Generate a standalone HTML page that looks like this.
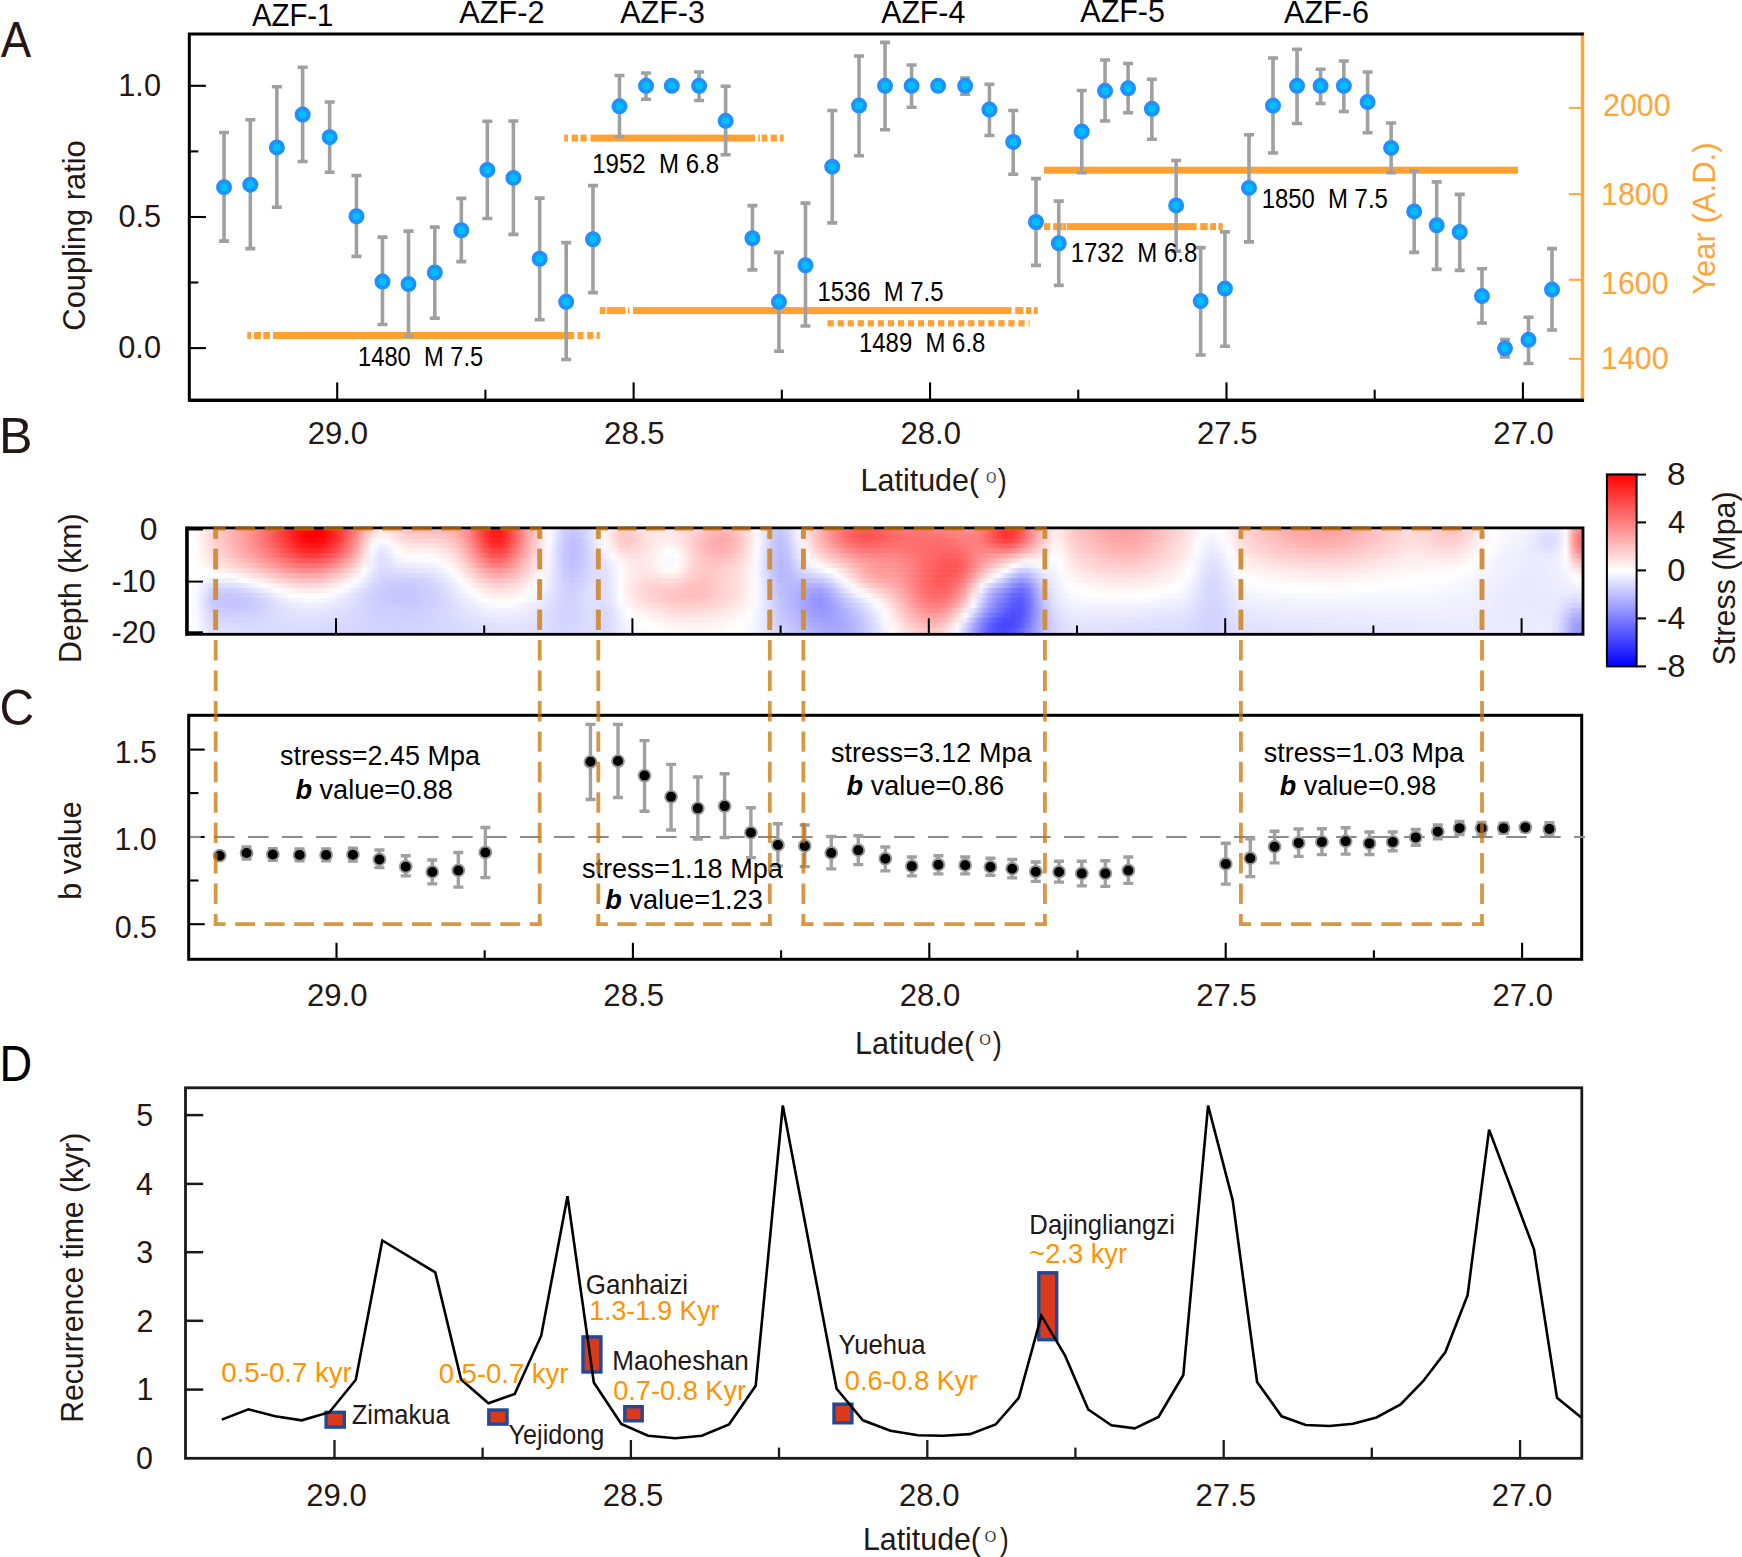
<!DOCTYPE html>
<html><head><meta charset="utf-8"><title>Figure</title>
<style>html,body{margin:0;padding:0;background:#fff}svg{display:block}text{font-family:"Liberation Sans",Arial,Helvetica,sans-serif}</style>
</head><body>
<svg width="1742" height="1557" viewBox="0 0 1742 1557">
<rect width="1742" height="1557" fill="#fff"/>
<text transform="translate(0.7 57) scale(0.9572 1.0400)" font-size="47.6" fill="#231815">A</text>
<text transform="translate(-0.92 453) scale(1.0563 1.0400)" font-size="47.6" fill="#231815">B</text>
<text transform="translate(-0.5 724.6) scale(1.0091 1.0400)" font-size="47.6" fill="#231815">C</text>
<text transform="translate(-0.52 1081.1) scale(0.9498 1.0400)" font-size="47.6" fill="#000">D</text>
<text transform="translate(252 25.9) scale(0.9627 1.0300)" font-size="30.4" fill="#000">AZF-1</text>
<text transform="translate(459.3 22.8) scale(1.0116 1.0300)" font-size="30.4" fill="#000">AZF-2</text>
<text transform="translate(620.2 22.8) scale(1.0031 1.0300)" font-size="30.4" fill="#000">AZF-3</text>
<text transform="translate(881.2 22.8) scale(0.9958 1.0300)" font-size="30.4" fill="#000">AZF-4</text>
<text transform="translate(1080.3 21.8) scale(1.0031 1.0300)" font-size="30.4" fill="#000">AZF-5</text>
<text transform="translate(1284.1 22.8) scale(1.0067 1.0300)" font-size="30.4" fill="#000">AZF-6</text>
<rect x="247.25" y="332" width="3.95" height="7" fill="#ffa033"/>
<rect x="254" y="332" width="6.9" height="7" fill="#ffa033"/>
<rect x="263.3" y="332" width="6.7" height="7" fill="#ffa033"/>
<rect x="273" y="332" width="301.2" height="7" fill="#ffa033"/>
<rect x="577.5" y="332" width="6" height="7" fill="#ffa033"/>
<rect x="587.2" y="332" width="6" height="7" fill="#ffa033"/>
<rect x="596.7" y="332" width="3" height="7" fill="#ffa033"/>
<rect x="564.2" y="134.6" width="3.8" height="7" fill="#ffa033"/>
<rect x="571.7" y="134.6" width="6.3" height="7" fill="#ffa033"/>
<rect x="580.5" y="134.6" width="6.2" height="7" fill="#ffa033"/>
<rect x="590.5" y="134.6" width="164.4" height="7" fill="#ffa033"/>
<rect x="758.2" y="134.6" width="1.7" height="7" fill="#ffa033"/>
<rect x="761.7" y="134.6" width="5.7" height="7" fill="#ffa033"/>
<rect x="770.7" y="134.6" width="6.2" height="7" fill="#ffa033"/>
<rect x="779.9" y="134.6" width="3.8" height="7" fill="#ffa033"/>
<rect x="599.7" y="307.1" width="5.8" height="7" fill="#ffa033"/>
<rect x="606.7" y="307.1" width="18.8" height="7" fill="#ffa033"/>
<rect x="628" y="307.1" width="1.2" height="7" fill="#ffa033"/>
<rect x="633" y="307.1" width="378.5" height="7" fill="#ffa033"/>
<rect x="1015.2" y="307.1" width="8.3" height="7" fill="#ffa033"/>
<rect x="1026" y="307.1" width="5.5" height="7" fill="#ffa033"/>
<rect x="1034" y="307.1" width="3.7" height="7" fill="#ffa033"/>
<rect x="827.5" y="320.2" width="6.2" height="6.2" fill="#ffa033"/>
<rect x="837.55" y="320.2" width="6.2" height="6.2" fill="#ffa033"/>
<rect x="847.6" y="320.2" width="6.2" height="6.2" fill="#ffa033"/>
<rect x="857.65" y="320.2" width="6.2" height="6.2" fill="#ffa033"/>
<rect x="867.7" y="320.2" width="6.2" height="6.2" fill="#ffa033"/>
<rect x="877.75" y="320.2" width="6.2" height="6.2" fill="#ffa033"/>
<rect x="887.8" y="320.2" width="6.2" height="6.2" fill="#ffa033"/>
<rect x="897.85" y="320.2" width="6.2" height="6.2" fill="#ffa033"/>
<rect x="907.9" y="320.2" width="6.2" height="6.2" fill="#ffa033"/>
<rect x="917.95" y="320.2" width="6.2" height="6.2" fill="#ffa033"/>
<rect x="928" y="320.2" width="6.2" height="6.2" fill="#ffa033"/>
<rect x="938.05" y="320.2" width="6.2" height="6.2" fill="#ffa033"/>
<rect x="948.1" y="320.2" width="6.2" height="6.2" fill="#ffa033"/>
<rect x="958.15" y="320.2" width="6.2" height="6.2" fill="#ffa033"/>
<rect x="968.2" y="320.2" width="6.2" height="6.2" fill="#ffa033"/>
<rect x="978.25" y="320.2" width="6.2" height="6.2" fill="#ffa033"/>
<rect x="988.3" y="320.2" width="6.2" height="6.2" fill="#ffa033"/>
<rect x="998.35" y="320.2" width="6.2" height="6.2" fill="#ffa033"/>
<rect x="1008.4" y="320.2" width="6.2" height="6.2" fill="#ffa033"/>
<rect x="1018.45" y="320.2" width="6.2" height="6.2" fill="#ffa033"/>
<rect x="1028.5" y="320.2" width="1" height="6.2" fill="#ffa033"/>
<rect x="1044" y="166.7" width="474" height="7" fill="#ffa033"/>
<rect x="1036.5" y="223.1" width="4.3" height="7" fill="#ffa033"/>
<rect x="1044" y="223.1" width="6.3" height="7" fill="#ffa033"/>
<rect x="1053.2" y="223.1" width="9.5" height="7" fill="#ffa033"/>
<rect x="1063.1" y="223.1" width="2.9" height="7" fill="#ffa033"/>
<rect x="1066.8" y="223.1" width="129.9" height="7" fill="#ffa033"/>
<rect x="1200.2" y="223.1" width="7.5" height="7" fill="#ffa033"/>
<rect x="1210.2" y="223.1" width="5.8" height="7" fill="#ffa033"/>
<rect x="1218.4" y="223.1" width="4.3" height="7" fill="#ffa033"/>
<g stroke="#a0a0a0" stroke-width="3.6" fill="none"><path d="M224.05 132.12 V241.5 M219.05 132.52 h10 M219.05 241.1 h10"/><path d="M250.33 119.36 V249.01 M245.33 119.76 h10 M245.33 248.61 h10"/><path d="M276.86 86.32 V207.71 M271.86 86.72 h10 M271.86 207.31 h10"/><path d="M302.64 66.8 V161.91 M297.64 67.2 h10 M297.64 161.51 h10"/><path d="M329.67 101.59 V172.67 M324.67 101.99 h10 M324.67 172.27 h10"/><path d="M356.45 175.17 V256.77 M351.45 175.57 h10 M351.45 256.37 h10"/><path d="M382.48 236.74 V324.84 M377.48 237.14 h10 M377.48 324.44 h10"/><path d="M408.51 230.74 V336.61 M403.51 231.14 h10 M403.51 336.21 h10"/><path d="M434.79 226.73 V318.59 M429.79 227.13 h10 M429.79 318.19 h10"/><path d="M461.32 197.95 V262.02 M456.32 198.35 h10 M456.32 261.62 h10"/><path d="M487.35 120.86 V218.97 M482.35 121.26 h10 M482.35 218.57 h10"/><path d="M513.38 120.61 V234.74 M508.38 121.01 h10 M508.38 234.34 h10"/><path d="M539.66 197.7 V320.09 M534.66 198.1 h10 M534.66 319.69 h10"/><path d="M566.19 242.25 V359.89 M561.19 242.65 h10 M561.19 359.49 h10"/><path d="M592.97 185.18 V293.06 M587.97 185.58 h10 M587.97 292.66 h10"/><path d="M619.5 75.06 V137.13 M614.5 75.46 h10 M614.5 136.73 h10"/><path d="M646.03 72.55 V99.59 M641.03 72.95 h10 M641.03 99.19 h10"/><path d="M699.1 71.55 V100.84 M694.1 71.95 h10 M694.1 100.44 h10"/><path d="M725.63 85.82 V155.15 M720.63 86.22 h10 M720.63 154.75 h10"/><path d="M752.41 205.21 V270.28 M747.41 205.61 h10 M747.41 269.88 h10"/><path d="M778.94 252.01 V351.63 M773.94 252.41 h10 M773.94 351.23 h10"/><path d="M805.47 202.7 V326.35 M800.47 203.1 h10 M800.47 325.95 h10"/><path d="M832.25 110.1 V223.23 M827.25 110.5 h10 M827.25 222.83 h10"/><path d="M859.03 55.54 V156.15 M854.03 55.94 h10 M854.03 155.75 h10"/><path d="M885.06 42.02 V130.12 M880.06 42.42 h10 M880.06 129.72 h10"/><path d="M911.59 64.55 V107.59 M906.59 64.95 h10 M906.59 107.19 h10"/><path d="M965.15 77.56 V94.58 M960.15 77.96 h10 M960.15 94.18 h10"/><path d="M989.43 83.82 V135.88 M984.43 84.22 h10 M984.43 135.48 h10"/><path d="M1013.21 110.1 V174.67 M1008.21 110.5 h10 M1008.21 174.27 h10"/><path d="M1035.98 178.18 V265.78 M1030.98 178.58 h10 M1030.98 265.38 h10"/><path d="M1058.76 200.7 V285.8 M1053.76 201.1 h10 M1053.76 285.4 h10"/><path d="M1081.78 90.07 V173.17 M1076.78 90.47 h10 M1076.78 172.77 h10"/><path d="M1105.06 59.54 V121.36 M1100.06 59.94 h10 M1100.06 120.96 h10"/><path d="M1128.09 63.04 V113.1 M1123.09 63.44 h10 M1123.09 112.7 h10"/><path d="M1151.86 78.81 V139.63 M1146.86 79.21 h10 M1146.86 139.23 h10"/><path d="M1176.14 160.16 V251.51 M1171.14 160.56 h10 M1171.14 251.11 h10"/><path d="M1200.67 247.26 V355.38 M1195.67 247.66 h10 M1195.67 354.98 h10"/><path d="M1224.95 231.49 V346.62 M1219.95 231.89 h10 M1219.95 346.22 h10"/><path d="M1248.98 134.38 V242.25 M1243.98 134.78 h10 M1243.98 241.85 h10"/><path d="M1273 57.54 V153.4 M1268 57.94 h10 M1268 153 h10"/><path d="M1297.03 48.78 V123.86 M1292.03 49.18 h10 M1292.03 123.46 h10"/><path d="M1320.56 68.8 V103.84 M1315.56 69.2 h10 M1315.56 103.44 h10"/><path d="M1343.84 60.54 V111.85 M1338.84 60.94 h10 M1338.84 111.45 h10"/><path d="M1367.61 71.55 V133.12 M1362.61 71.95 h10 M1362.61 132.72 h10"/><path d="M1391.14 122.61 V173.17 M1386.14 123.01 h10 M1386.14 172.77 h10"/><path d="M1414.17 170.67 V252.76 M1409.17 171.07 h10 M1409.17 252.36 h10"/><path d="M1436.69 181.43 V269.78 M1431.69 181.83 h10 M1431.69 269.38 h10"/><path d="M1459.72 193.94 V270.78 M1454.72 194.34 h10 M1454.72 270.38 h10"/><path d="M1481.99 268.28 V323.34 M1476.99 268.68 h10 M1476.99 322.94 h10"/><path d="M1504.98 339.11 V357.38 M1499.98 339.51 h10 M1499.98 356.98 h10"/><path d="M1528.51 316.84 V363.89 M1523.51 317.24 h10 M1523.51 363.49 h10"/><path d="M1552.03 248.26 V330.35 M1547.03 248.66 h10 M1547.03 329.95 h10"/></g>
<g fill="#00bfff" stroke="#1e90ff" stroke-width="4"><circle cx="224.05" cy="187.19" r="6"/><circle cx="250.33" cy="184.68" r="6"/><circle cx="276.86" cy="147.39" r="6"/><circle cx="302.64" cy="114.6" r="6"/><circle cx="329.67" cy="137.13" r="6"/><circle cx="356.45" cy="216.22" r="6"/><circle cx="382.48" cy="281.55" r="6"/><circle cx="408.51" cy="284.05" r="6"/><circle cx="434.79" cy="272.53" r="6"/><circle cx="461.32" cy="230.24" r="6"/><circle cx="487.35" cy="169.92" r="6"/><circle cx="513.38" cy="177.93" r="6"/><circle cx="539.66" cy="258.77" r="6"/><circle cx="566.19" cy="301.82" r="6"/><circle cx="592.97" cy="239.25" r="6"/><circle cx="619.5" cy="106.34" r="6"/><circle cx="646.03" cy="85.82" r="6"/><circle cx="671.81" cy="85.82" r="6"/><circle cx="699.1" cy="85.82" r="6"/><circle cx="725.63" cy="120.86" r="6"/><circle cx="752.41" cy="238.25" r="6"/><circle cx="778.94" cy="301.82" r="6"/><circle cx="805.47" cy="265.28" r="6"/><circle cx="832.25" cy="166.66" r="6"/><circle cx="859.03" cy="105.59" r="6"/><circle cx="885.06" cy="85.82" r="6"/><circle cx="911.59" cy="85.82" r="6"/><circle cx="938.12" cy="85.82" r="6"/><circle cx="965.15" cy="85.82" r="6"/><circle cx="989.43" cy="109.6" r="6"/><circle cx="1013.21" cy="141.88" r="6"/><circle cx="1035.98" cy="221.98" r="6"/><circle cx="1058.76" cy="243.25" r="6"/><circle cx="1081.78" cy="131.62" r="6"/><circle cx="1105.06" cy="90.83" r="6"/><circle cx="1128.09" cy="88.32" r="6"/><circle cx="1151.86" cy="108.85" r="6"/><circle cx="1176.14" cy="205.46" r="6"/><circle cx="1200.67" cy="301.07" r="6"/><circle cx="1224.95" cy="288.55" r="6"/><circle cx="1248.98" cy="187.94" r="6"/><circle cx="1273" cy="105.59" r="6"/><circle cx="1297.03" cy="85.82" r="6"/><circle cx="1320.56" cy="85.82" r="6"/><circle cx="1343.84" cy="85.82" r="6"/><circle cx="1367.61" cy="102.09" r="6"/><circle cx="1391.14" cy="147.89" r="6"/><circle cx="1414.17" cy="211.46" r="6"/><circle cx="1436.69" cy="225.23" r="6"/><circle cx="1459.72" cy="231.99" r="6"/><circle cx="1481.99" cy="296.06" r="6"/><circle cx="1504.98" cy="348.37" r="6"/><circle cx="1528.51" cy="339.86" r="6"/><circle cx="1552.03" cy="289.55" r="6"/></g>
<text transform="translate(358.12 365.9) scale(0.8969 1.0300)" font-size="26.4" fill="#000" style="white-space:pre">1480  M 7.5</text>
<text transform="translate(592.2 173.2) scale(0.9101 1.0300)" font-size="26.4" fill="#000" style="white-space:pre">1952  M 6.8</text>
<text transform="translate(817.41 300.8) scale(0.9050 1.0300)" font-size="26.4" fill="#000" style="white-space:pre">1536  M 7.5</text>
<text transform="translate(859.01 352.1) scale(0.9065 1.0300)" font-size="26.4" fill="#000" style="white-space:pre">1489  M 6.8</text>
<text transform="translate(1070.7 262) scale(0.9087 1.0300)" font-size="26.4" fill="#000" style="white-space:pre">1732  M 6.8</text>
<text transform="translate(1261.71 208.2) scale(0.9050 1.0300)" font-size="26.4" fill="#000" style="white-space:pre">1850  M 7.5</text>
<line x1="1582.5" y1="32.5" x2="1582.5" y2="402.1" stroke="#ffa537" stroke-width="3.5"/>
<path d="M1583.8 34 H189.3 V400.2 H1583.8" fill="none" stroke="#000" stroke-width="3"/>
<line x1="189.3" y1="400.4" x2="1583.8" y2="400.4" stroke="#000" stroke-width="3.4"/>
<line x1="189.3" y1="85.8" x2="205.9" y2="85.8" stroke="#000" stroke-width="2.1"/>
<line x1="189.3" y1="217" x2="205.9" y2="217" stroke="#000" stroke-width="2.1"/>
<line x1="189.3" y1="348.1" x2="205.9" y2="348.1" stroke="#000" stroke-width="2.1"/>
<line x1="189.3" y1="151.4" x2="198.3" y2="151.4" stroke="#000" stroke-width="2.1"/>
<line x1="189.3" y1="282.5" x2="198.3" y2="282.5" stroke="#000" stroke-width="2.1"/>
<line x1="337.2" y1="382.4" x2="337.2" y2="400" stroke="#000" stroke-width="2.1"/>
<line x1="485.4" y1="389.7" x2="485.4" y2="400" stroke="#000" stroke-width="2.1"/>
<line x1="633.63" y1="382.4" x2="633.63" y2="400" stroke="#000" stroke-width="2.1"/>
<line x1="781.83" y1="389.7" x2="781.83" y2="400" stroke="#000" stroke-width="2.1"/>
<line x1="930.06" y1="382.4" x2="930.06" y2="400" stroke="#000" stroke-width="2.1"/>
<line x1="1078.26" y1="389.7" x2="1078.26" y2="400" stroke="#000" stroke-width="2.1"/>
<line x1="1226.49" y1="382.4" x2="1226.49" y2="400" stroke="#000" stroke-width="2.1"/>
<line x1="1374.69" y1="389.7" x2="1374.69" y2="400" stroke="#000" stroke-width="2.1"/>
<line x1="1522.92" y1="382.4" x2="1522.92" y2="400" stroke="#000" stroke-width="2.1"/>
<line x1="1568.8" y1="107.9" x2="1581.5" y2="107.9" stroke="#ffa537" stroke-width="2"/>
<line x1="1568.8" y1="194.1" x2="1581.5" y2="194.1" stroke="#ffa537" stroke-width="2"/>
<line x1="1568.8" y1="279.8" x2="1581.5" y2="279.8" stroke="#ffa537" stroke-width="2"/>
<line x1="1568.8" y1="358.8" x2="1581.5" y2="358.8" stroke="#ffa537" stroke-width="2"/>
<text transform="translate(1603.02 116.3) scale(1.0000 1.0300)" font-size="30.4" fill="#ffa537">2000</text>
<text transform="translate(1601.02 204.6) scale(1.0000 1.0300)" font-size="30.4" fill="#ffa537">1800</text>
<text transform="translate(1601.02 293.7) scale(1.0000 1.0300)" font-size="30.4" fill="#ffa537">1600</text>
<text transform="translate(1601.02 369) scale(1.0000 1.0300)" font-size="30.4" fill="#ffa537">1400</text>
<text transform="translate(1715.2 294.78) rotate(-90) scale(1.0210 1.0300)" font-size="30.4" fill="#ffa537">Year (A.D.)</text>
<text transform="translate(118.3 96.1) scale(1.0100 1.0300)" font-size="30.4" fill="#231815">1.0</text>
<text transform="translate(118.45 227.3) scale(1.0100 1.0300)" font-size="30.4" fill="#231815">0.5</text>
<text transform="translate(118.3 358.4) scale(1.0100 1.0300)" font-size="30.4" fill="#231815">0.0</text>
<text transform="translate(84.6 330.64) rotate(-90) scale(1.0155 1.0300)" font-size="30.4" fill="#231815">Coupling ratio</text>
<text transform="translate(307.65 444.3) scale(1.0222 1.0300)" font-size="30.4" fill="#231815">29.0</text>
<text transform="translate(604.07 444.3) scale(1.0250 1.0300)" font-size="30.4" fill="#231815">28.5</text>
<text transform="translate(900.51 444.3) scale(1.0222 1.0300)" font-size="30.4" fill="#231815">28.0</text>
<text transform="translate(1196.93 444.3) scale(1.0250 1.0300)" font-size="30.4" fill="#231815">27.5</text>
<text transform="translate(1493.37 444.3) scale(1.0222 1.0300)" font-size="30.4" fill="#231815">27.0</text>
<text transform="translate(860.56 491) scale(1.0028 1.0300)" font-size="30.4" fill="#231815">Latitude(</text>
<text transform="translate(985.81 483.1) scale(1.0254 1.0000)" font-size="19.3" fill="#111" stroke="#fff" stroke-width="0.5">o</text>
<text transform="translate(997.86 491) scale(0.8937 1.0300)" font-size="30.4" fill="#231815">)</text>
<defs><linearGradient id="h0"><stop offset="0.0000" stop-color="#ffffff"/><stop offset="0.0057" stop-color="#fffbfb"/><stop offset="0.0115" stop-color="#ffeaea"/><stop offset="0.0172" stop-color="#ffd4d4"/><stop offset="0.0230" stop-color="#ffc8c8"/><stop offset="0.0402" stop-color="#ff9e9e"/><stop offset="0.0460" stop-color="#ff8d8d"/><stop offset="0.0517" stop-color="#ff7c7c"/><stop offset="0.0575" stop-color="#ff6868"/><stop offset="0.0632" stop-color="#ff5252"/><stop offset="0.0690" stop-color="#ff3a3a"/><stop offset="0.0747" stop-color="#ff2121"/><stop offset="0.0805" stop-color="#ff0b0b"/><stop offset="0.0862" stop-color="#ff0000"/><stop offset="0.0920" stop-color="#ff0000"/><stop offset="0.0977" stop-color="#ff0505"/><stop offset="0.1034" stop-color="#ff1d1d"/><stop offset="0.1092" stop-color="#ff3c3c"/><stop offset="0.1149" stop-color="#ff6060"/><stop offset="0.1207" stop-color="#ff8787"/><stop offset="0.1264" stop-color="#ffb1b1"/><stop offset="0.1322" stop-color="#ffd4d4"/><stop offset="0.1379" stop-color="#ffe5e5"/><stop offset="0.1437" stop-color="#ffe1e1"/><stop offset="0.1494" stop-color="#ffd4d4"/><stop offset="0.1552" stop-color="#ffc9c9"/><stop offset="0.1609" stop-color="#ffc2c2"/><stop offset="0.1667" stop-color="#ffbebe"/><stop offset="0.1782" stop-color="#ffbbbb"/><stop offset="0.1839" stop-color="#ffb8b8"/><stop offset="0.1897" stop-color="#ffb1b1"/><stop offset="0.1954" stop-color="#ffa1a1"/><stop offset="0.2011" stop-color="#ff8787"/><stop offset="0.2069" stop-color="#ff6060"/><stop offset="0.2126" stop-color="#ff3636"/><stop offset="0.2184" stop-color="#ff1a1a"/><stop offset="0.2241" stop-color="#ff1a1a"/><stop offset="0.2299" stop-color="#ff3939"/><stop offset="0.2414" stop-color="#ff9797"/><stop offset="0.2471" stop-color="#ffbebe"/><stop offset="0.2529" stop-color="#ffdfdf"/><stop offset="0.2586" stop-color="#fffdfd"/><stop offset="0.2644" stop-color="#e5e5ff"/><stop offset="0.2701" stop-color="#cfcfff"/><stop offset="0.2759" stop-color="#c7c7ff"/><stop offset="0.2816" stop-color="#cdcdff"/><stop offset="0.2874" stop-color="#ddddff"/><stop offset="0.2931" stop-color="#f0f0ff"/><stop offset="0.2989" stop-color="#fff9f9"/><stop offset="0.3046" stop-color="#ffe2e2"/><stop offset="0.3103" stop-color="#ffd0d0"/><stop offset="0.3161" stop-color="#ffcece"/><stop offset="0.3218" stop-color="#ffd8d8"/><stop offset="0.3276" stop-color="#ffe2e2"/><stop offset="0.3333" stop-color="#ffe8e8"/><stop offset="0.3391" stop-color="#ffe9e9"/><stop offset="0.3448" stop-color="#ffe8e8"/><stop offset="0.3506" stop-color="#ffe4e4"/><stop offset="0.3563" stop-color="#ffdddd"/><stop offset="0.3678" stop-color="#ffc9c9"/><stop offset="0.3736" stop-color="#ffbebe"/><stop offset="0.3793" stop-color="#ffb7b7"/><stop offset="0.3851" stop-color="#ffb7b7"/><stop offset="0.3908" stop-color="#ffc0c0"/><stop offset="0.3966" stop-color="#ffcfcf"/><stop offset="0.4023" stop-color="#ffe3e3"/><stop offset="0.4080" stop-color="#fffdfd"/><stop offset="0.4138" stop-color="#e5e5ff"/><stop offset="0.4195" stop-color="#cdcdff"/><stop offset="0.4253" stop-color="#c6c6ff"/><stop offset="0.4310" stop-color="#d4d4ff"/><stop offset="0.4368" stop-color="#f2f2ff"/><stop offset="0.4425" stop-color="#ffeaea"/><stop offset="0.4483" stop-color="#ffcccc"/><stop offset="0.4540" stop-color="#ffb1b1"/><stop offset="0.4598" stop-color="#ff9999"/><stop offset="0.4655" stop-color="#ff8282"/><stop offset="0.4713" stop-color="#ff6f6f"/><stop offset="0.4770" stop-color="#ff6161"/><stop offset="0.4828" stop-color="#ff5959"/><stop offset="0.4885" stop-color="#ff5858"/><stop offset="0.4943" stop-color="#ff5c5c"/><stop offset="0.5057" stop-color="#ff6c6c"/><stop offset="0.5172" stop-color="#ff7777"/><stop offset="0.5287" stop-color="#ff7b7b"/><stop offset="0.5402" stop-color="#ff7e7e"/><stop offset="0.5517" stop-color="#ff8787"/><stop offset="0.5575" stop-color="#ff8b8b"/><stop offset="0.5632" stop-color="#ff8989"/><stop offset="0.5690" stop-color="#ff7c7c"/><stop offset="0.5747" stop-color="#ff6464"/><stop offset="0.5805" stop-color="#ff4747"/><stop offset="0.5862" stop-color="#ff3535"/><stop offset="0.5920" stop-color="#ff3a3a"/><stop offset="0.5977" stop-color="#ff5858"/><stop offset="0.6034" stop-color="#ff8282"/><stop offset="0.6092" stop-color="#ffaaaa"/><stop offset="0.6149" stop-color="#ffcdcd"/><stop offset="0.6207" stop-color="#ffe7e7"/><stop offset="0.6264" stop-color="#ffe5e5"/><stop offset="0.6322" stop-color="#ffd2d2"/><stop offset="0.6379" stop-color="#ffc5c5"/><stop offset="0.6437" stop-color="#ffbcbc"/><stop offset="0.6552" stop-color="#ffabab"/><stop offset="0.6609" stop-color="#ffa5a5"/><stop offset="0.6667" stop-color="#ffa1a1"/><stop offset="0.6724" stop-color="#ffa0a0"/><stop offset="0.6782" stop-color="#ffa2a2"/><stop offset="0.6839" stop-color="#ffa8a8"/><stop offset="0.6897" stop-color="#ffb0b0"/><stop offset="0.7126" stop-color="#ffd9d9"/><stop offset="0.7184" stop-color="#ffe6e6"/><stop offset="0.7241" stop-color="#fff5f5"/><stop offset="0.7299" stop-color="#fcfcff"/><stop offset="0.7356" stop-color="#f9f9ff"/><stop offset="0.7414" stop-color="#fffefe"/><stop offset="0.7529" stop-color="#ffe1e1"/><stop offset="0.7586" stop-color="#ffd5d5"/><stop offset="0.7816" stop-color="#ffb6b6"/><stop offset="0.7989" stop-color="#ffa7a7"/><stop offset="0.8046" stop-color="#ffa5a5"/><stop offset="0.8103" stop-color="#ffa3a3"/><stop offset="0.8276" stop-color="#ffa9a9"/><stop offset="0.8333" stop-color="#ffadad"/><stop offset="0.8506" stop-color="#ffc0c0"/><stop offset="0.8678" stop-color="#ffd4d4"/><stop offset="0.8736" stop-color="#ffd8d8"/><stop offset="0.8793" stop-color="#ffdada"/><stop offset="0.8851" stop-color="#ffd7d7"/><stop offset="0.8908" stop-color="#ffd1d1"/><stop offset="0.8966" stop-color="#ffc9c9"/><stop offset="0.9023" stop-color="#ffc4c4"/><stop offset="0.9080" stop-color="#ffc5c5"/><stop offset="0.9138" stop-color="#ffcece"/><stop offset="0.9195" stop-color="#ffdbdb"/><stop offset="0.9253" stop-color="#ffeaea"/><stop offset="0.9310" stop-color="#fff6f6"/><stop offset="0.9368" stop-color="#fffefe"/><stop offset="0.9425" stop-color="#fbfbff"/><stop offset="0.9598" stop-color="#f3f3ff"/><stop offset="0.9655" stop-color="#eeeeff"/><stop offset="0.9713" stop-color="#e7e7ff"/><stop offset="0.9770" stop-color="#e5e5ff"/><stop offset="0.9828" stop-color="#ebebff"/><stop offset="0.9885" stop-color="#fff9f9"/><stop offset="0.9943" stop-color="#ffa3a3"/><stop offset="1.0000" stop-color="#ff7a7a"/></linearGradient><linearGradient id="h1"><stop offset="0.0000" stop-color="#ffffff"/><stop offset="0.0057" stop-color="#fffbfb"/><stop offset="0.0115" stop-color="#ffeaea"/><stop offset="0.0172" stop-color="#ffd4d4"/><stop offset="0.0230" stop-color="#ffc8c8"/><stop offset="0.0345" stop-color="#ffadad"/><stop offset="0.0460" stop-color="#ff8c8c"/><stop offset="0.0517" stop-color="#ff7b7b"/><stop offset="0.0575" stop-color="#ff6767"/><stop offset="0.0690" stop-color="#ff3a3a"/><stop offset="0.0747" stop-color="#ff2222"/><stop offset="0.0805" stop-color="#ff0d0d"/><stop offset="0.0862" stop-color="#ff0000"/><stop offset="0.0920" stop-color="#ff0000"/><stop offset="0.0977" stop-color="#ff0808"/><stop offset="0.1034" stop-color="#ff1f1f"/><stop offset="0.1092" stop-color="#ff3e3e"/><stop offset="0.1149" stop-color="#ff6262"/><stop offset="0.1207" stop-color="#ff8c8c"/><stop offset="0.1264" stop-color="#ffbaba"/><stop offset="0.1322" stop-color="#ffe2e2"/><stop offset="0.1379" stop-color="#fff4f4"/><stop offset="0.1437" stop-color="#ffeeee"/><stop offset="0.1494" stop-color="#ffdede"/><stop offset="0.1552" stop-color="#ffd2d2"/><stop offset="0.1609" stop-color="#ffcccc"/><stop offset="0.1782" stop-color="#ffc6c6"/><stop offset="0.1839" stop-color="#ffc1c1"/><stop offset="0.1897" stop-color="#ffb8b8"/><stop offset="0.1954" stop-color="#ffa7a7"/><stop offset="0.2011" stop-color="#ff8a8a"/><stop offset="0.2069" stop-color="#ff6363"/><stop offset="0.2126" stop-color="#ff3838"/><stop offset="0.2184" stop-color="#ff1c1c"/><stop offset="0.2241" stop-color="#ff1c1c"/><stop offset="0.2299" stop-color="#ff3a3a"/><stop offset="0.2414" stop-color="#ff9797"/><stop offset="0.2471" stop-color="#ffbebe"/><stop offset="0.2529" stop-color="#ffe0e0"/><stop offset="0.2586" stop-color="#ffffff"/><stop offset="0.2644" stop-color="#e2e2ff"/><stop offset="0.2701" stop-color="#ccccff"/><stop offset="0.2759" stop-color="#c3c3ff"/><stop offset="0.2816" stop-color="#cacaff"/><stop offset="0.2874" stop-color="#dbdbff"/><stop offset="0.2931" stop-color="#efefff"/><stop offset="0.2989" stop-color="#fff9f9"/><stop offset="0.3046" stop-color="#ffdede"/><stop offset="0.3103" stop-color="#ffcaca"/><stop offset="0.3161" stop-color="#ffc8c8"/><stop offset="0.3218" stop-color="#ffd3d3"/><stop offset="0.3276" stop-color="#ffdfdf"/><stop offset="0.3333" stop-color="#ffe7e7"/><stop offset="0.3391" stop-color="#ffeaea"/><stop offset="0.3448" stop-color="#ffeaea"/><stop offset="0.3506" stop-color="#ffe5e5"/><stop offset="0.3563" stop-color="#ffdcdc"/><stop offset="0.3678" stop-color="#ffc3c3"/><stop offset="0.3736" stop-color="#ffb7b7"/><stop offset="0.3793" stop-color="#ffafaf"/><stop offset="0.3851" stop-color="#ffafaf"/><stop offset="0.3908" stop-color="#ffb9b9"/><stop offset="0.3966" stop-color="#ffc9c9"/><stop offset="0.4023" stop-color="#ffe0e0"/><stop offset="0.4080" stop-color="#fffcfc"/><stop offset="0.4138" stop-color="#e4e4ff"/><stop offset="0.4195" stop-color="#cbcbff"/><stop offset="0.4253" stop-color="#c3c3ff"/><stop offset="0.4310" stop-color="#d1d1ff"/><stop offset="0.4368" stop-color="#f0f0ff"/><stop offset="0.4425" stop-color="#ffebeb"/><stop offset="0.4483" stop-color="#ffcccc"/><stop offset="0.4540" stop-color="#ffb1b1"/><stop offset="0.4598" stop-color="#ff9898"/><stop offset="0.4655" stop-color="#ff8181"/><stop offset="0.4713" stop-color="#ff6d6d"/><stop offset="0.4770" stop-color="#ff5e5e"/><stop offset="0.4828" stop-color="#ff5656"/><stop offset="0.4885" stop-color="#ff5555"/><stop offset="0.4943" stop-color="#ff5959"/><stop offset="0.5057" stop-color="#ff6868"/><stop offset="0.5115" stop-color="#ff6e6e"/><stop offset="0.5230" stop-color="#ff7373"/><stop offset="0.5287" stop-color="#ff7373"/><stop offset="0.5460" stop-color="#ff7979"/><stop offset="0.5517" stop-color="#ff7f7f"/><stop offset="0.5575" stop-color="#ff8484"/><stop offset="0.5632" stop-color="#ff8383"/><stop offset="0.5690" stop-color="#ff7878"/><stop offset="0.5747" stop-color="#ff6161"/><stop offset="0.5805" stop-color="#ff4545"/><stop offset="0.5862" stop-color="#ff3434"/><stop offset="0.5920" stop-color="#ff3a3a"/><stop offset="0.5977" stop-color="#ff5959"/><stop offset="0.6034" stop-color="#ff8383"/><stop offset="0.6092" stop-color="#ffabab"/><stop offset="0.6149" stop-color="#ffcece"/><stop offset="0.6207" stop-color="#ffeaea"/><stop offset="0.6264" stop-color="#ffe7e7"/><stop offset="0.6322" stop-color="#ffd4d4"/><stop offset="0.6379" stop-color="#ffc7c7"/><stop offset="0.6437" stop-color="#ffbebe"/><stop offset="0.6552" stop-color="#ffadad"/><stop offset="0.6609" stop-color="#ffa7a7"/><stop offset="0.6667" stop-color="#ffa3a3"/><stop offset="0.6724" stop-color="#ffa2a2"/><stop offset="0.6782" stop-color="#ffa5a5"/><stop offset="0.6839" stop-color="#ffaaaa"/><stop offset="0.6897" stop-color="#ffb2b2"/><stop offset="0.7126" stop-color="#ffdbdb"/><stop offset="0.7184" stop-color="#ffe8e8"/><stop offset="0.7241" stop-color="#fff7f7"/><stop offset="0.7299" stop-color="#fafaff"/><stop offset="0.7356" stop-color="#f5f5ff"/><stop offset="0.7414" stop-color="#fdfdff"/><stop offset="0.7471" stop-color="#fff2f2"/><stop offset="0.7529" stop-color="#ffe2e2"/><stop offset="0.7586" stop-color="#ffd6d6"/><stop offset="0.7644" stop-color="#ffcdcd"/><stop offset="0.7816" stop-color="#ffb8b8"/><stop offset="0.7931" stop-color="#ffadad"/><stop offset="0.8046" stop-color="#ffa7a7"/><stop offset="0.8161" stop-color="#ffa6a6"/><stop offset="0.8276" stop-color="#ffabab"/><stop offset="0.8333" stop-color="#ffafaf"/><stop offset="0.8506" stop-color="#ffc2c2"/><stop offset="0.8736" stop-color="#ffdada"/><stop offset="0.8793" stop-color="#ffdbdb"/><stop offset="0.8851" stop-color="#ffd9d9"/><stop offset="0.8908" stop-color="#ffd3d3"/><stop offset="0.8966" stop-color="#ffcbcb"/><stop offset="0.9023" stop-color="#ffc7c7"/><stop offset="0.9080" stop-color="#ffc8c8"/><stop offset="0.9138" stop-color="#ffd0d0"/><stop offset="0.9195" stop-color="#ffdddd"/><stop offset="0.9253" stop-color="#ffebeb"/><stop offset="0.9310" stop-color="#fff7f7"/><stop offset="0.9368" stop-color="#ffffff"/><stop offset="0.9425" stop-color="#fafaff"/><stop offset="0.9483" stop-color="#f6f6ff"/><stop offset="0.9540" stop-color="#f4f4ff"/><stop offset="0.9598" stop-color="#f0f0ff"/><stop offset="0.9655" stop-color="#e9e9ff"/><stop offset="0.9713" stop-color="#e0e0ff"/><stop offset="0.9770" stop-color="#ddddff"/><stop offset="0.9828" stop-color="#e5e5ff"/><stop offset="0.9885" stop-color="#fffafa"/><stop offset="0.9943" stop-color="#ff9999"/><stop offset="1.0000" stop-color="#ff6b6b"/></linearGradient><linearGradient id="h2"><stop offset="0.0000" stop-color="#ffffff"/><stop offset="0.0057" stop-color="#fffcfc"/><stop offset="0.0115" stop-color="#ffeaea"/><stop offset="0.0172" stop-color="#ffd5d5"/><stop offset="0.0230" stop-color="#ffc9c9"/><stop offset="0.0345" stop-color="#ffaeae"/><stop offset="0.0460" stop-color="#ff8e8e"/><stop offset="0.0575" stop-color="#ff6969"/><stop offset="0.0690" stop-color="#ff3e3e"/><stop offset="0.0747" stop-color="#ff2727"/><stop offset="0.0805" stop-color="#ff1313"/><stop offset="0.0862" stop-color="#ff0707"/><stop offset="0.0920" stop-color="#ff0505"/><stop offset="0.0977" stop-color="#ff1010"/><stop offset="0.1034" stop-color="#ff2626"/><stop offset="0.1092" stop-color="#ff4545"/><stop offset="0.1149" stop-color="#ff6969"/><stop offset="0.1207" stop-color="#ff9393"/><stop offset="0.1264" stop-color="#ffc4c4"/><stop offset="0.1322" stop-color="#fff0f0"/><stop offset="0.1379" stop-color="#fbfbff"/><stop offset="0.1437" stop-color="#fffcfc"/><stop offset="0.1494" stop-color="#ffeaea"/><stop offset="0.1552" stop-color="#ffdddd"/><stop offset="0.1609" stop-color="#ffd8d8"/><stop offset="0.1724" stop-color="#ffd6d6"/><stop offset="0.1782" stop-color="#ffd3d3"/><stop offset="0.1839" stop-color="#ffcdcd"/><stop offset="0.1897" stop-color="#ffc2c2"/><stop offset="0.1954" stop-color="#ffafaf"/><stop offset="0.2011" stop-color="#ff9191"/><stop offset="0.2069" stop-color="#ff6969"/><stop offset="0.2126" stop-color="#ff4040"/><stop offset="0.2184" stop-color="#ff2424"/><stop offset="0.2241" stop-color="#ff2424"/><stop offset="0.2299" stop-color="#ff4040"/><stop offset="0.2414" stop-color="#ff9999"/><stop offset="0.2471" stop-color="#ffc0c0"/><stop offset="0.2529" stop-color="#ffe1e1"/><stop offset="0.2586" stop-color="#fdfdff"/><stop offset="0.2644" stop-color="#e0e0ff"/><stop offset="0.2701" stop-color="#c9c9ff"/><stop offset="0.2759" stop-color="#c0c0ff"/><stop offset="0.2816" stop-color="#c7c7ff"/><stop offset="0.2874" stop-color="#d9d9ff"/><stop offset="0.2931" stop-color="#ededff"/><stop offset="0.2989" stop-color="#fffbfb"/><stop offset="0.3046" stop-color="#ffe1e1"/><stop offset="0.3103" stop-color="#ffcbcb"/><stop offset="0.3161" stop-color="#ffc8c8"/><stop offset="0.3218" stop-color="#ffd2d2"/><stop offset="0.3276" stop-color="#ffdfdf"/><stop offset="0.3333" stop-color="#ffe7e7"/><stop offset="0.3391" stop-color="#ffeded"/><stop offset="0.3448" stop-color="#ffefef"/><stop offset="0.3506" stop-color="#ffe9e9"/><stop offset="0.3563" stop-color="#ffdddd"/><stop offset="0.3678" stop-color="#ffbfbf"/><stop offset="0.3736" stop-color="#ffb3b3"/><stop offset="0.3793" stop-color="#ffabab"/><stop offset="0.3851" stop-color="#ffacac"/><stop offset="0.3908" stop-color="#ffb6b6"/><stop offset="0.3966" stop-color="#ffc7c7"/><stop offset="0.4023" stop-color="#ffdfdf"/><stop offset="0.4080" stop-color="#fffcfc"/><stop offset="0.4138" stop-color="#e3e3ff"/><stop offset="0.4195" stop-color="#c9c9ff"/><stop offset="0.4253" stop-color="#c0c0ff"/><stop offset="0.4310" stop-color="#ceceff"/><stop offset="0.4368" stop-color="#ededff"/><stop offset="0.4425" stop-color="#ffeeee"/><stop offset="0.4483" stop-color="#ffcfcf"/><stop offset="0.4598" stop-color="#ff9c9c"/><stop offset="0.4655" stop-color="#ff8686"/><stop offset="0.4713" stop-color="#ff7373"/><stop offset="0.4770" stop-color="#ff6464"/><stop offset="0.4828" stop-color="#ff5c5c"/><stop offset="0.4885" stop-color="#ff5a5a"/><stop offset="0.5057" stop-color="#ff6969"/><stop offset="0.5115" stop-color="#ff6e6e"/><stop offset="0.5287" stop-color="#ff6e6e"/><stop offset="0.5402" stop-color="#ff6f6f"/><stop offset="0.5460" stop-color="#ff7272"/><stop offset="0.5517" stop-color="#ff7878"/><stop offset="0.5575" stop-color="#ff7e7e"/><stop offset="0.5632" stop-color="#ff8080"/><stop offset="0.5690" stop-color="#ff7a7a"/><stop offset="0.5747" stop-color="#ff6767"/><stop offset="0.5805" stop-color="#ff5151"/><stop offset="0.5862" stop-color="#ff4343"/><stop offset="0.5920" stop-color="#ff4b4b"/><stop offset="0.5977" stop-color="#ff6868"/><stop offset="0.6034" stop-color="#ff8f8f"/><stop offset="0.6092" stop-color="#ffb3b3"/><stop offset="0.6149" stop-color="#ffd3d3"/><stop offset="0.6207" stop-color="#ffeeee"/><stop offset="0.6264" stop-color="#ffeaea"/><stop offset="0.6322" stop-color="#ffd6d6"/><stop offset="0.6379" stop-color="#ffc9c9"/><stop offset="0.6437" stop-color="#ffc1c1"/><stop offset="0.6494" stop-color="#ffb8b8"/><stop offset="0.6609" stop-color="#ffabab"/><stop offset="0.6667" stop-color="#ffa7a7"/><stop offset="0.6724" stop-color="#ffa6a6"/><stop offset="0.6782" stop-color="#ffa8a8"/><stop offset="0.6897" stop-color="#ffb5b5"/><stop offset="0.7126" stop-color="#ffdddd"/><stop offset="0.7184" stop-color="#ffeaea"/><stop offset="0.7241" stop-color="#fffafa"/><stop offset="0.7299" stop-color="#f6f6ff"/><stop offset="0.7356" stop-color="#f2f2ff"/><stop offset="0.7414" stop-color="#fafaff"/><stop offset="0.7471" stop-color="#fff5f5"/><stop offset="0.7529" stop-color="#ffe5e5"/><stop offset="0.7586" stop-color="#ffd9d9"/><stop offset="0.7644" stop-color="#ffd0d0"/><stop offset="0.7816" stop-color="#ffbcbc"/><stop offset="0.7931" stop-color="#ffb2b2"/><stop offset="0.8046" stop-color="#ffacac"/><stop offset="0.8161" stop-color="#ffabab"/><stop offset="0.8276" stop-color="#ffb0b0"/><stop offset="0.8506" stop-color="#ffc5c5"/><stop offset="0.8678" stop-color="#ffd8d8"/><stop offset="0.8736" stop-color="#ffdcdc"/><stop offset="0.8793" stop-color="#ffdede"/><stop offset="0.8851" stop-color="#ffdcdc"/><stop offset="0.8908" stop-color="#ffd7d7"/><stop offset="0.8966" stop-color="#ffd0d0"/><stop offset="0.9023" stop-color="#ffcccc"/><stop offset="0.9080" stop-color="#ffcece"/><stop offset="0.9138" stop-color="#ffd5d5"/><stop offset="0.9195" stop-color="#ffe1e1"/><stop offset="0.9253" stop-color="#ffeeee"/><stop offset="0.9310" stop-color="#fff9f9"/><stop offset="0.9368" stop-color="#fdfdff"/><stop offset="0.9425" stop-color="#f8f8ff"/><stop offset="0.9540" stop-color="#f3f3ff"/><stop offset="0.9598" stop-color="#efefff"/><stop offset="0.9655" stop-color="#e7e7ff"/><stop offset="0.9713" stop-color="#dedeff"/><stop offset="0.9770" stop-color="#dbdbff"/><stop offset="0.9828" stop-color="#e3e3ff"/><stop offset="0.9885" stop-color="#fffbfb"/><stop offset="0.9943" stop-color="#ff9696"/><stop offset="1.0000" stop-color="#ff6666"/></linearGradient><linearGradient id="h3"><stop offset="0.0000" stop-color="#ffffff"/><stop offset="0.0057" stop-color="#fffcfc"/><stop offset="0.0115" stop-color="#ffebeb"/><stop offset="0.0172" stop-color="#ffd7d7"/><stop offset="0.0230" stop-color="#ffcbcb"/><stop offset="0.0287" stop-color="#ffbfbf"/><stop offset="0.0460" stop-color="#ff9292"/><stop offset="0.0575" stop-color="#ff6f6f"/><stop offset="0.0690" stop-color="#ff4646"/><stop offset="0.0747" stop-color="#ff3131"/><stop offset="0.0805" stop-color="#ff1f1f"/><stop offset="0.0862" stop-color="#ff1414"/><stop offset="0.0920" stop-color="#ff1313"/><stop offset="0.0977" stop-color="#ff1e1e"/><stop offset="0.1034" stop-color="#ff3333"/><stop offset="0.1092" stop-color="#ff5050"/><stop offset="0.1149" stop-color="#ff7373"/><stop offset="0.1207" stop-color="#ff9d9d"/><stop offset="0.1264" stop-color="#ffcece"/><stop offset="0.1322" stop-color="#fffcfc"/><stop offset="0.1379" stop-color="#eeeeff"/><stop offset="0.1437" stop-color="#f6f6ff"/><stop offset="0.1494" stop-color="#fff5f5"/><stop offset="0.1552" stop-color="#ffe9e9"/><stop offset="0.1609" stop-color="#ffe5e5"/><stop offset="0.1724" stop-color="#ffe3e3"/><stop offset="0.1782" stop-color="#ffe0e0"/><stop offset="0.1839" stop-color="#ffd9d9"/><stop offset="0.1897" stop-color="#ffcccc"/><stop offset="0.1954" stop-color="#ffb8b8"/><stop offset="0.2011" stop-color="#ff9a9a"/><stop offset="0.2069" stop-color="#ff7373"/><stop offset="0.2126" stop-color="#ff4b4b"/><stop offset="0.2184" stop-color="#ff3131"/><stop offset="0.2241" stop-color="#ff3030"/><stop offset="0.2299" stop-color="#ff4a4a"/><stop offset="0.2356" stop-color="#ff7373"/><stop offset="0.2414" stop-color="#ff9e9e"/><stop offset="0.2471" stop-color="#ffc3c3"/><stop offset="0.2529" stop-color="#ffe3e3"/><stop offset="0.2586" stop-color="#fcfcff"/><stop offset="0.2644" stop-color="#dedeff"/><stop offset="0.2701" stop-color="#c7c7ff"/><stop offset="0.2759" stop-color="#bebeff"/><stop offset="0.2816" stop-color="#c5c5ff"/><stop offset="0.2989" stop-color="#fdfdff"/><stop offset="0.3046" stop-color="#ffe9e9"/><stop offset="0.3103" stop-color="#ffd3d3"/><stop offset="0.3161" stop-color="#ffcece"/><stop offset="0.3218" stop-color="#ffd6d6"/><stop offset="0.3391" stop-color="#fff2f2"/><stop offset="0.3448" stop-color="#fff6f6"/><stop offset="0.3506" stop-color="#fff0f0"/><stop offset="0.3563" stop-color="#ffe0e0"/><stop offset="0.3621" stop-color="#ffcece"/><stop offset="0.3678" stop-color="#ffbfbf"/><stop offset="0.3736" stop-color="#ffb3b3"/><stop offset="0.3793" stop-color="#ffacac"/><stop offset="0.3851" stop-color="#ffadad"/><stop offset="0.3908" stop-color="#ffb7b7"/><stop offset="0.3966" stop-color="#ffc9c9"/><stop offset="0.4023" stop-color="#ffe0e0"/><stop offset="0.4080" stop-color="#fffdfd"/><stop offset="0.4138" stop-color="#e1e1ff"/><stop offset="0.4195" stop-color="#c7c7ff"/><stop offset="0.4253" stop-color="#bdbdff"/><stop offset="0.4310" stop-color="#cbcbff"/><stop offset="0.4368" stop-color="#e9e9ff"/><stop offset="0.4425" stop-color="#fff3f3"/><stop offset="0.4483" stop-color="#ffd5d5"/><stop offset="0.4598" stop-color="#ffa6a6"/><stop offset="0.4655" stop-color="#ff9292"/><stop offset="0.4713" stop-color="#ff8080"/><stop offset="0.4770" stop-color="#ff7272"/><stop offset="0.4828" stop-color="#ff6a6a"/><stop offset="0.4885" stop-color="#ff6767"/><stop offset="0.4943" stop-color="#ff6969"/><stop offset="0.5057" stop-color="#ff7070"/><stop offset="0.5115" stop-color="#ff7272"/><stop offset="0.5287" stop-color="#ff6c6c"/><stop offset="0.5402" stop-color="#ff6969"/><stop offset="0.5460" stop-color="#ff6c6c"/><stop offset="0.5517" stop-color="#ff7171"/><stop offset="0.5632" stop-color="#ff8080"/><stop offset="0.5690" stop-color="#ff7f7f"/><stop offset="0.5747" stop-color="#ff7575"/><stop offset="0.5805" stop-color="#ff6666"/><stop offset="0.5862" stop-color="#ff5e5e"/><stop offset="0.5920" stop-color="#ff6868"/><stop offset="0.5977" stop-color="#ff8282"/><stop offset="0.6034" stop-color="#ffa2a2"/><stop offset="0.6149" stop-color="#ffdbdb"/><stop offset="0.6207" stop-color="#fff3f3"/><stop offset="0.6264" stop-color="#ffeeee"/><stop offset="0.6322" stop-color="#ffdada"/><stop offset="0.6379" stop-color="#ffcdcd"/><stop offset="0.6437" stop-color="#ffc5c5"/><stop offset="0.6609" stop-color="#ffb0b0"/><stop offset="0.6667" stop-color="#ffacac"/><stop offset="0.6724" stop-color="#ffacac"/><stop offset="0.6782" stop-color="#ffaeae"/><stop offset="0.6839" stop-color="#ffb3b3"/><stop offset="0.6897" stop-color="#ffbaba"/><stop offset="0.7126" stop-color="#ffe0e0"/><stop offset="0.7184" stop-color="#ffeded"/><stop offset="0.7241" stop-color="#fffdfd"/><stop offset="0.7299" stop-color="#f3f3ff"/><stop offset="0.7356" stop-color="#eeeeff"/><stop offset="0.7414" stop-color="#f6f6ff"/><stop offset="0.7471" stop-color="#fff9f9"/><stop offset="0.7529" stop-color="#ffe9e9"/><stop offset="0.7586" stop-color="#ffdddd"/><stop offset="0.7816" stop-color="#ffc3c3"/><stop offset="0.7931" stop-color="#ffb9b9"/><stop offset="0.8046" stop-color="#ffb4b4"/><stop offset="0.8218" stop-color="#ffb4b4"/><stop offset="0.8276" stop-color="#ffb7b7"/><stop offset="0.8506" stop-color="#ffcbcb"/><stop offset="0.8678" stop-color="#ffdcdc"/><stop offset="0.8736" stop-color="#ffdfdf"/><stop offset="0.8793" stop-color="#ffe1e1"/><stop offset="0.8851" stop-color="#ffe0e0"/><stop offset="0.8966" stop-color="#ffd7d7"/><stop offset="0.9023" stop-color="#ffd4d4"/><stop offset="0.9080" stop-color="#ffd6d6"/><stop offset="0.9138" stop-color="#ffdcdc"/><stop offset="0.9195" stop-color="#ffe7e7"/><stop offset="0.9310" stop-color="#fffcfc"/><stop offset="0.9368" stop-color="#fbfbff"/><stop offset="0.9425" stop-color="#f6f6ff"/><stop offset="0.9598" stop-color="#eeeeff"/><stop offset="0.9655" stop-color="#e7e7ff"/><stop offset="0.9713" stop-color="#e0e0ff"/><stop offset="0.9770" stop-color="#ddddff"/><stop offset="0.9828" stop-color="#e5e5ff"/><stop offset="0.9885" stop-color="#fffbfb"/><stop offset="0.9943" stop-color="#ff9b9b"/><stop offset="1.0000" stop-color="#ff6d6d"/></linearGradient><linearGradient id="h4"><stop offset="0.0000" stop-color="#ffffff"/><stop offset="0.0057" stop-color="#fffcfc"/><stop offset="0.0115" stop-color="#ffeded"/><stop offset="0.0172" stop-color="#ffdada"/><stop offset="0.0230" stop-color="#ffcfcf"/><stop offset="0.0402" stop-color="#ffa8a8"/><stop offset="0.0460" stop-color="#ff9898"/><stop offset="0.0517" stop-color="#ff8989"/><stop offset="0.0575" stop-color="#ff7878"/><stop offset="0.0690" stop-color="#ff5252"/><stop offset="0.0747" stop-color="#ff4040"/><stop offset="0.0805" stop-color="#ff3030"/><stop offset="0.0862" stop-color="#ff2626"/><stop offset="0.0920" stop-color="#ff2626"/><stop offset="0.0977" stop-color="#ff3030"/><stop offset="0.1034" stop-color="#ff4444"/><stop offset="0.1092" stop-color="#ff5f5f"/><stop offset="0.1149" stop-color="#ff8080"/><stop offset="0.1207" stop-color="#ffa8a8"/><stop offset="0.1264" stop-color="#ffd8d8"/><stop offset="0.1322" stop-color="#fafaff"/><stop offset="0.1379" stop-color="#e6e6ff"/><stop offset="0.1437" stop-color="#eeeeff"/><stop offset="0.1494" stop-color="#ffffff"/><stop offset="0.1552" stop-color="#fff3f3"/><stop offset="0.1609" stop-color="#fff0f0"/><stop offset="0.1724" stop-color="#fff0f0"/><stop offset="0.1782" stop-color="#ffecec"/><stop offset="0.1839" stop-color="#ffe4e4"/><stop offset="0.1897" stop-color="#ffd6d6"/><stop offset="0.1954" stop-color="#ffc2c2"/><stop offset="0.2011" stop-color="#ffa4a4"/><stop offset="0.2069" stop-color="#ff7f7f"/><stop offset="0.2126" stop-color="#ff5a5a"/><stop offset="0.2184" stop-color="#ff4141"/><stop offset="0.2241" stop-color="#ff4040"/><stop offset="0.2299" stop-color="#ff5858"/><stop offset="0.2356" stop-color="#ff7d7d"/><stop offset="0.2414" stop-color="#ffa4a4"/><stop offset="0.2471" stop-color="#ffc7c7"/><stop offset="0.2529" stop-color="#ffe6e6"/><stop offset="0.2586" stop-color="#fafaff"/><stop offset="0.2644" stop-color="#dcdcff"/><stop offset="0.2701" stop-color="#c5c5ff"/><stop offset="0.2759" stop-color="#bdbdff"/><stop offset="0.2816" stop-color="#c4c4ff"/><stop offset="0.2931" stop-color="#e6e6ff"/><stop offset="0.2989" stop-color="#f5f5ff"/><stop offset="0.3046" stop-color="#fff3f3"/><stop offset="0.3103" stop-color="#ffdfdf"/><stop offset="0.3161" stop-color="#ffd7d7"/><stop offset="0.3218" stop-color="#ffdbdb"/><stop offset="0.3276" stop-color="#ffe2e2"/><stop offset="0.3391" stop-color="#fff7f7"/><stop offset="0.3448" stop-color="#fffefe"/><stop offset="0.3506" stop-color="#fff8f8"/><stop offset="0.3621" stop-color="#ffd1d1"/><stop offset="0.3678" stop-color="#ffc1c1"/><stop offset="0.3736" stop-color="#ffb6b6"/><stop offset="0.3793" stop-color="#ffb1b1"/><stop offset="0.3851" stop-color="#ffb3b3"/><stop offset="0.3908" stop-color="#ffbcbc"/><stop offset="0.3966" stop-color="#ffcdcd"/><stop offset="0.4023" stop-color="#ffe3e3"/><stop offset="0.4080" stop-color="#ffffff"/><stop offset="0.4138" stop-color="#e0e0ff"/><stop offset="0.4195" stop-color="#c5c5ff"/><stop offset="0.4253" stop-color="#bbbbff"/><stop offset="0.4310" stop-color="#c8c8ff"/><stop offset="0.4368" stop-color="#e4e4ff"/><stop offset="0.4425" stop-color="#fffafa"/><stop offset="0.4483" stop-color="#ffdede"/><stop offset="0.4540" stop-color="#ffc8c8"/><stop offset="0.4598" stop-color="#ffb4b4"/><stop offset="0.4713" stop-color="#ff9191"/><stop offset="0.4770" stop-color="#ff8484"/><stop offset="0.4828" stop-color="#ff7b7b"/><stop offset="0.4885" stop-color="#ff7777"/><stop offset="0.4943" stop-color="#ff7777"/><stop offset="0.5057" stop-color="#ff7a7a"/><stop offset="0.5115" stop-color="#ff7979"/><stop offset="0.5287" stop-color="#ff6b6b"/><stop offset="0.5402" stop-color="#ff6464"/><stop offset="0.5460" stop-color="#ff6565"/><stop offset="0.5517" stop-color="#ff6969"/><stop offset="0.5575" stop-color="#ff7373"/><stop offset="0.5632" stop-color="#ff7f7f"/><stop offset="0.5690" stop-color="#ff8686"/><stop offset="0.5747" stop-color="#ff8686"/><stop offset="0.5805" stop-color="#ff8080"/><stop offset="0.5862" stop-color="#ff8080"/><stop offset="0.5920" stop-color="#ff8d8d"/><stop offset="0.5977" stop-color="#ffa4a4"/><stop offset="0.6034" stop-color="#ffbcbc"/><stop offset="0.6207" stop-color="#fff8f8"/><stop offset="0.6264" stop-color="#fff3f3"/><stop offset="0.6322" stop-color="#ffdede"/><stop offset="0.6379" stop-color="#ffd2d2"/><stop offset="0.6437" stop-color="#ffcaca"/><stop offset="0.6609" stop-color="#ffb6b6"/><stop offset="0.6667" stop-color="#ffb3b3"/><stop offset="0.6724" stop-color="#ffb2b2"/><stop offset="0.6782" stop-color="#ffb4b4"/><stop offset="0.6897" stop-color="#ffbfbf"/><stop offset="0.7126" stop-color="#ffe3e3"/><stop offset="0.7184" stop-color="#fff0f0"/><stop offset="0.7241" stop-color="#fdfdff"/><stop offset="0.7299" stop-color="#efefff"/><stop offset="0.7356" stop-color="#eaeaff"/><stop offset="0.7414" stop-color="#f1f1ff"/><stop offset="0.7471" stop-color="#fffdfd"/><stop offset="0.7529" stop-color="#ffeded"/><stop offset="0.7586" stop-color="#ffe2e2"/><stop offset="0.7644" stop-color="#ffdada"/><stop offset="0.7816" stop-color="#ffcaca"/><stop offset="0.8046" stop-color="#ffbdbd"/><stop offset="0.8161" stop-color="#ffbcbc"/><stop offset="0.8276" stop-color="#ffc0c0"/><stop offset="0.8506" stop-color="#ffd1d1"/><stop offset="0.8736" stop-color="#ffe4e4"/><stop offset="0.8793" stop-color="#ffe6e6"/><stop offset="0.8851" stop-color="#ffe5e5"/><stop offset="0.8966" stop-color="#ffdfdf"/><stop offset="0.9023" stop-color="#ffdddd"/><stop offset="0.9080" stop-color="#ffdede"/><stop offset="0.9138" stop-color="#ffe4e4"/><stop offset="0.9195" stop-color="#ffeded"/><stop offset="0.9253" stop-color="#fff7f7"/><stop offset="0.9310" stop-color="#ffffff"/><stop offset="0.9368" stop-color="#f9f9ff"/><stop offset="0.9425" stop-color="#f5f5ff"/><stop offset="0.9655" stop-color="#e9e9ff"/><stop offset="0.9713" stop-color="#e4e4ff"/><stop offset="0.9770" stop-color="#e3e3ff"/><stop offset="0.9828" stop-color="#e9e9ff"/><stop offset="0.9885" stop-color="#fffcfc"/><stop offset="0.9943" stop-color="#ffa7a7"/><stop offset="1.0000" stop-color="#ff7e7e"/></linearGradient><linearGradient id="h5"><stop offset="0.0000" stop-color="#ffffff"/><stop offset="0.0057" stop-color="#fffcfc"/><stop offset="0.0115" stop-color="#ffefef"/><stop offset="0.0172" stop-color="#ffdede"/><stop offset="0.0230" stop-color="#ffd4d4"/><stop offset="0.0460" stop-color="#ffa2a2"/><stop offset="0.0690" stop-color="#ff6262"/><stop offset="0.0747" stop-color="#ff5252"/><stop offset="0.0805" stop-color="#ff4444"/><stop offset="0.0862" stop-color="#ff3c3c"/><stop offset="0.0920" stop-color="#ff3d3d"/><stop offset="0.0977" stop-color="#ff4747"/><stop offset="0.1034" stop-color="#ff5a5a"/><stop offset="0.1092" stop-color="#ff7272"/><stop offset="0.1149" stop-color="#ff9090"/><stop offset="0.1207" stop-color="#ffb5b5"/><stop offset="0.1264" stop-color="#ffe1e1"/><stop offset="0.1322" stop-color="#f4f4ff"/><stop offset="0.1379" stop-color="#e1e1ff"/><stop offset="0.1437" stop-color="#e7e7ff"/><stop offset="0.1494" stop-color="#f7f7ff"/><stop offset="0.1552" stop-color="#fffefe"/><stop offset="0.1609" stop-color="#fffbfb"/><stop offset="0.1667" stop-color="#fffcfc"/><stop offset="0.1724" stop-color="#fffafa"/><stop offset="0.1782" stop-color="#fff6f6"/><stop offset="0.1839" stop-color="#ffeeee"/><stop offset="0.1897" stop-color="#ffe0e0"/><stop offset="0.1954" stop-color="#ffcbcb"/><stop offset="0.2011" stop-color="#ffafaf"/><stop offset="0.2069" stop-color="#ff8d8d"/><stop offset="0.2126" stop-color="#ff6b6b"/><stop offset="0.2184" stop-color="#ff5555"/><stop offset="0.2241" stop-color="#ff5454"/><stop offset="0.2299" stop-color="#ff6969"/><stop offset="0.2356" stop-color="#ff8a8a"/><stop offset="0.2414" stop-color="#ffadad"/><stop offset="0.2471" stop-color="#ffcccc"/><stop offset="0.2529" stop-color="#ffe9e9"/><stop offset="0.2586" stop-color="#f8f8ff"/><stop offset="0.2644" stop-color="#dbdbff"/><stop offset="0.2701" stop-color="#c5c5ff"/><stop offset="0.2759" stop-color="#bdbdff"/><stop offset="0.2816" stop-color="#c4c4ff"/><stop offset="0.2931" stop-color="#e3e3ff"/><stop offset="0.2989" stop-color="#eeeeff"/><stop offset="0.3046" stop-color="#fffefe"/><stop offset="0.3103" stop-color="#ffebeb"/><stop offset="0.3161" stop-color="#ffe1e1"/><stop offset="0.3218" stop-color="#ffe1e1"/><stop offset="0.3276" stop-color="#ffe5e5"/><stop offset="0.3333" stop-color="#ffeeee"/><stop offset="0.3391" stop-color="#fffcfc"/><stop offset="0.3448" stop-color="#f9f9ff"/><stop offset="0.3506" stop-color="#ffffff"/><stop offset="0.3563" stop-color="#ffeaea"/><stop offset="0.3621" stop-color="#ffd3d3"/><stop offset="0.3678" stop-color="#ffc4c4"/><stop offset="0.3736" stop-color="#ffbbbb"/><stop offset="0.3793" stop-color="#ffb8b8"/><stop offset="0.3851" stop-color="#ffbbbb"/><stop offset="0.3908" stop-color="#ffc4c4"/><stop offset="0.3966" stop-color="#ffd3d3"/><stop offset="0.4023" stop-color="#ffe7e7"/><stop offset="0.4080" stop-color="#fdfdff"/><stop offset="0.4138" stop-color="#dedeff"/><stop offset="0.4195" stop-color="#c3c3ff"/><stop offset="0.4253" stop-color="#b9b9ff"/><stop offset="0.4310" stop-color="#c4c4ff"/><stop offset="0.4368" stop-color="#dfdfff"/><stop offset="0.4425" stop-color="#fcfcff"/><stop offset="0.4483" stop-color="#ffeaea"/><stop offset="0.4540" stop-color="#ffd6d6"/><stop offset="0.4598" stop-color="#ffc5c5"/><stop offset="0.4655" stop-color="#ffb4b4"/><stop offset="0.4713" stop-color="#ffa5a5"/><stop offset="0.4770" stop-color="#ff9898"/><stop offset="0.4828" stop-color="#ff8e8e"/><stop offset="0.4885" stop-color="#ff8888"/><stop offset="0.5057" stop-color="#ff8484"/><stop offset="0.5115" stop-color="#ff8080"/><stop offset="0.5172" stop-color="#ff7a7a"/><stop offset="0.5287" stop-color="#ff6a6a"/><stop offset="0.5345" stop-color="#ff6464"/><stop offset="0.5402" stop-color="#ff6060"/><stop offset="0.5460" stop-color="#ff5e5e"/><stop offset="0.5517" stop-color="#ff6161"/><stop offset="0.5575" stop-color="#ff6d6d"/><stop offset="0.5632" stop-color="#ff7f7f"/><stop offset="0.5690" stop-color="#ff8e8e"/><stop offset="0.5747" stop-color="#ff9797"/><stop offset="0.5805" stop-color="#ff9c9c"/><stop offset="0.5862" stop-color="#ffa4a4"/><stop offset="0.5920" stop-color="#ffb4b4"/><stop offset="0.5977" stop-color="#ffc8c8"/><stop offset="0.6034" stop-color="#ffd8d8"/><stop offset="0.6092" stop-color="#ffe2e2"/><stop offset="0.6207" stop-color="#fffdfd"/><stop offset="0.6264" stop-color="#fff7f7"/><stop offset="0.6322" stop-color="#ffe3e3"/><stop offset="0.6379" stop-color="#ffd7d7"/><stop offset="0.6437" stop-color="#ffd0d0"/><stop offset="0.6609" stop-color="#ffbebe"/><stop offset="0.6667" stop-color="#ffbbbb"/><stop offset="0.6724" stop-color="#ffbaba"/><stop offset="0.6782" stop-color="#ffbcbc"/><stop offset="0.6839" stop-color="#ffc0c0"/><stop offset="0.6897" stop-color="#ffc6c6"/><stop offset="0.7069" stop-color="#ffdddd"/><stop offset="0.7126" stop-color="#ffe7e7"/><stop offset="0.7184" stop-color="#fff4f4"/><stop offset="0.7241" stop-color="#fafaff"/><stop offset="0.7299" stop-color="#ebebff"/><stop offset="0.7356" stop-color="#e6e6ff"/><stop offset="0.7414" stop-color="#ededff"/><stop offset="0.7471" stop-color="#fdfdff"/><stop offset="0.7529" stop-color="#fff2f2"/><stop offset="0.7586" stop-color="#ffe7e7"/><stop offset="0.7644" stop-color="#ffe0e0"/><stop offset="0.7816" stop-color="#ffd2d2"/><stop offset="0.7931" stop-color="#ffcbcb"/><stop offset="0.8046" stop-color="#ffc7c7"/><stop offset="0.8103" stop-color="#ffc6c6"/><stop offset="0.8276" stop-color="#ffcaca"/><stop offset="0.8506" stop-color="#ffd8d8"/><stop offset="0.8736" stop-color="#ffe8e8"/><stop offset="0.8793" stop-color="#ffeaea"/><stop offset="0.8908" stop-color="#ffe9e9"/><stop offset="0.8966" stop-color="#ffe6e6"/><stop offset="0.9023" stop-color="#ffe5e5"/><stop offset="0.9080" stop-color="#ffe7e7"/><stop offset="0.9138" stop-color="#ffecec"/><stop offset="0.9195" stop-color="#fff3f3"/><stop offset="0.9253" stop-color="#fffbfb"/><stop offset="0.9310" stop-color="#fcfcff"/><stop offset="0.9425" stop-color="#f3f3ff"/><stop offset="0.9483" stop-color="#f0f0ff"/><stop offset="0.9655" stop-color="#ebebff"/><stop offset="0.9713" stop-color="#e9e9ff"/><stop offset="0.9770" stop-color="#e9e9ff"/><stop offset="0.9828" stop-color="#ededff"/><stop offset="0.9885" stop-color="#fffdfd"/><stop offset="0.9943" stop-color="#ffb9b9"/><stop offset="1.0000" stop-color="#ff9797"/></linearGradient><linearGradient id="h6"><stop offset="0.0000" stop-color="#ffffff"/><stop offset="0.0057" stop-color="#fffdfd"/><stop offset="0.0115" stop-color="#fff3f3"/><stop offset="0.0172" stop-color="#ffe4e4"/><stop offset="0.0230" stop-color="#ffdbdb"/><stop offset="0.0287" stop-color="#ffd2d2"/><stop offset="0.0345" stop-color="#ffc7c7"/><stop offset="0.0460" stop-color="#ffaeae"/><stop offset="0.0690" stop-color="#ff7474"/><stop offset="0.0805" stop-color="#ff5b5b"/><stop offset="0.0862" stop-color="#ff5656"/><stop offset="0.0920" stop-color="#ff5757"/><stop offset="0.0977" stop-color="#ff6161"/><stop offset="0.1034" stop-color="#ff7272"/><stop offset="0.1092" stop-color="#ff8888"/><stop offset="0.1149" stop-color="#ffa3a3"/><stop offset="0.1207" stop-color="#ffc3c3"/><stop offset="0.1264" stop-color="#ffeaea"/><stop offset="0.1322" stop-color="#f0f0ff"/><stop offset="0.1379" stop-color="#dfdfff"/><stop offset="0.1437" stop-color="#e3e3ff"/><stop offset="0.1494" stop-color="#efefff"/><stop offset="0.1552" stop-color="#f6f6ff"/><stop offset="0.1609" stop-color="#f8f8ff"/><stop offset="0.1667" stop-color="#f8f8ff"/><stop offset="0.1724" stop-color="#fafaff"/><stop offset="0.1782" stop-color="#fefeff"/><stop offset="0.1839" stop-color="#fff7f7"/><stop offset="0.1897" stop-color="#ffe9e9"/><stop offset="0.1954" stop-color="#ffd6d6"/><stop offset="0.2011" stop-color="#ffbcbc"/><stop offset="0.2069" stop-color="#ff9d9d"/><stop offset="0.2126" stop-color="#ff7f7f"/><stop offset="0.2184" stop-color="#ff6b6b"/><stop offset="0.2241" stop-color="#ff6969"/><stop offset="0.2299" stop-color="#ff7b7b"/><stop offset="0.2471" stop-color="#ffd3d3"/><stop offset="0.2529" stop-color="#ffeded"/><stop offset="0.2586" stop-color="#f6f6ff"/><stop offset="0.2644" stop-color="#dbdbff"/><stop offset="0.2701" stop-color="#c6c6ff"/><stop offset="0.2759" stop-color="#bebeff"/><stop offset="0.2816" stop-color="#c5c5ff"/><stop offset="0.2874" stop-color="#d4d4ff"/><stop offset="0.2931" stop-color="#e0e0ff"/><stop offset="0.2989" stop-color="#e8e8ff"/><stop offset="0.3046" stop-color="#f7f7ff"/><stop offset="0.3103" stop-color="#fff4f4"/><stop offset="0.3161" stop-color="#ffe8e8"/><stop offset="0.3218" stop-color="#ffe5e5"/><stop offset="0.3276" stop-color="#ffe7e7"/><stop offset="0.3333" stop-color="#ffefef"/><stop offset="0.3391" stop-color="#fffefe"/><stop offset="0.3448" stop-color="#f6f6ff"/><stop offset="0.3506" stop-color="#fcfcff"/><stop offset="0.3563" stop-color="#ffecec"/><stop offset="0.3621" stop-color="#ffd5d5"/><stop offset="0.3678" stop-color="#ffc7c7"/><stop offset="0.3736" stop-color="#ffc0c0"/><stop offset="0.3793" stop-color="#ffbfbf"/><stop offset="0.3851" stop-color="#ffc3c3"/><stop offset="0.3908" stop-color="#ffcccc"/><stop offset="0.3966" stop-color="#ffd9d9"/><stop offset="0.4023" stop-color="#ffebeb"/><stop offset="0.4080" stop-color="#fafaff"/><stop offset="0.4138" stop-color="#ddddff"/><stop offset="0.4195" stop-color="#c3c3ff"/><stop offset="0.4253" stop-color="#b8b8ff"/><stop offset="0.4310" stop-color="#c2c2ff"/><stop offset="0.4368" stop-color="#d9d9ff"/><stop offset="0.4425" stop-color="#f3f3ff"/><stop offset="0.4483" stop-color="#fff7f7"/><stop offset="0.4598" stop-color="#ffd7d7"/><stop offset="0.4713" stop-color="#ffb8b8"/><stop offset="0.4770" stop-color="#ffaaaa"/><stop offset="0.4828" stop-color="#ff9e9e"/><stop offset="0.4885" stop-color="#ff9595"/><stop offset="0.4943" stop-color="#ff9191"/><stop offset="0.5057" stop-color="#ff8c8c"/><stop offset="0.5115" stop-color="#ff8787"/><stop offset="0.5172" stop-color="#ff7f7f"/><stop offset="0.5287" stop-color="#ff6a6a"/><stop offset="0.5402" stop-color="#ff5b5b"/><stop offset="0.5460" stop-color="#ff5858"/><stop offset="0.5517" stop-color="#ff5a5a"/><stop offset="0.5575" stop-color="#ff6868"/><stop offset="0.5690" stop-color="#ff9696"/><stop offset="0.5747" stop-color="#ffa8a8"/><stop offset="0.5805" stop-color="#ffb6b6"/><stop offset="0.5862" stop-color="#ffc6c6"/><stop offset="0.5920" stop-color="#ffdada"/><stop offset="0.5977" stop-color="#ffecec"/><stop offset="0.6034" stop-color="#fff5f5"/><stop offset="0.6092" stop-color="#fff5f5"/><stop offset="0.6149" stop-color="#fff9f9"/><stop offset="0.6207" stop-color="#fbfbff"/><stop offset="0.6264" stop-color="#fffbfb"/><stop offset="0.6322" stop-color="#ffe8e8"/><stop offset="0.6379" stop-color="#ffdddd"/><stop offset="0.6437" stop-color="#ffd6d6"/><stop offset="0.6609" stop-color="#ffc6c6"/><stop offset="0.6667" stop-color="#ffc3c3"/><stop offset="0.6782" stop-color="#ffc4c4"/><stop offset="0.6897" stop-color="#ffcdcd"/><stop offset="0.7069" stop-color="#ffe2e2"/><stop offset="0.7126" stop-color="#ffebeb"/><stop offset="0.7184" stop-color="#fff8f8"/><stop offset="0.7241" stop-color="#f6f6ff"/><stop offset="0.7299" stop-color="#e8e8ff"/><stop offset="0.7356" stop-color="#e2e2ff"/><stop offset="0.7414" stop-color="#e9e9ff"/><stop offset="0.7471" stop-color="#f8f8ff"/><stop offset="0.7529" stop-color="#fff7f7"/><stop offset="0.7586" stop-color="#ffeded"/><stop offset="0.7644" stop-color="#ffe6e6"/><stop offset="0.7816" stop-color="#ffdbdb"/><stop offset="0.8046" stop-color="#ffd2d2"/><stop offset="0.8276" stop-color="#ffd4d4"/><stop offset="0.8506" stop-color="#ffe0e0"/><stop offset="0.8736" stop-color="#ffeded"/><stop offset="0.8793" stop-color="#ffefef"/><stop offset="0.8966" stop-color="#ffeeee"/><stop offset="0.9023" stop-color="#ffeded"/><stop offset="0.9080" stop-color="#ffefef"/><stop offset="0.9138" stop-color="#fff3f3"/><stop offset="0.9195" stop-color="#fff9f9"/><stop offset="0.9253" stop-color="#ffffff"/><stop offset="0.9310" stop-color="#f9f9ff"/><stop offset="0.9425" stop-color="#f1f1ff"/><stop offset="0.9655" stop-color="#ebebff"/><stop offset="0.9770" stop-color="#ececff"/><stop offset="0.9828" stop-color="#efefff"/><stop offset="0.9885" stop-color="#fdfdff"/><stop offset="0.9943" stop-color="#ffcccc"/><stop offset="1.0000" stop-color="#ffb2b2"/></linearGradient><linearGradient id="h7"><stop offset="0.0000" stop-color="#ffffff"/><stop offset="0.0057" stop-color="#fffefe"/><stop offset="0.0115" stop-color="#fff7f7"/><stop offset="0.0172" stop-color="#ffeded"/><stop offset="0.0230" stop-color="#ffe5e5"/><stop offset="0.0287" stop-color="#ffdddd"/><stop offset="0.0460" stop-color="#ffbdbd"/><stop offset="0.0690" stop-color="#ff8989"/><stop offset="0.0747" stop-color="#ff7e7e"/><stop offset="0.0805" stop-color="#ff7575"/><stop offset="0.0862" stop-color="#ff7070"/><stop offset="0.0920" stop-color="#ff7373"/><stop offset="0.0977" stop-color="#ff7c7c"/><stop offset="0.1034" stop-color="#ff8b8b"/><stop offset="0.1092" stop-color="#ff9f9f"/><stop offset="0.1149" stop-color="#ffb7b7"/><stop offset="0.1207" stop-color="#ffd3d3"/><stop offset="0.1264" stop-color="#fff3f3"/><stop offset="0.1322" stop-color="#ededff"/><stop offset="0.1379" stop-color="#dedeff"/><stop offset="0.1437" stop-color="#dfdfff"/><stop offset="0.1494" stop-color="#e7e7ff"/><stop offset="0.1552" stop-color="#ececff"/><stop offset="0.1609" stop-color="#ededff"/><stop offset="0.1724" stop-color="#f0f0ff"/><stop offset="0.1782" stop-color="#f5f5ff"/><stop offset="0.1839" stop-color="#fefeff"/><stop offset="0.1897" stop-color="#fff3f3"/><stop offset="0.1954" stop-color="#ffe0e0"/><stop offset="0.2011" stop-color="#ffc9c9"/><stop offset="0.2069" stop-color="#ffadad"/><stop offset="0.2126" stop-color="#ff9393"/><stop offset="0.2184" stop-color="#ff8181"/><stop offset="0.2241" stop-color="#ff8080"/><stop offset="0.2299" stop-color="#ff8e8e"/><stop offset="0.2356" stop-color="#ffa6a6"/><stop offset="0.2414" stop-color="#ffc1c1"/><stop offset="0.2471" stop-color="#ffdada"/><stop offset="0.2529" stop-color="#fff1f1"/><stop offset="0.2586" stop-color="#f4f4ff"/><stop offset="0.2644" stop-color="#dbdbff"/><stop offset="0.2701" stop-color="#c7c7ff"/><stop offset="0.2759" stop-color="#c0c0ff"/><stop offset="0.2816" stop-color="#c7c7ff"/><stop offset="0.2874" stop-color="#d5d5ff"/><stop offset="0.2931" stop-color="#dfdfff"/><stop offset="0.2989" stop-color="#e4e4ff"/><stop offset="0.3046" stop-color="#f1f1ff"/><stop offset="0.3103" stop-color="#fffafa"/><stop offset="0.3161" stop-color="#ffecec"/><stop offset="0.3218" stop-color="#ffe7e7"/><stop offset="0.3276" stop-color="#ffe6e6"/><stop offset="0.3333" stop-color="#ffeded"/><stop offset="0.3391" stop-color="#fffbfb"/><stop offset="0.3448" stop-color="#f9f9ff"/><stop offset="0.3506" stop-color="#ffffff"/><stop offset="0.3621" stop-color="#ffd5d5"/><stop offset="0.3678" stop-color="#ffc9c9"/><stop offset="0.3736" stop-color="#ffc5c5"/><stop offset="0.3793" stop-color="#ffc5c5"/><stop offset="0.3851" stop-color="#ffcaca"/><stop offset="0.3908" stop-color="#ffd2d2"/><stop offset="0.3966" stop-color="#ffdede"/><stop offset="0.4023" stop-color="#ffefef"/><stop offset="0.4080" stop-color="#f9f9ff"/><stop offset="0.4138" stop-color="#dcdcff"/><stop offset="0.4195" stop-color="#c3c3ff"/><stop offset="0.4253" stop-color="#b7b7ff"/><stop offset="0.4310" stop-color="#bfbfff"/><stop offset="0.4368" stop-color="#d3d3ff"/><stop offset="0.4425" stop-color="#e8e8ff"/><stop offset="0.4483" stop-color="#f8f8ff"/><stop offset="0.4540" stop-color="#fff9f9"/><stop offset="0.4598" stop-color="#ffebeb"/><stop offset="0.4828" stop-color="#ffa9a9"/><stop offset="0.4885" stop-color="#ff9e9e"/><stop offset="0.4943" stop-color="#ff9898"/><stop offset="0.5057" stop-color="#ff9292"/><stop offset="0.5115" stop-color="#ff8c8c"/><stop offset="0.5172" stop-color="#ff8282"/><stop offset="0.5287" stop-color="#ff6a6a"/><stop offset="0.5345" stop-color="#ff6060"/><stop offset="0.5402" stop-color="#ff5858"/><stop offset="0.5460" stop-color="#ff5454"/><stop offset="0.5517" stop-color="#ff5757"/><stop offset="0.5575" stop-color="#ff6868"/><stop offset="0.5632" stop-color="#ff8383"/><stop offset="0.5690" stop-color="#ffa1a1"/><stop offset="0.5747" stop-color="#ffb9b9"/><stop offset="0.5862" stop-color="#ffe4e4"/><stop offset="0.5920" stop-color="#fffdfd"/><stop offset="0.5977" stop-color="#efefff"/><stop offset="0.6034" stop-color="#ededff"/><stop offset="0.6092" stop-color="#f7f7ff"/><stop offset="0.6149" stop-color="#fbfbff"/><stop offset="0.6207" stop-color="#f7f7ff"/><stop offset="0.6264" stop-color="#fffefe"/><stop offset="0.6322" stop-color="#ffeded"/><stop offset="0.6379" stop-color="#ffe3e3"/><stop offset="0.6437" stop-color="#ffdddd"/><stop offset="0.6494" stop-color="#ffd7d7"/><stop offset="0.6667" stop-color="#ffcccc"/><stop offset="0.6724" stop-color="#ffcbcb"/><stop offset="0.6839" stop-color="#ffd0d0"/><stop offset="0.6897" stop-color="#ffd5d5"/><stop offset="0.7069" stop-color="#ffe7e7"/><stop offset="0.7126" stop-color="#fff0f0"/><stop offset="0.7184" stop-color="#fffcfc"/><stop offset="0.7241" stop-color="#f3f3ff"/><stop offset="0.7299" stop-color="#e4e4ff"/><stop offset="0.7356" stop-color="#dfdfff"/><stop offset="0.7414" stop-color="#e6e6ff"/><stop offset="0.7471" stop-color="#f4f4ff"/><stop offset="0.7529" stop-color="#fffcfc"/><stop offset="0.7586" stop-color="#fff2f2"/><stop offset="0.7816" stop-color="#ffe3e3"/><stop offset="0.7931" stop-color="#ffdede"/><stop offset="0.8046" stop-color="#ffdcdc"/><stop offset="0.8276" stop-color="#ffdddd"/><stop offset="0.8506" stop-color="#ffe7e7"/><stop offset="0.8736" stop-color="#fff2f2"/><stop offset="0.8966" stop-color="#fff4f4"/><stop offset="0.9023" stop-color="#fff4f4"/><stop offset="0.9138" stop-color="#fff9f9"/><stop offset="0.9195" stop-color="#fffefe"/><stop offset="0.9425" stop-color="#f0f0ff"/><stop offset="0.9655" stop-color="#ebebff"/><stop offset="0.9713" stop-color="#ebebff"/><stop offset="0.9828" stop-color="#efefff"/><stop offset="0.9885" stop-color="#fafaff"/><stop offset="0.9943" stop-color="#ffdfdf"/><stop offset="1.0000" stop-color="#ffcbcb"/></linearGradient><linearGradient id="h8"><stop offset="0.0000" stop-color="#ffffff"/><stop offset="0.0057" stop-color="#ffffff"/><stop offset="0.0115" stop-color="#fffdfd"/><stop offset="0.0230" stop-color="#fff2f2"/><stop offset="0.0345" stop-color="#ffe3e3"/><stop offset="0.0460" stop-color="#ffcece"/><stop offset="0.0690" stop-color="#ffa0a0"/><stop offset="0.0747" stop-color="#ff9696"/><stop offset="0.0805" stop-color="#ff8f8f"/><stop offset="0.0862" stop-color="#ff8c8c"/><stop offset="0.0920" stop-color="#ff8e8e"/><stop offset="0.0977" stop-color="#ff9797"/><stop offset="0.1034" stop-color="#ffa5a5"/><stop offset="0.1092" stop-color="#ffb7b7"/><stop offset="0.1149" stop-color="#ffcbcb"/><stop offset="0.1207" stop-color="#ffe3e3"/><stop offset="0.1264" stop-color="#fffdfd"/><stop offset="0.1322" stop-color="#e9e9ff"/><stop offset="0.1379" stop-color="#dbdbff"/><stop offset="0.1437" stop-color="#dadaff"/><stop offset="0.1494" stop-color="#dfdfff"/><stop offset="0.1552" stop-color="#e2e2ff"/><stop offset="0.1609" stop-color="#e3e3ff"/><stop offset="0.1724" stop-color="#e6e6ff"/><stop offset="0.1782" stop-color="#ececff"/><stop offset="0.1839" stop-color="#f5f5ff"/><stop offset="0.1897" stop-color="#fffcfc"/><stop offset="0.1954" stop-color="#ffebeb"/><stop offset="0.2011" stop-color="#ffd6d6"/><stop offset="0.2069" stop-color="#ffbebe"/><stop offset="0.2126" stop-color="#ffa7a7"/><stop offset="0.2184" stop-color="#ff9898"/><stop offset="0.2241" stop-color="#ff9696"/><stop offset="0.2299" stop-color="#ffa1a1"/><stop offset="0.2356" stop-color="#ffb5b5"/><stop offset="0.2529" stop-color="#fff6f6"/><stop offset="0.2586" stop-color="#f2f2ff"/><stop offset="0.2644" stop-color="#dbdbff"/><stop offset="0.2701" stop-color="#c9c9ff"/><stop offset="0.2759" stop-color="#c3c3ff"/><stop offset="0.2816" stop-color="#c9c9ff"/><stop offset="0.2874" stop-color="#d6d6ff"/><stop offset="0.2931" stop-color="#dedeff"/><stop offset="0.2989" stop-color="#e1e1ff"/><stop offset="0.3046" stop-color="#ededff"/><stop offset="0.3103" stop-color="#fffdfd"/><stop offset="0.3161" stop-color="#ffeeee"/><stop offset="0.3218" stop-color="#ffe6e6"/><stop offset="0.3276" stop-color="#ffe4e4"/><stop offset="0.3333" stop-color="#ffe9e9"/><stop offset="0.3391" stop-color="#fff4f4"/><stop offset="0.3448" stop-color="#fffcfc"/><stop offset="0.3506" stop-color="#fff6f6"/><stop offset="0.3621" stop-color="#ffd2d2"/><stop offset="0.3678" stop-color="#ffc9c9"/><stop offset="0.3736" stop-color="#ffc7c7"/><stop offset="0.3793" stop-color="#ffc9c9"/><stop offset="0.3851" stop-color="#ffcfcf"/><stop offset="0.3908" stop-color="#ffd7d7"/><stop offset="0.3966" stop-color="#ffe2e2"/><stop offset="0.4023" stop-color="#fff1f1"/><stop offset="0.4080" stop-color="#f8f8ff"/><stop offset="0.4138" stop-color="#ddddff"/><stop offset="0.4195" stop-color="#c4c4ff"/><stop offset="0.4253" stop-color="#b8b8ff"/><stop offset="0.4310" stop-color="#bdbdff"/><stop offset="0.4368" stop-color="#ccccff"/><stop offset="0.4425" stop-color="#dcdcff"/><stop offset="0.4540" stop-color="#f2f2ff"/><stop offset="0.4598" stop-color="#ffffff"/><stop offset="0.4655" stop-color="#ffeeee"/><stop offset="0.4828" stop-color="#ffb3b3"/><stop offset="0.4885" stop-color="#ffa4a4"/><stop offset="0.4943" stop-color="#ff9c9c"/><stop offset="0.5057" stop-color="#ff9797"/><stop offset="0.5115" stop-color="#ff9090"/><stop offset="0.5172" stop-color="#ff8585"/><stop offset="0.5287" stop-color="#ff6969"/><stop offset="0.5345" stop-color="#ff5e5e"/><stop offset="0.5402" stop-color="#ff5757"/><stop offset="0.5460" stop-color="#ff5454"/><stop offset="0.5517" stop-color="#ff5959"/><stop offset="0.5575" stop-color="#ff6d6d"/><stop offset="0.5632" stop-color="#ff8c8c"/><stop offset="0.5690" stop-color="#ffafaf"/><stop offset="0.5747" stop-color="#ffcece"/><stop offset="0.5805" stop-color="#ffe7e7"/><stop offset="0.5862" stop-color="#fcfcff"/><stop offset="0.5920" stop-color="#e0e0ff"/><stop offset="0.5977" stop-color="#ceceff"/><stop offset="0.6034" stop-color="#d2d2ff"/><stop offset="0.6092" stop-color="#e5e5ff"/><stop offset="0.6149" stop-color="#f2f2ff"/><stop offset="0.6207" stop-color="#f3f3ff"/><stop offset="0.6264" stop-color="#fdfdff"/><stop offset="0.6322" stop-color="#fff1f1"/><stop offset="0.6379" stop-color="#ffe9e9"/><stop offset="0.6437" stop-color="#ffe3e3"/><stop offset="0.6552" stop-color="#ffdada"/><stop offset="0.6667" stop-color="#ffd5d5"/><stop offset="0.6724" stop-color="#ffd4d4"/><stop offset="0.6839" stop-color="#ffd8d8"/><stop offset="0.6897" stop-color="#ffdcdc"/><stop offset="0.7069" stop-color="#ffecec"/><stop offset="0.7126" stop-color="#fff4f4"/><stop offset="0.7184" stop-color="#ffffff"/><stop offset="0.7299" stop-color="#e2e2ff"/><stop offset="0.7356" stop-color="#dcdcff"/><stop offset="0.7414" stop-color="#e3e3ff"/><stop offset="0.7529" stop-color="#fefeff"/><stop offset="0.7586" stop-color="#fff7f7"/><stop offset="0.7644" stop-color="#fff2f2"/><stop offset="0.7816" stop-color="#ffebeb"/><stop offset="0.8046" stop-color="#ffe5e5"/><stop offset="0.8276" stop-color="#ffe6e6"/><stop offset="0.8448" stop-color="#ffebeb"/><stop offset="0.8506" stop-color="#ffeeee"/><stop offset="0.8736" stop-color="#fff6f6"/><stop offset="0.8966" stop-color="#fff9f9"/><stop offset="0.9080" stop-color="#fffbfb"/><stop offset="0.9138" stop-color="#fffefe"/><stop offset="0.9195" stop-color="#fdfdff"/><stop offset="0.9425" stop-color="#efefff"/><stop offset="0.9655" stop-color="#eaeaff"/><stop offset="0.9770" stop-color="#ececff"/><stop offset="0.9828" stop-color="#efefff"/><stop offset="0.9885" stop-color="#f6f6ff"/><stop offset="0.9943" stop-color="#ffeeee"/><stop offset="1.0000" stop-color="#ffe1e1"/></linearGradient><linearGradient id="h9"><stop offset="0.0000" stop-color="#ffffff"/><stop offset="0.0057" stop-color="#fefeff"/><stop offset="0.0115" stop-color="#fbfbff"/><stop offset="0.0172" stop-color="#fafaff"/><stop offset="0.0230" stop-color="#fdfdff"/><stop offset="0.0287" stop-color="#fffcfc"/><stop offset="0.0402" stop-color="#ffeded"/><stop offset="0.0460" stop-color="#ffe3e3"/><stop offset="0.0690" stop-color="#ffb8b8"/><stop offset="0.0747" stop-color="#ffafaf"/><stop offset="0.0805" stop-color="#ffa9a9"/><stop offset="0.0862" stop-color="#ffa7a7"/><stop offset="0.0920" stop-color="#ffa9a9"/><stop offset="0.0977" stop-color="#ffb1b1"/><stop offset="0.1034" stop-color="#ffbebe"/><stop offset="0.1092" stop-color="#ffcdcd"/><stop offset="0.1149" stop-color="#ffdfdf"/><stop offset="0.1207" stop-color="#fff2f2"/><stop offset="0.1264" stop-color="#f6f6ff"/><stop offset="0.1322" stop-color="#e3e3ff"/><stop offset="0.1379" stop-color="#d8d8ff"/><stop offset="0.1437" stop-color="#d5d5ff"/><stop offset="0.1609" stop-color="#d9d9ff"/><stop offset="0.1667" stop-color="#dadaff"/><stop offset="0.1724" stop-color="#dedeff"/><stop offset="0.1782" stop-color="#e4e4ff"/><stop offset="0.1839" stop-color="#ededff"/><stop offset="0.1897" stop-color="#f9f9ff"/><stop offset="0.1954" stop-color="#fff5f5"/><stop offset="0.2069" stop-color="#ffcece"/><stop offset="0.2126" stop-color="#ffbaba"/><stop offset="0.2184" stop-color="#ffadad"/><stop offset="0.2241" stop-color="#ffabab"/><stop offset="0.2299" stop-color="#ffb4b4"/><stop offset="0.2356" stop-color="#ffc4c4"/><stop offset="0.2529" stop-color="#fffbfb"/><stop offset="0.2586" stop-color="#f0f0ff"/><stop offset="0.2644" stop-color="#dbdbff"/><stop offset="0.2701" stop-color="#cbcbff"/><stop offset="0.2759" stop-color="#c6c6ff"/><stop offset="0.2816" stop-color="#ccccff"/><stop offset="0.2874" stop-color="#d8d8ff"/><stop offset="0.2931" stop-color="#dedeff"/><stop offset="0.2989" stop-color="#e0e0ff"/><stop offset="0.3046" stop-color="#ececff"/><stop offset="0.3103" stop-color="#fffdfd"/><stop offset="0.3161" stop-color="#ffeded"/><stop offset="0.3218" stop-color="#ffe5e5"/><stop offset="0.3276" stop-color="#ffe1e1"/><stop offset="0.3333" stop-color="#ffe2e2"/><stop offset="0.3391" stop-color="#ffe9e9"/><stop offset="0.3448" stop-color="#ffeeee"/><stop offset="0.3506" stop-color="#ffe9e9"/><stop offset="0.3621" stop-color="#ffcccc"/><stop offset="0.3678" stop-color="#ffc6c6"/><stop offset="0.3736" stop-color="#ffc7c7"/><stop offset="0.3793" stop-color="#ffcbcb"/><stop offset="0.3851" stop-color="#ffd1d1"/><stop offset="0.3908" stop-color="#ffd9d9"/><stop offset="0.3966" stop-color="#ffe4e4"/><stop offset="0.4023" stop-color="#fff2f2"/><stop offset="0.4080" stop-color="#f8f8ff"/><stop offset="0.4138" stop-color="#dedeff"/><stop offset="0.4195" stop-color="#c6c6ff"/><stop offset="0.4253" stop-color="#b8b8ff"/><stop offset="0.4310" stop-color="#babaff"/><stop offset="0.4368" stop-color="#c5c5ff"/><stop offset="0.4425" stop-color="#cfcfff"/><stop offset="0.4483" stop-color="#d5d5ff"/><stop offset="0.4540" stop-color="#ddddff"/><stop offset="0.4598" stop-color="#eaeaff"/><stop offset="0.4655" stop-color="#fdfdff"/><stop offset="0.4713" stop-color="#ffeaea"/><stop offset="0.4828" stop-color="#ffbdbd"/><stop offset="0.4885" stop-color="#ffacac"/><stop offset="0.4943" stop-color="#ffa2a2"/><stop offset="0.5057" stop-color="#ff9b9b"/><stop offset="0.5115" stop-color="#ff9494"/><stop offset="0.5172" stop-color="#ff8787"/><stop offset="0.5230" stop-color="#ff7777"/><stop offset="0.5287" stop-color="#ff6969"/><stop offset="0.5345" stop-color="#ff5e5e"/><stop offset="0.5402" stop-color="#ff5757"/><stop offset="0.5460" stop-color="#ff5757"/><stop offset="0.5517" stop-color="#ff6060"/><stop offset="0.5575" stop-color="#ff7777"/><stop offset="0.5632" stop-color="#ff9b9b"/><stop offset="0.5690" stop-color="#ffc4c4"/><stop offset="0.5747" stop-color="#ffe7e7"/><stop offset="0.5805" stop-color="#fcfcff"/><stop offset="0.5920" stop-color="#c1c1ff"/><stop offset="0.5977" stop-color="#b0b0ff"/><stop offset="0.6034" stop-color="#b9b9ff"/><stop offset="0.6092" stop-color="#d4d4ff"/><stop offset="0.6149" stop-color="#e9e9ff"/><stop offset="0.6207" stop-color="#efefff"/><stop offset="0.6264" stop-color="#fafaff"/><stop offset="0.6322" stop-color="#fff6f6"/><stop offset="0.6379" stop-color="#ffeeee"/><stop offset="0.6437" stop-color="#ffeaea"/><stop offset="0.6609" stop-color="#ffdfdf"/><stop offset="0.6667" stop-color="#ffdede"/><stop offset="0.6724" stop-color="#ffdddd"/><stop offset="0.6782" stop-color="#ffdede"/><stop offset="0.6897" stop-color="#ffe4e4"/><stop offset="0.7011" stop-color="#ffecec"/><stop offset="0.7126" stop-color="#fff9f9"/><stop offset="0.7184" stop-color="#fbfbff"/><stop offset="0.7299" stop-color="#dfdfff"/><stop offset="0.7356" stop-color="#dadaff"/><stop offset="0.7414" stop-color="#e0e0ff"/><stop offset="0.7529" stop-color="#fafaff"/><stop offset="0.7586" stop-color="#fffcfc"/><stop offset="0.7816" stop-color="#fff2f2"/><stop offset="0.8046" stop-color="#ffeded"/><stop offset="0.8276" stop-color="#ffeeee"/><stop offset="0.8506" stop-color="#fff4f4"/><stop offset="0.8736" stop-color="#fffafa"/><stop offset="0.8966" stop-color="#fffdfd"/><stop offset="0.9080" stop-color="#ffffff"/><stop offset="0.9195" stop-color="#fafaff"/><stop offset="0.9425" stop-color="#eeeeff"/><stop offset="0.9655" stop-color="#e9e9ff"/><stop offset="0.9828" stop-color="#eeeeff"/><stop offset="0.9885" stop-color="#f3f3ff"/><stop offset="0.9943" stop-color="#fffafa"/><stop offset="1.0000" stop-color="#fff1f1"/></linearGradient><linearGradient id="h10"><stop offset="0.0000" stop-color="#ffffff"/><stop offset="0.0057" stop-color="#fdfdff"/><stop offset="0.0115" stop-color="#f3f3ff"/><stop offset="0.0172" stop-color="#ececff"/><stop offset="0.0230" stop-color="#ededff"/><stop offset="0.0287" stop-color="#f0f0ff"/><stop offset="0.0345" stop-color="#f5f5ff"/><stop offset="0.0402" stop-color="#fcfcff"/><stop offset="0.0460" stop-color="#fff9f9"/><stop offset="0.0690" stop-color="#ffcfcf"/><stop offset="0.0747" stop-color="#ffc7c7"/><stop offset="0.0805" stop-color="#ffc2c2"/><stop offset="0.0862" stop-color="#ffc0c0"/><stop offset="0.0920" stop-color="#ffc2c2"/><stop offset="0.0977" stop-color="#ffc9c9"/><stop offset="0.1034" stop-color="#ffd4d4"/><stop offset="0.1149" stop-color="#fff1f1"/><stop offset="0.1207" stop-color="#fdfdff"/><stop offset="0.1264" stop-color="#ececff"/><stop offset="0.1322" stop-color="#ddddff"/><stop offset="0.1379" stop-color="#d3d3ff"/><stop offset="0.1437" stop-color="#d0d0ff"/><stop offset="0.1609" stop-color="#d0d0ff"/><stop offset="0.1667" stop-color="#d2d2ff"/><stop offset="0.1724" stop-color="#d6d6ff"/><stop offset="0.1839" stop-color="#e5e5ff"/><stop offset="0.1897" stop-color="#f1f1ff"/><stop offset="0.1954" stop-color="#ffffff"/><stop offset="0.2069" stop-color="#ffdddd"/><stop offset="0.2126" stop-color="#ffcccc"/><stop offset="0.2184" stop-color="#ffc1c1"/><stop offset="0.2241" stop-color="#ffbfbf"/><stop offset="0.2299" stop-color="#ffc6c6"/><stop offset="0.2356" stop-color="#ffd2d2"/><stop offset="0.2529" stop-color="#ffffff"/><stop offset="0.2644" stop-color="#dcdcff"/><stop offset="0.2701" stop-color="#ceceff"/><stop offset="0.2759" stop-color="#c9c9ff"/><stop offset="0.2816" stop-color="#d0d0ff"/><stop offset="0.2874" stop-color="#dadaff"/><stop offset="0.2931" stop-color="#dfdfff"/><stop offset="0.2989" stop-color="#e0e0ff"/><stop offset="0.3046" stop-color="#ececff"/><stop offset="0.3103" stop-color="#fffdfd"/><stop offset="0.3161" stop-color="#ffecec"/><stop offset="0.3218" stop-color="#ffe2e2"/><stop offset="0.3276" stop-color="#ffdcdc"/><stop offset="0.3333" stop-color="#ffdbdb"/><stop offset="0.3448" stop-color="#ffdfdf"/><stop offset="0.3506" stop-color="#ffdada"/><stop offset="0.3563" stop-color="#ffcfcf"/><stop offset="0.3621" stop-color="#ffc6c6"/><stop offset="0.3678" stop-color="#ffc3c3"/><stop offset="0.3736" stop-color="#ffc5c5"/><stop offset="0.3793" stop-color="#ffcaca"/><stop offset="0.3908" stop-color="#ffdada"/><stop offset="0.3966" stop-color="#ffe4e4"/><stop offset="0.4023" stop-color="#fff2f2"/><stop offset="0.4080" stop-color="#f9f9ff"/><stop offset="0.4138" stop-color="#e0e0ff"/><stop offset="0.4195" stop-color="#c8c8ff"/><stop offset="0.4253" stop-color="#babaff"/><stop offset="0.4310" stop-color="#b9b9ff"/><stop offset="0.4368" stop-color="#bebeff"/><stop offset="0.4425" stop-color="#c1c1ff"/><stop offset="0.4483" stop-color="#c2c2ff"/><stop offset="0.4540" stop-color="#c7c7ff"/><stop offset="0.4598" stop-color="#d5d5ff"/><stop offset="0.4655" stop-color="#ebebff"/><stop offset="0.4713" stop-color="#fffbfb"/><stop offset="0.4828" stop-color="#ffcccc"/><stop offset="0.4885" stop-color="#ffb9b9"/><stop offset="0.4943" stop-color="#ffaeae"/><stop offset="0.5057" stop-color="#ffa2a2"/><stop offset="0.5115" stop-color="#ff9999"/><stop offset="0.5172" stop-color="#ff8a8a"/><stop offset="0.5287" stop-color="#ff6969"/><stop offset="0.5345" stop-color="#ff5e5e"/><stop offset="0.5402" stop-color="#ff5959"/><stop offset="0.5460" stop-color="#ff5c5c"/><stop offset="0.5517" stop-color="#ff6969"/><stop offset="0.5575" stop-color="#ff8585"/><stop offset="0.5632" stop-color="#ffafaf"/><stop offset="0.5690" stop-color="#ffdddd"/><stop offset="0.5747" stop-color="#fafaff"/><stop offset="0.5862" stop-color="#c2c2ff"/><stop offset="0.5920" stop-color="#a4a4ff"/><stop offset="0.5977" stop-color="#9494ff"/><stop offset="0.6034" stop-color="#a3a3ff"/><stop offset="0.6092" stop-color="#c5c5ff"/><stop offset="0.6149" stop-color="#e1e1ff"/><stop offset="0.6207" stop-color="#ececff"/><stop offset="0.6264" stop-color="#f7f7ff"/><stop offset="0.6322" stop-color="#fffafa"/><stop offset="0.6379" stop-color="#fff4f4"/><stop offset="0.6437" stop-color="#fff0f0"/><stop offset="0.6667" stop-color="#ffe6e6"/><stop offset="0.6897" stop-color="#ffebeb"/><stop offset="0.7011" stop-color="#fff2f2"/><stop offset="0.7126" stop-color="#fffdfd"/><stop offset="0.7184" stop-color="#f7f7ff"/><stop offset="0.7299" stop-color="#ddddff"/><stop offset="0.7356" stop-color="#d8d8ff"/><stop offset="0.7414" stop-color="#dedeff"/><stop offset="0.7529" stop-color="#f6f6ff"/><stop offset="0.7586" stop-color="#fefeff"/><stop offset="0.7816" stop-color="#fff8f8"/><stop offset="0.8046" stop-color="#fff5f5"/><stop offset="0.8276" stop-color="#fff5f5"/><stop offset="0.8506" stop-color="#fff9f9"/><stop offset="0.8736" stop-color="#fffdfd"/><stop offset="0.8851" stop-color="#ffffff"/><stop offset="0.8966" stop-color="#fefeff"/><stop offset="0.9195" stop-color="#f7f7ff"/><stop offset="0.9425" stop-color="#ededff"/><stop offset="0.9540" stop-color="#e9e9ff"/><stop offset="0.9655" stop-color="#e9e9ff"/><stop offset="0.9828" stop-color="#ededff"/><stop offset="0.9885" stop-color="#f1f1ff"/><stop offset="0.9943" stop-color="#fafaff"/><stop offset="1.0000" stop-color="#fffefe"/></linearGradient><linearGradient id="h11"><stop offset="0.0000" stop-color="#ffffff"/><stop offset="0.0057" stop-color="#fbfbff"/><stop offset="0.0115" stop-color="#ececff"/><stop offset="0.0172" stop-color="#dfdfff"/><stop offset="0.0230" stop-color="#ddddff"/><stop offset="0.0345" stop-color="#e2e2ff"/><stop offset="0.0402" stop-color="#e8e8ff"/><stop offset="0.0460" stop-color="#f0f0ff"/><stop offset="0.0517" stop-color="#fafaff"/><stop offset="0.0575" stop-color="#fffafa"/><stop offset="0.0632" stop-color="#ffefef"/><stop offset="0.0690" stop-color="#ffe6e6"/><stop offset="0.0747" stop-color="#ffdede"/><stop offset="0.0805" stop-color="#ffd9d9"/><stop offset="0.0862" stop-color="#ffd7d7"/><stop offset="0.0920" stop-color="#ffd9d9"/><stop offset="0.0977" stop-color="#ffdfdf"/><stop offset="0.1034" stop-color="#ffe8e8"/><stop offset="0.1149" stop-color="#fefeff"/><stop offset="0.1322" stop-color="#d7d7ff"/><stop offset="0.1379" stop-color="#cfcfff"/><stop offset="0.1437" stop-color="#cbcbff"/><stop offset="0.1494" stop-color="#c9c9ff"/><stop offset="0.1609" stop-color="#cacaff"/><stop offset="0.1724" stop-color="#d1d1ff"/><stop offset="0.1782" stop-color="#d7d7ff"/><stop offset="0.1839" stop-color="#dfdfff"/><stop offset="0.1897" stop-color="#eaeaff"/><stop offset="0.1954" stop-color="#f7f7ff"/><stop offset="0.2011" stop-color="#fff9f9"/><stop offset="0.2069" stop-color="#ffeaea"/><stop offset="0.2126" stop-color="#ffdcdc"/><stop offset="0.2184" stop-color="#ffd3d3"/><stop offset="0.2241" stop-color="#ffd1d1"/><stop offset="0.2299" stop-color="#ffd6d6"/><stop offset="0.2356" stop-color="#ffdfdf"/><stop offset="0.2471" stop-color="#fff7f7"/><stop offset="0.2529" stop-color="#fafaff"/><stop offset="0.2644" stop-color="#dcdcff"/><stop offset="0.2701" stop-color="#d0d0ff"/><stop offset="0.2759" stop-color="#ccccff"/><stop offset="0.2816" stop-color="#d3d3ff"/><stop offset="0.2874" stop-color="#dcdcff"/><stop offset="0.2931" stop-color="#e0e0ff"/><stop offset="0.2989" stop-color="#e0e0ff"/><stop offset="0.3046" stop-color="#ececff"/><stop offset="0.3103" stop-color="#fffcfc"/><stop offset="0.3161" stop-color="#ffebeb"/><stop offset="0.3218" stop-color="#ffe0e0"/><stop offset="0.3276" stop-color="#ffd8d8"/><stop offset="0.3333" stop-color="#ffd4d4"/><stop offset="0.3448" stop-color="#ffd2d2"/><stop offset="0.3506" stop-color="#ffcdcd"/><stop offset="0.3563" stop-color="#ffc5c5"/><stop offset="0.3621" stop-color="#ffc0c0"/><stop offset="0.3678" stop-color="#ffbfbf"/><stop offset="0.3736" stop-color="#ffc3c3"/><stop offset="0.3793" stop-color="#ffc9c9"/><stop offset="0.3908" stop-color="#ffdada"/><stop offset="0.3966" stop-color="#ffe4e4"/><stop offset="0.4023" stop-color="#fff2f2"/><stop offset="0.4080" stop-color="#fafaff"/><stop offset="0.4138" stop-color="#e2e2ff"/><stop offset="0.4195" stop-color="#cacaff"/><stop offset="0.4253" stop-color="#bcbcff"/><stop offset="0.4310" stop-color="#b7b7ff"/><stop offset="0.4368" stop-color="#b7b7ff"/><stop offset="0.4483" stop-color="#b0b0ff"/><stop offset="0.4540" stop-color="#b3b3ff"/><stop offset="0.4598" stop-color="#c2c2ff"/><stop offset="0.4655" stop-color="#d8d8ff"/><stop offset="0.4713" stop-color="#f1f1ff"/><stop offset="0.4770" stop-color="#fff5f5"/><stop offset="0.4828" stop-color="#ffdfdf"/><stop offset="0.4885" stop-color="#ffcccc"/><stop offset="0.4943" stop-color="#ffbfbf"/><stop offset="0.5057" stop-color="#ffacac"/><stop offset="0.5115" stop-color="#ff9f9f"/><stop offset="0.5172" stop-color="#ff8e8e"/><stop offset="0.5230" stop-color="#ff7b7b"/><stop offset="0.5287" stop-color="#ff6a6a"/><stop offset="0.5345" stop-color="#ff6060"/><stop offset="0.5402" stop-color="#ff5d5d"/><stop offset="0.5460" stop-color="#ff6363"/><stop offset="0.5517" stop-color="#ff7474"/><stop offset="0.5575" stop-color="#ff9494"/><stop offset="0.5632" stop-color="#ffc3c3"/><stop offset="0.5690" stop-color="#fff7f7"/><stop offset="0.5747" stop-color="#dcdcff"/><stop offset="0.5805" stop-color="#c0c0ff"/><stop offset="0.5862" stop-color="#a7a7ff"/><stop offset="0.5920" stop-color="#8b8bff"/><stop offset="0.5977" stop-color="#7d7dff"/><stop offset="0.6034" stop-color="#9090ff"/><stop offset="0.6092" stop-color="#b8b8ff"/><stop offset="0.6149" stop-color="#dadaff"/><stop offset="0.6207" stop-color="#e9e9ff"/><stop offset="0.6264" stop-color="#f5f5ff"/><stop offset="0.6322" stop-color="#fffefe"/><stop offset="0.6379" stop-color="#fff9f9"/><stop offset="0.6437" stop-color="#fff6f6"/><stop offset="0.6667" stop-color="#ffeeee"/><stop offset="0.6839" stop-color="#fff0f0"/><stop offset="0.6897" stop-color="#fff3f3"/><stop offset="0.7069" stop-color="#fffcfc"/><stop offset="0.7126" stop-color="#fdfdff"/><stop offset="0.7184" stop-color="#f4f4ff"/><stop offset="0.7241" stop-color="#e7e7ff"/><stop offset="0.7299" stop-color="#dcdcff"/><stop offset="0.7356" stop-color="#d7d7ff"/><stop offset="0.7414" stop-color="#dcdcff"/><stop offset="0.7529" stop-color="#f3f3ff"/><stop offset="0.7586" stop-color="#fafaff"/><stop offset="0.7701" stop-color="#ffffff"/><stop offset="0.7816" stop-color="#fffdfd"/><stop offset="0.8046" stop-color="#fffbfb"/><stop offset="0.8276" stop-color="#fffbfb"/><stop offset="0.8506" stop-color="#fffefe"/><stop offset="0.8736" stop-color="#fdfdff"/><stop offset="0.8966" stop-color="#fbfbff"/><stop offset="0.9195" stop-color="#f5f5ff"/><stop offset="0.9425" stop-color="#ececff"/><stop offset="0.9655" stop-color="#e8e8ff"/><stop offset="0.9885" stop-color="#eeeeff"/><stop offset="1.0000" stop-color="#f7f7ff"/></linearGradient><linearGradient id="h12"><stop offset="0.0000" stop-color="#ffffff"/><stop offset="0.0057" stop-color="#fafaff"/><stop offset="0.0172" stop-color="#d3d3ff"/><stop offset="0.0230" stop-color="#d0d0ff"/><stop offset="0.0287" stop-color="#d0d0ff"/><stop offset="0.0345" stop-color="#d2d2ff"/><stop offset="0.0402" stop-color="#d7d7ff"/><stop offset="0.0460" stop-color="#dfdfff"/><stop offset="0.0632" stop-color="#fcfcff"/><stop offset="0.0690" stop-color="#fff9f9"/><stop offset="0.0747" stop-color="#fff1f1"/><stop offset="0.0805" stop-color="#ffecec"/><stop offset="0.0862" stop-color="#ffeaea"/><stop offset="0.0920" stop-color="#ffecec"/><stop offset="0.0977" stop-color="#fff0f0"/><stop offset="0.1034" stop-color="#fff8f8"/><stop offset="0.1092" stop-color="#fcfcff"/><stop offset="0.1149" stop-color="#f2f2ff"/><stop offset="0.1264" stop-color="#dcdcff"/><stop offset="0.1322" stop-color="#d3d3ff"/><stop offset="0.1379" stop-color="#ccccff"/><stop offset="0.1437" stop-color="#c8c8ff"/><stop offset="0.1494" stop-color="#c6c6ff"/><stop offset="0.1609" stop-color="#c7c7ff"/><stop offset="0.1724" stop-color="#ceceff"/><stop offset="0.1839" stop-color="#dbdbff"/><stop offset="0.2011" stop-color="#fcfcff"/><stop offset="0.2069" stop-color="#fff6f6"/><stop offset="0.2126" stop-color="#ffeaea"/><stop offset="0.2184" stop-color="#ffe3e3"/><stop offset="0.2241" stop-color="#ffe0e0"/><stop offset="0.2299" stop-color="#ffe4e4"/><stop offset="0.2356" stop-color="#ffebeb"/><stop offset="0.2471" stop-color="#fffdfd"/><stop offset="0.2529" stop-color="#f6f6ff"/><stop offset="0.2644" stop-color="#dcdcff"/><stop offset="0.2701" stop-color="#d1d1ff"/><stop offset="0.2759" stop-color="#cfcfff"/><stop offset="0.2816" stop-color="#d5d5ff"/><stop offset="0.2874" stop-color="#dedeff"/><stop offset="0.2931" stop-color="#e1e1ff"/><stop offset="0.2989" stop-color="#e0e0ff"/><stop offset="0.3046" stop-color="#ebebff"/><stop offset="0.3103" stop-color="#fffcfc"/><stop offset="0.3161" stop-color="#ffeaea"/><stop offset="0.3218" stop-color="#ffdfdf"/><stop offset="0.3333" stop-color="#ffd0d0"/><stop offset="0.3448" stop-color="#ffc9c9"/><stop offset="0.3621" stop-color="#ffbdbd"/><stop offset="0.3678" stop-color="#ffbebe"/><stop offset="0.3736" stop-color="#ffc3c3"/><stop offset="0.3908" stop-color="#ffdada"/><stop offset="0.3966" stop-color="#ffe5e5"/><stop offset="0.4023" stop-color="#fff2f2"/><stop offset="0.4080" stop-color="#fafaff"/><stop offset="0.4138" stop-color="#e3e3ff"/><stop offset="0.4195" stop-color="#cdcdff"/><stop offset="0.4253" stop-color="#bdbdff"/><stop offset="0.4368" stop-color="#b2b2ff"/><stop offset="0.4483" stop-color="#a2a2ff"/><stop offset="0.4540" stop-color="#a3a3ff"/><stop offset="0.4598" stop-color="#b1b1ff"/><stop offset="0.4713" stop-color="#e0e0ff"/><stop offset="0.4770" stop-color="#f6f6ff"/><stop offset="0.4828" stop-color="#fff4f4"/><stop offset="0.4885" stop-color="#ffe2e2"/><stop offset="0.4943" stop-color="#ffd3d3"/><stop offset="0.5057" stop-color="#ffb8b8"/><stop offset="0.5115" stop-color="#ffa7a7"/><stop offset="0.5230" stop-color="#ff7f7f"/><stop offset="0.5287" stop-color="#ff6e6e"/><stop offset="0.5345" stop-color="#ff6464"/><stop offset="0.5402" stop-color="#ff6262"/><stop offset="0.5460" stop-color="#ff6b6b"/><stop offset="0.5517" stop-color="#ff8080"/><stop offset="0.5575" stop-color="#ffa4a4"/><stop offset="0.5632" stop-color="#ffd6d6"/><stop offset="0.5690" stop-color="#f0f0ff"/><stop offset="0.5747" stop-color="#c3c3ff"/><stop offset="0.5805" stop-color="#a7a7ff"/><stop offset="0.5862" stop-color="#9090ff"/><stop offset="0.5920" stop-color="#7676ff"/><stop offset="0.5977" stop-color="#6b6bff"/><stop offset="0.6034" stop-color="#8181ff"/><stop offset="0.6092" stop-color="#aeaeff"/><stop offset="0.6149" stop-color="#d4d4ff"/><stop offset="0.6207" stop-color="#e6e6ff"/><stop offset="0.6264" stop-color="#f2f2ff"/><stop offset="0.6322" stop-color="#fcfcff"/><stop offset="0.6379" stop-color="#fffefe"/><stop offset="0.6437" stop-color="#fffcfc"/><stop offset="0.6667" stop-color="#fff6f6"/><stop offset="0.6782" stop-color="#fff6f6"/><stop offset="0.6897" stop-color="#fff9f9"/><stop offset="0.7011" stop-color="#fffefe"/><stop offset="0.7069" stop-color="#fdfdff"/><stop offset="0.7126" stop-color="#f8f8ff"/><stop offset="0.7184" stop-color="#f0f0ff"/><stop offset="0.7299" stop-color="#dadaff"/><stop offset="0.7356" stop-color="#d6d6ff"/><stop offset="0.7414" stop-color="#dbdbff"/><stop offset="0.7529" stop-color="#f0f0ff"/><stop offset="0.7586" stop-color="#f6f6ff"/><stop offset="0.7644" stop-color="#f9f9ff"/><stop offset="0.7816" stop-color="#fcfcff"/><stop offset="0.8046" stop-color="#fefeff"/><stop offset="0.8276" stop-color="#fdfdff"/><stop offset="0.8506" stop-color="#fcfcff"/><stop offset="0.8736" stop-color="#fafaff"/><stop offset="0.8966" stop-color="#f9f9ff"/><stop offset="0.9195" stop-color="#f4f4ff"/><stop offset="0.9425" stop-color="#ebebff"/><stop offset="0.9655" stop-color="#e8e8ff"/><stop offset="0.9770" stop-color="#ebebff"/><stop offset="0.9885" stop-color="#ececff"/><stop offset="1.0000" stop-color="#efefff"/></linearGradient><linearGradient id="h13"><stop offset="0.0000" stop-color="#ffffff"/><stop offset="0.0057" stop-color="#f9f9ff"/><stop offset="0.0172" stop-color="#ccccff"/><stop offset="0.0230" stop-color="#c8c8ff"/><stop offset="0.0287" stop-color="#c6c6ff"/><stop offset="0.0345" stop-color="#c8c8ff"/><stop offset="0.0402" stop-color="#ccccff"/><stop offset="0.0460" stop-color="#d2d2ff"/><stop offset="0.0517" stop-color="#dadaff"/><stop offset="0.0690" stop-color="#f6f6ff"/><stop offset="0.0747" stop-color="#fdfdff"/><stop offset="0.0805" stop-color="#fffcfc"/><stop offset="0.0862" stop-color="#fffafa"/><stop offset="0.0920" stop-color="#fffbfb"/><stop offset="0.0977" stop-color="#ffffff"/><stop offset="0.1034" stop-color="#f9f9ff"/><stop offset="0.1149" stop-color="#e9e9ff"/><stop offset="0.1264" stop-color="#d7d7ff"/><stop offset="0.1379" stop-color="#cacaff"/><stop offset="0.1494" stop-color="#c5c5ff"/><stop offset="0.1609" stop-color="#c6c6ff"/><stop offset="0.1782" stop-color="#d2d2ff"/><stop offset="0.1839" stop-color="#d9d9ff"/><stop offset="0.2069" stop-color="#ffffff"/><stop offset="0.2126" stop-color="#fff6f6"/><stop offset="0.2184" stop-color="#fff0f0"/><stop offset="0.2241" stop-color="#ffeeee"/><stop offset="0.2299" stop-color="#fff0f0"/><stop offset="0.2356" stop-color="#fff5f5"/><stop offset="0.2414" stop-color="#fffcfc"/><stop offset="0.2471" stop-color="#fafaff"/><stop offset="0.2529" stop-color="#f1f1ff"/><stop offset="0.2644" stop-color="#dbdbff"/><stop offset="0.2701" stop-color="#d2d2ff"/><stop offset="0.2759" stop-color="#d1d1ff"/><stop offset="0.2816" stop-color="#d7d7ff"/><stop offset="0.2874" stop-color="#dfdfff"/><stop offset="0.2931" stop-color="#e0e0ff"/><stop offset="0.2989" stop-color="#dfdfff"/><stop offset="0.3046" stop-color="#eaeaff"/><stop offset="0.3103" stop-color="#fffefe"/><stop offset="0.3161" stop-color="#ffecec"/><stop offset="0.3218" stop-color="#ffe1e1"/><stop offset="0.3276" stop-color="#ffd8d8"/><stop offset="0.3391" stop-color="#ffcbcb"/><stop offset="0.3448" stop-color="#ffc7c7"/><stop offset="0.3506" stop-color="#ffc2c2"/><stop offset="0.3563" stop-color="#ffbfbf"/><stop offset="0.3621" stop-color="#ffbebe"/><stop offset="0.3678" stop-color="#ffc0c0"/><stop offset="0.3736" stop-color="#ffc5c5"/><stop offset="0.3908" stop-color="#ffdcdc"/><stop offset="0.3966" stop-color="#ffe6e6"/><stop offset="0.4023" stop-color="#fff3f3"/><stop offset="0.4080" stop-color="#fafaff"/><stop offset="0.4138" stop-color="#e5e5ff"/><stop offset="0.4195" stop-color="#cfcfff"/><stop offset="0.4253" stop-color="#bfbfff"/><stop offset="0.4368" stop-color="#afafff"/><stop offset="0.4483" stop-color="#9a9aff"/><stop offset="0.4540" stop-color="#9999ff"/><stop offset="0.4598" stop-color="#a5a5ff"/><stop offset="0.4655" stop-color="#babaff"/><stop offset="0.4713" stop-color="#d1d1ff"/><stop offset="0.4770" stop-color="#e5e5ff"/><stop offset="0.4828" stop-color="#f7f7ff"/><stop offset="0.4885" stop-color="#fff7f7"/><stop offset="0.5057" stop-color="#ffc4c4"/><stop offset="0.5115" stop-color="#ffb0b0"/><stop offset="0.5230" stop-color="#ff8484"/><stop offset="0.5287" stop-color="#ff7373"/><stop offset="0.5345" stop-color="#ff6a6a"/><stop offset="0.5402" stop-color="#ff6a6a"/><stop offset="0.5460" stop-color="#ff7575"/><stop offset="0.5517" stop-color="#ff8d8d"/><stop offset="0.5575" stop-color="#ffb2b2"/><stop offset="0.5632" stop-color="#ffe6e6"/><stop offset="0.5690" stop-color="#dfdfff"/><stop offset="0.5747" stop-color="#b2b2ff"/><stop offset="0.5805" stop-color="#9696ff"/><stop offset="0.5862" stop-color="#8080ff"/><stop offset="0.5920" stop-color="#6868ff"/><stop offset="0.5977" stop-color="#5f5fff"/><stop offset="0.6034" stop-color="#7878ff"/><stop offset="0.6092" stop-color="#a6a6ff"/><stop offset="0.6149" stop-color="#ceceff"/><stop offset="0.6207" stop-color="#e3e3ff"/><stop offset="0.6264" stop-color="#efefff"/><stop offset="0.6322" stop-color="#f7f7ff"/><stop offset="0.6379" stop-color="#fbfbff"/><stop offset="0.6437" stop-color="#fdfdff"/><stop offset="0.6494" stop-color="#ffffff"/><stop offset="0.6667" stop-color="#fffdfd"/><stop offset="0.6839" stop-color="#ffffff"/><stop offset="0.6897" stop-color="#fefeff"/><stop offset="0.7069" stop-color="#f8f8ff"/><stop offset="0.7126" stop-color="#f4f4ff"/><stop offset="0.7184" stop-color="#ededff"/><stop offset="0.7299" stop-color="#d9d9ff"/><stop offset="0.7356" stop-color="#d5d5ff"/><stop offset="0.7414" stop-color="#dadaff"/><stop offset="0.7529" stop-color="#ededff"/><stop offset="0.7586" stop-color="#f3f3ff"/><stop offset="0.7816" stop-color="#f8f8ff"/><stop offset="0.8046" stop-color="#f9f9ff"/><stop offset="0.8276" stop-color="#f9f9ff"/><stop offset="0.8506" stop-color="#f8f8ff"/><stop offset="0.8736" stop-color="#f7f7ff"/><stop offset="0.8966" stop-color="#f6f6ff"/><stop offset="0.9195" stop-color="#f2f2ff"/><stop offset="0.9425" stop-color="#ebebff"/><stop offset="0.9655" stop-color="#e8e8ff"/><stop offset="0.9828" stop-color="#eaeaff"/><stop offset="0.9885" stop-color="#e8e8ff"/><stop offset="0.9943" stop-color="#e5e5ff"/><stop offset="1.0000" stop-color="#e6e6ff"/></linearGradient><linearGradient id="h14"><stop offset="0.0000" stop-color="#ffffff"/><stop offset="0.0057" stop-color="#f9f9ff"/><stop offset="0.0115" stop-color="#e0e0ff"/><stop offset="0.0172" stop-color="#c9c9ff"/><stop offset="0.0230" stop-color="#c4c4ff"/><stop offset="0.0345" stop-color="#c3c3ff"/><stop offset="0.0402" stop-color="#c6c6ff"/><stop offset="0.0460" stop-color="#ccccff"/><stop offset="0.0632" stop-color="#e4e4ff"/><stop offset="0.0690" stop-color="#ebebff"/><stop offset="0.0747" stop-color="#f2f2ff"/><stop offset="0.0805" stop-color="#f6f6ff"/><stop offset="0.0862" stop-color="#f8f8ff"/><stop offset="0.0920" stop-color="#f7f7ff"/><stop offset="0.0977" stop-color="#f5f5ff"/><stop offset="0.1149" stop-color="#e3e3ff"/><stop offset="0.1322" stop-color="#cfcfff"/><stop offset="0.1379" stop-color="#cbcbff"/><stop offset="0.1494" stop-color="#c6c6ff"/><stop offset="0.1609" stop-color="#c7c7ff"/><stop offset="0.1724" stop-color="#cdcdff"/><stop offset="0.1839" stop-color="#d7d7ff"/><stop offset="0.2069" stop-color="#f6f6ff"/><stop offset="0.2126" stop-color="#fefeff"/><stop offset="0.2184" stop-color="#fffbfb"/><stop offset="0.2241" stop-color="#fff9f9"/><stop offset="0.2299" stop-color="#fffbfb"/><stop offset="0.2356" stop-color="#fffefe"/><stop offset="0.2414" stop-color="#fbfbff"/><stop offset="0.2529" stop-color="#ededff"/><stop offset="0.2644" stop-color="#dadaff"/><stop offset="0.2701" stop-color="#d3d3ff"/><stop offset="0.2759" stop-color="#d2d2ff"/><stop offset="0.2874" stop-color="#dfdfff"/><stop offset="0.2931" stop-color="#e0e0ff"/><stop offset="0.2989" stop-color="#dedeff"/><stop offset="0.3046" stop-color="#e8e8ff"/><stop offset="0.3103" stop-color="#fdfdff"/><stop offset="0.3161" stop-color="#fff0f0"/><stop offset="0.3218" stop-color="#ffe5e5"/><stop offset="0.3333" stop-color="#ffd5d5"/><stop offset="0.3448" stop-color="#ffcaca"/><stop offset="0.3506" stop-color="#ffc6c6"/><stop offset="0.3563" stop-color="#ffc4c4"/><stop offset="0.3621" stop-color="#ffc4c4"/><stop offset="0.3678" stop-color="#ffc6c6"/><stop offset="0.3908" stop-color="#ffe0e0"/><stop offset="0.3966" stop-color="#ffe9e9"/><stop offset="0.4023" stop-color="#fff5f5"/><stop offset="0.4080" stop-color="#f9f9ff"/><stop offset="0.4138" stop-color="#e5e5ff"/><stop offset="0.4195" stop-color="#d1d1ff"/><stop offset="0.4253" stop-color="#c1c1ff"/><stop offset="0.4368" stop-color="#afafff"/><stop offset="0.4483" stop-color="#9696ff"/><stop offset="0.4540" stop-color="#9494ff"/><stop offset="0.4598" stop-color="#9e9eff"/><stop offset="0.4770" stop-color="#d6d6ff"/><stop offset="0.4828" stop-color="#e6e6ff"/><stop offset="0.4885" stop-color="#f6f6ff"/><stop offset="0.4943" stop-color="#fff6f6"/><stop offset="0.5000" stop-color="#ffe4e4"/><stop offset="0.5057" stop-color="#ffcfcf"/><stop offset="0.5172" stop-color="#ffa1a1"/><stop offset="0.5230" stop-color="#ff8c8c"/><stop offset="0.5287" stop-color="#ff7b7b"/><stop offset="0.5345" stop-color="#ff7373"/><stop offset="0.5402" stop-color="#ff7575"/><stop offset="0.5460" stop-color="#ff8282"/><stop offset="0.5517" stop-color="#ff9b9b"/><stop offset="0.5575" stop-color="#ffc2c2"/><stop offset="0.5632" stop-color="#fff5f5"/><stop offset="0.5690" stop-color="#d3d3ff"/><stop offset="0.5747" stop-color="#a7a7ff"/><stop offset="0.5805" stop-color="#8b8bff"/><stop offset="0.5920" stop-color="#5e5eff"/><stop offset="0.5977" stop-color="#5959ff"/><stop offset="0.6034" stop-color="#7373ff"/><stop offset="0.6092" stop-color="#a2a2ff"/><stop offset="0.6149" stop-color="#cacaff"/><stop offset="0.6207" stop-color="#e0e0ff"/><stop offset="0.6264" stop-color="#ececff"/><stop offset="0.6322" stop-color="#f3f3ff"/><stop offset="0.6379" stop-color="#f7f7ff"/><stop offset="0.6437" stop-color="#f8f8ff"/><stop offset="0.6667" stop-color="#fafaff"/><stop offset="0.6897" stop-color="#f8f8ff"/><stop offset="0.7126" stop-color="#f0f0ff"/><stop offset="0.7184" stop-color="#e9e9ff"/><stop offset="0.7299" stop-color="#d8d8ff"/><stop offset="0.7356" stop-color="#d4d4ff"/><stop offset="0.7414" stop-color="#d9d9ff"/><stop offset="0.7529" stop-color="#eaeaff"/><stop offset="0.7586" stop-color="#efefff"/><stop offset="0.7644" stop-color="#f2f2ff"/><stop offset="0.7816" stop-color="#f4f4ff"/><stop offset="0.8046" stop-color="#f5f5ff"/><stop offset="0.8276" stop-color="#f5f5ff"/><stop offset="0.8506" stop-color="#f5f5ff"/><stop offset="0.8736" stop-color="#f5f5ff"/><stop offset="0.8966" stop-color="#f4f4ff"/><stop offset="0.9195" stop-color="#f1f1ff"/><stop offset="0.9425" stop-color="#eaeaff"/><stop offset="0.9655" stop-color="#e8e8ff"/><stop offset="0.9770" stop-color="#eaeaff"/><stop offset="0.9828" stop-color="#e8e8ff"/><stop offset="0.9885" stop-color="#e3e3ff"/><stop offset="0.9943" stop-color="#dcdcff"/><stop offset="1.0000" stop-color="#dcdcff"/></linearGradient><linearGradient id="h15"><stop offset="0.0000" stop-color="#ffffff"/><stop offset="0.0057" stop-color="#f9f9ff"/><stop offset="0.0115" stop-color="#e1e1ff"/><stop offset="0.0172" stop-color="#cbcbff"/><stop offset="0.0230" stop-color="#c6c6ff"/><stop offset="0.0287" stop-color="#c4c4ff"/><stop offset="0.0345" stop-color="#c4c4ff"/><stop offset="0.0402" stop-color="#c6c6ff"/><stop offset="0.0460" stop-color="#cbcbff"/><stop offset="0.0517" stop-color="#d0d0ff"/><stop offset="0.0690" stop-color="#e5e5ff"/><stop offset="0.0747" stop-color="#eaeaff"/><stop offset="0.0862" stop-color="#efefff"/><stop offset="0.0920" stop-color="#efefff"/><stop offset="0.1034" stop-color="#e9e9ff"/><stop offset="0.1149" stop-color="#dfdfff"/><stop offset="0.1379" stop-color="#ccccff"/><stop offset="0.1609" stop-color="#cacaff"/><stop offset="0.1782" stop-color="#d2d2ff"/><stop offset="0.1839" stop-color="#d7d7ff"/><stop offset="0.1897" stop-color="#dcdcff"/><stop offset="0.2069" stop-color="#f0f0ff"/><stop offset="0.2184" stop-color="#f9f9ff"/><stop offset="0.2241" stop-color="#fbfbff"/><stop offset="0.2299" stop-color="#fbfbff"/><stop offset="0.2529" stop-color="#e9e9ff"/><stop offset="0.2644" stop-color="#d8d8ff"/><stop offset="0.2701" stop-color="#d3d3ff"/><stop offset="0.2759" stop-color="#d3d3ff"/><stop offset="0.2874" stop-color="#dedeff"/><stop offset="0.2931" stop-color="#dedeff"/><stop offset="0.2989" stop-color="#dcdcff"/><stop offset="0.3046" stop-color="#e6e6ff"/><stop offset="0.3103" stop-color="#f9f9ff"/><stop offset="0.3161" stop-color="#fff5f5"/><stop offset="0.3218" stop-color="#ffebeb"/><stop offset="0.3448" stop-color="#ffd2d2"/><stop offset="0.3563" stop-color="#ffcdcd"/><stop offset="0.3621" stop-color="#ffcdcd"/><stop offset="0.3678" stop-color="#ffcfcf"/><stop offset="0.3793" stop-color="#ffd8d8"/><stop offset="0.3908" stop-color="#ffe6e6"/><stop offset="0.3966" stop-color="#ffeeee"/><stop offset="0.4023" stop-color="#fff8f8"/><stop offset="0.4080" stop-color="#f7f7ff"/><stop offset="0.4138" stop-color="#e5e5ff"/><stop offset="0.4195" stop-color="#d2d2ff"/><stop offset="0.4253" stop-color="#c3c3ff"/><stop offset="0.4368" stop-color="#b0b0ff"/><stop offset="0.4483" stop-color="#9898ff"/><stop offset="0.4540" stop-color="#9494ff"/><stop offset="0.4598" stop-color="#9b9bff"/><stop offset="0.4655" stop-color="#aaaaff"/><stop offset="0.4713" stop-color="#bbbbff"/><stop offset="0.4828" stop-color="#d9d9ff"/><stop offset="0.4885" stop-color="#e9e9ff"/><stop offset="0.4943" stop-color="#fcfcff"/><stop offset="0.5000" stop-color="#ffeeee"/><stop offset="0.5057" stop-color="#ffd8d8"/><stop offset="0.5172" stop-color="#ffa9a9"/><stop offset="0.5230" stop-color="#ff9595"/><stop offset="0.5287" stop-color="#ff8585"/><stop offset="0.5345" stop-color="#ff7e7e"/><stop offset="0.5402" stop-color="#ff8282"/><stop offset="0.5460" stop-color="#ff9191"/><stop offset="0.5517" stop-color="#ffadad"/><stop offset="0.5575" stop-color="#ffd5d5"/><stop offset="0.5632" stop-color="#f9f9ff"/><stop offset="0.5690" stop-color="#c7c7ff"/><stop offset="0.5747" stop-color="#9e9eff"/><stop offset="0.5805" stop-color="#8181ff"/><stop offset="0.5862" stop-color="#6a6aff"/><stop offset="0.5920" stop-color="#5757ff"/><stop offset="0.5977" stop-color="#5656ff"/><stop offset="0.6034" stop-color="#7171ff"/><stop offset="0.6092" stop-color="#9f9fff"/><stop offset="0.6149" stop-color="#c6c6ff"/><stop offset="0.6207" stop-color="#ddddff"/><stop offset="0.6264" stop-color="#e8e8ff"/><stop offset="0.6322" stop-color="#efefff"/><stop offset="0.6379" stop-color="#f2f2ff"/><stop offset="0.6437" stop-color="#f3f3ff"/><stop offset="0.6667" stop-color="#f4f4ff"/><stop offset="0.6897" stop-color="#f2f2ff"/><stop offset="0.7126" stop-color="#ebebff"/><stop offset="0.7184" stop-color="#e6e6ff"/><stop offset="0.7299" stop-color="#d6d6ff"/><stop offset="0.7356" stop-color="#d4d4ff"/><stop offset="0.7414" stop-color="#d8d8ff"/><stop offset="0.7529" stop-color="#e8e8ff"/><stop offset="0.7586" stop-color="#ececff"/><stop offset="0.7816" stop-color="#f0f0ff"/><stop offset="0.8046" stop-color="#f1f1ff"/><stop offset="0.8276" stop-color="#f1f1ff"/><stop offset="0.8506" stop-color="#f2f2ff"/><stop offset="0.8736" stop-color="#f2f2ff"/><stop offset="0.8966" stop-color="#f2f2ff"/><stop offset="0.9195" stop-color="#f0f0ff"/><stop offset="0.9425" stop-color="#eaeaff"/><stop offset="0.9655" stop-color="#e9e9ff"/><stop offset="0.9770" stop-color="#eaeaff"/><stop offset="0.9828" stop-color="#e6e6ff"/><stop offset="0.9885" stop-color="#dcdcff"/><stop offset="0.9943" stop-color="#d0d0ff"/><stop offset="1.0000" stop-color="#ceceff"/></linearGradient><linearGradient id="h16"><stop offset="0.0000" stop-color="#ffffff"/><stop offset="0.0057" stop-color="#f9f9ff"/><stop offset="0.0115" stop-color="#e3e3ff"/><stop offset="0.0172" stop-color="#cfcfff"/><stop offset="0.0230" stop-color="#cbcbff"/><stop offset="0.0287" stop-color="#c9c9ff"/><stop offset="0.0402" stop-color="#cacaff"/><stop offset="0.0460" stop-color="#cdcdff"/><stop offset="0.0690" stop-color="#e1e1ff"/><stop offset="0.0747" stop-color="#e5e5ff"/><stop offset="0.0862" stop-color="#e9e9ff"/><stop offset="0.0920" stop-color="#e8e8ff"/><stop offset="0.0977" stop-color="#e7e7ff"/><stop offset="0.1149" stop-color="#dcdcff"/><stop offset="0.1379" stop-color="#ceceff"/><stop offset="0.1609" stop-color="#ccccff"/><stop offset="0.1839" stop-color="#d7d7ff"/><stop offset="0.2069" stop-color="#eaeaff"/><stop offset="0.2126" stop-color="#efefff"/><stop offset="0.2184" stop-color="#f2f2ff"/><stop offset="0.2299" stop-color="#f3f3ff"/><stop offset="0.2356" stop-color="#f2f2ff"/><stop offset="0.2471" stop-color="#ebebff"/><stop offset="0.2529" stop-color="#e5e5ff"/><stop offset="0.2644" stop-color="#d7d7ff"/><stop offset="0.2701" stop-color="#d3d3ff"/><stop offset="0.2759" stop-color="#d3d3ff"/><stop offset="0.2874" stop-color="#dedeff"/><stop offset="0.2931" stop-color="#ddddff"/><stop offset="0.2989" stop-color="#dadaff"/><stop offset="0.3046" stop-color="#e3e3ff"/><stop offset="0.3103" stop-color="#f5f5ff"/><stop offset="0.3161" stop-color="#fffbfb"/><stop offset="0.3218" stop-color="#fff2f2"/><stop offset="0.3448" stop-color="#ffdcdc"/><stop offset="0.3563" stop-color="#ffd7d7"/><stop offset="0.3678" stop-color="#ffd9d9"/><stop offset="0.3736" stop-color="#ffdcdc"/><stop offset="0.3908" stop-color="#ffecec"/><stop offset="0.3966" stop-color="#fff3f3"/><stop offset="0.4023" stop-color="#fffcfc"/><stop offset="0.4080" stop-color="#f5f5ff"/><stop offset="0.4138" stop-color="#e5e5ff"/><stop offset="0.4195" stop-color="#d4d4ff"/><stop offset="0.4253" stop-color="#c5c5ff"/><stop offset="0.4368" stop-color="#b2b2ff"/><stop offset="0.4483" stop-color="#9c9cff"/><stop offset="0.4540" stop-color="#9797ff"/><stop offset="0.4598" stop-color="#9b9bff"/><stop offset="0.4655" stop-color="#a6a6ff"/><stop offset="0.4770" stop-color="#c1c1ff"/><stop offset="0.4828" stop-color="#d0d0ff"/><stop offset="0.4885" stop-color="#e0e0ff"/><stop offset="0.4943" stop-color="#f2f2ff"/><stop offset="0.5000" stop-color="#fff7f7"/><stop offset="0.5057" stop-color="#ffe1e1"/><stop offset="0.5115" stop-color="#ffc9c9"/><stop offset="0.5172" stop-color="#ffb3b3"/><stop offset="0.5230" stop-color="#ff9f9f"/><stop offset="0.5287" stop-color="#ff9191"/><stop offset="0.5345" stop-color="#ff8c8c"/><stop offset="0.5402" stop-color="#ff9292"/><stop offset="0.5460" stop-color="#ffa3a3"/><stop offset="0.5517" stop-color="#ffc1c1"/><stop offset="0.5575" stop-color="#ffe9e9"/><stop offset="0.5632" stop-color="#e6e6ff"/><stop offset="0.5690" stop-color="#b7b7ff"/><stop offset="0.5747" stop-color="#9090ff"/><stop offset="0.5805" stop-color="#7474ff"/><stop offset="0.5862" stop-color="#5f5fff"/><stop offset="0.5920" stop-color="#5151ff"/><stop offset="0.5977" stop-color="#5555ff"/><stop offset="0.6034" stop-color="#7272ff"/><stop offset="0.6092" stop-color="#9e9eff"/><stop offset="0.6149" stop-color="#c3c3ff"/><stop offset="0.6207" stop-color="#d9d9ff"/><stop offset="0.6264" stop-color="#e5e5ff"/><stop offset="0.6322" stop-color="#ebebff"/><stop offset="0.6379" stop-color="#eeeeff"/><stop offset="0.6437" stop-color="#efefff"/><stop offset="0.6667" stop-color="#efefff"/><stop offset="0.6897" stop-color="#ececff"/><stop offset="0.7069" stop-color="#eaeaff"/><stop offset="0.7126" stop-color="#e7e7ff"/><stop offset="0.7184" stop-color="#e3e3ff"/><stop offset="0.7299" stop-color="#d5d5ff"/><stop offset="0.7356" stop-color="#d3d3ff"/><stop offset="0.7414" stop-color="#d7d7ff"/><stop offset="0.7529" stop-color="#e5e5ff"/><stop offset="0.7586" stop-color="#e9e9ff"/><stop offset="0.7816" stop-color="#ededff"/><stop offset="0.8046" stop-color="#eeeeff"/><stop offset="0.8276" stop-color="#eeeeff"/><stop offset="0.8506" stop-color="#efefff"/><stop offset="0.8736" stop-color="#efefff"/><stop offset="0.8966" stop-color="#f0f0ff"/><stop offset="0.9195" stop-color="#eeeeff"/><stop offset="0.9425" stop-color="#eaeaff"/><stop offset="0.9655" stop-color="#e9e9ff"/><stop offset="0.9713" stop-color="#eaeaff"/><stop offset="0.9770" stop-color="#e9e9ff"/><stop offset="0.9828" stop-color="#e4e4ff"/><stop offset="0.9885" stop-color="#d5d5ff"/><stop offset="0.9943" stop-color="#c2c2ff"/><stop offset="1.0000" stop-color="#bfbfff"/></linearGradient><linearGradient id="h17"><stop offset="0.0000" stop-color="#ffffff"/><stop offset="0.0057" stop-color="#fafaff"/><stop offset="0.0115" stop-color="#e6e6ff"/><stop offset="0.0172" stop-color="#d4d4ff"/><stop offset="0.0230" stop-color="#d1d1ff"/><stop offset="0.0287" stop-color="#cfcfff"/><stop offset="0.0460" stop-color="#d2d2ff"/><stop offset="0.0690" stop-color="#dfdfff"/><stop offset="0.0862" stop-color="#e4e4ff"/><stop offset="0.0920" stop-color="#e3e3ff"/><stop offset="0.1149" stop-color="#dadaff"/><stop offset="0.1379" stop-color="#d0d0ff"/><stop offset="0.1609" stop-color="#cfcfff"/><stop offset="0.1839" stop-color="#d7d7ff"/><stop offset="0.2069" stop-color="#e6e6ff"/><stop offset="0.2184" stop-color="#ececff"/><stop offset="0.2299" stop-color="#ededff"/><stop offset="0.2471" stop-color="#e7e7ff"/><stop offset="0.2529" stop-color="#e2e2ff"/><stop offset="0.2644" stop-color="#d6d6ff"/><stop offset="0.2701" stop-color="#d3d3ff"/><stop offset="0.2759" stop-color="#d3d3ff"/><stop offset="0.2874" stop-color="#ddddff"/><stop offset="0.2931" stop-color="#dcdcff"/><stop offset="0.2989" stop-color="#d9d9ff"/><stop offset="0.3046" stop-color="#e1e1ff"/><stop offset="0.3103" stop-color="#f1f1ff"/><stop offset="0.3161" stop-color="#fefeff"/><stop offset="0.3218" stop-color="#fff9f9"/><stop offset="0.3448" stop-color="#ffe6e6"/><stop offset="0.3506" stop-color="#ffe3e3"/><stop offset="0.3678" stop-color="#ffe3e3"/><stop offset="0.3736" stop-color="#ffe5e5"/><stop offset="0.3908" stop-color="#fff1f1"/><stop offset="0.3966" stop-color="#fff7f7"/><stop offset="0.4023" stop-color="#ffffff"/><stop offset="0.4080" stop-color="#f4f4ff"/><stop offset="0.4138" stop-color="#e5e5ff"/><stop offset="0.4195" stop-color="#d5d5ff"/><stop offset="0.4253" stop-color="#c8c8ff"/><stop offset="0.4310" stop-color="#bebeff"/><stop offset="0.4368" stop-color="#b6b6ff"/><stop offset="0.4483" stop-color="#a1a1ff"/><stop offset="0.4540" stop-color="#9c9cff"/><stop offset="0.4598" stop-color="#9d9dff"/><stop offset="0.4655" stop-color="#a4a4ff"/><stop offset="0.4770" stop-color="#bbbbff"/><stop offset="0.4828" stop-color="#c9c9ff"/><stop offset="0.4885" stop-color="#d9d9ff"/><stop offset="0.4943" stop-color="#ebebff"/><stop offset="0.5000" stop-color="#fffefe"/><stop offset="0.5057" stop-color="#ffe8e8"/><stop offset="0.5172" stop-color="#ffbdbd"/><stop offset="0.5230" stop-color="#ffabab"/><stop offset="0.5287" stop-color="#ff9f9f"/><stop offset="0.5345" stop-color="#ff9b9b"/><stop offset="0.5402" stop-color="#ffa2a2"/><stop offset="0.5460" stop-color="#ffb6b6"/><stop offset="0.5517" stop-color="#ffd6d6"/><stop offset="0.5575" stop-color="#ffffff"/><stop offset="0.5690" stop-color="#a4a4ff"/><stop offset="0.5747" stop-color="#7f7fff"/><stop offset="0.5805" stop-color="#6565ff"/><stop offset="0.5862" stop-color="#5454ff"/><stop offset="0.5920" stop-color="#4c4cff"/><stop offset="0.5977" stop-color="#5555ff"/><stop offset="0.6034" stop-color="#7474ff"/><stop offset="0.6092" stop-color="#9d9dff"/><stop offset="0.6149" stop-color="#c0c0ff"/><stop offset="0.6207" stop-color="#d6d6ff"/><stop offset="0.6264" stop-color="#e1e1ff"/><stop offset="0.6322" stop-color="#e8e8ff"/><stop offset="0.6437" stop-color="#ebebff"/><stop offset="0.6667" stop-color="#eaeaff"/><stop offset="0.6897" stop-color="#e7e7ff"/><stop offset="0.7126" stop-color="#e4e4ff"/><stop offset="0.7184" stop-color="#e0e0ff"/><stop offset="0.7299" stop-color="#d4d4ff"/><stop offset="0.7356" stop-color="#d2d2ff"/><stop offset="0.7414" stop-color="#d6d6ff"/><stop offset="0.7529" stop-color="#e3e3ff"/><stop offset="0.7586" stop-color="#e6e6ff"/><stop offset="0.7816" stop-color="#eaeaff"/><stop offset="0.8046" stop-color="#ebebff"/><stop offset="0.8276" stop-color="#ebebff"/><stop offset="0.8506" stop-color="#ececff"/><stop offset="0.8736" stop-color="#ededff"/><stop offset="0.8966" stop-color="#eeeeff"/><stop offset="0.9195" stop-color="#ededff"/><stop offset="0.9425" stop-color="#eaeaff"/><stop offset="0.9655" stop-color="#eaeaff"/><stop offset="0.9770" stop-color="#e9e9ff"/><stop offset="0.9828" stop-color="#e1e1ff"/><stop offset="0.9885" stop-color="#cdcdff"/><stop offset="0.9943" stop-color="#b4b4ff"/><stop offset="1.0000" stop-color="#afafff"/></linearGradient><linearGradient id="h18"><stop offset="0.0000" stop-color="#ffffff"/><stop offset="0.0057" stop-color="#fafaff"/><stop offset="0.0115" stop-color="#e8e8ff"/><stop offset="0.0172" stop-color="#d9d9ff"/><stop offset="0.0230" stop-color="#d6d6ff"/><stop offset="0.0345" stop-color="#d4d4ff"/><stop offset="0.0460" stop-color="#d6d6ff"/><stop offset="0.0690" stop-color="#dedeff"/><stop offset="0.0920" stop-color="#e0e0ff"/><stop offset="0.1149" stop-color="#d9d9ff"/><stop offset="0.1379" stop-color="#d2d2ff"/><stop offset="0.1609" stop-color="#d1d1ff"/><stop offset="0.1839" stop-color="#d7d7ff"/><stop offset="0.2069" stop-color="#e2e2ff"/><stop offset="0.2299" stop-color="#e8e8ff"/><stop offset="0.2356" stop-color="#e8e8ff"/><stop offset="0.2471" stop-color="#e4e4ff"/><stop offset="0.2529" stop-color="#e0e0ff"/><stop offset="0.2644" stop-color="#d6d6ff"/><stop offset="0.2701" stop-color="#d3d3ff"/><stop offset="0.2759" stop-color="#d4d4ff"/><stop offset="0.2874" stop-color="#ddddff"/><stop offset="0.2931" stop-color="#dcdcff"/><stop offset="0.2989" stop-color="#d9d9ff"/><stop offset="0.3046" stop-color="#dfdfff"/><stop offset="0.3103" stop-color="#eeeeff"/><stop offset="0.3161" stop-color="#f9f9ff"/><stop offset="0.3218" stop-color="#fffefe"/><stop offset="0.3448" stop-color="#ffefef"/><stop offset="0.3506" stop-color="#ffecec"/><stop offset="0.3621" stop-color="#ffeaea"/><stop offset="0.3678" stop-color="#ffebeb"/><stop offset="0.3908" stop-color="#fff6f6"/><stop offset="0.3966" stop-color="#fffbfb"/><stop offset="0.4023" stop-color="#fcfcff"/><stop offset="0.4080" stop-color="#f2f2ff"/><stop offset="0.4138" stop-color="#e5e5ff"/><stop offset="0.4253" stop-color="#cacaff"/><stop offset="0.4368" stop-color="#b9b9ff"/><stop offset="0.4483" stop-color="#a7a7ff"/><stop offset="0.4540" stop-color="#a1a1ff"/><stop offset="0.4598" stop-color="#a0a0ff"/><stop offset="0.4655" stop-color="#a4a4ff"/><stop offset="0.4713" stop-color="#acacff"/><stop offset="0.4770" stop-color="#b6b6ff"/><stop offset="0.4828" stop-color="#c4c4ff"/><stop offset="0.4885" stop-color="#d4d4ff"/><stop offset="0.4943" stop-color="#e6e6ff"/><stop offset="0.5000" stop-color="#fafaff"/><stop offset="0.5057" stop-color="#ffefef"/><stop offset="0.5115" stop-color="#ffdada"/><stop offset="0.5172" stop-color="#ffc7c7"/><stop offset="0.5230" stop-color="#ffb7b7"/><stop offset="0.5287" stop-color="#ffacac"/><stop offset="0.5345" stop-color="#ffaaaa"/><stop offset="0.5402" stop-color="#ffb3b3"/><stop offset="0.5460" stop-color="#ffc8c8"/><stop offset="0.5517" stop-color="#ffe9e9"/><stop offset="0.5575" stop-color="#ebebff"/><stop offset="0.5632" stop-color="#bcbcff"/><stop offset="0.5690" stop-color="#9191ff"/><stop offset="0.5747" stop-color="#6e6eff"/><stop offset="0.5805" stop-color="#5656ff"/><stop offset="0.5862" stop-color="#4a4aff"/><stop offset="0.5920" stop-color="#4949ff"/><stop offset="0.5977" stop-color="#5858ff"/><stop offset="0.6034" stop-color="#7878ff"/><stop offset="0.6092" stop-color="#9e9eff"/><stop offset="0.6149" stop-color="#bfbfff"/><stop offset="0.6207" stop-color="#d3d3ff"/><stop offset="0.6264" stop-color="#dedeff"/><stop offset="0.6322" stop-color="#e4e4ff"/><stop offset="0.6379" stop-color="#e7e7ff"/><stop offset="0.6437" stop-color="#e7e7ff"/><stop offset="0.6667" stop-color="#e5e5ff"/><stop offset="0.6897" stop-color="#e3e3ff"/><stop offset="0.7069" stop-color="#e2e2ff"/><stop offset="0.7126" stop-color="#e0e0ff"/><stop offset="0.7184" stop-color="#ddddff"/><stop offset="0.7299" stop-color="#d4d4ff"/><stop offset="0.7356" stop-color="#d2d2ff"/><stop offset="0.7414" stop-color="#d5d5ff"/><stop offset="0.7529" stop-color="#e1e1ff"/><stop offset="0.7586" stop-color="#e4e4ff"/><stop offset="0.7644" stop-color="#e6e6ff"/><stop offset="0.7816" stop-color="#e7e7ff"/><stop offset="0.8046" stop-color="#e8e8ff"/><stop offset="0.8276" stop-color="#e9e9ff"/><stop offset="0.8506" stop-color="#e9e9ff"/><stop offset="0.8736" stop-color="#ebebff"/><stop offset="0.8966" stop-color="#ececff"/><stop offset="0.9195" stop-color="#ececff"/><stop offset="0.9425" stop-color="#eaeaff"/><stop offset="0.9655" stop-color="#eaeaff"/><stop offset="0.9713" stop-color="#ebebff"/><stop offset="0.9770" stop-color="#e9e9ff"/><stop offset="0.9828" stop-color="#dfdfff"/><stop offset="0.9885" stop-color="#c6c6ff"/><stop offset="0.9943" stop-color="#a8a8ff"/><stop offset="1.0000" stop-color="#a1a1ff"/></linearGradient><linearGradient id="h19"><stop offset="0.0000" stop-color="#ffffff"/><stop offset="0.0057" stop-color="#fbfbff"/><stop offset="0.0115" stop-color="#eaeaff"/><stop offset="0.0172" stop-color="#dcdcff"/><stop offset="0.0230" stop-color="#dadaff"/><stop offset="0.0460" stop-color="#d9d9ff"/><stop offset="0.0690" stop-color="#dcdcff"/><stop offset="0.0920" stop-color="#ddddff"/><stop offset="0.1149" stop-color="#d7d7ff"/><stop offset="0.1379" stop-color="#d2d2ff"/><stop offset="0.1609" stop-color="#d2d2ff"/><stop offset="0.1839" stop-color="#d7d7ff"/><stop offset="0.2069" stop-color="#dfdfff"/><stop offset="0.2299" stop-color="#e5e5ff"/><stop offset="0.2529" stop-color="#dfdfff"/><stop offset="0.2701" stop-color="#d4d4ff"/><stop offset="0.2759" stop-color="#d6d6ff"/><stop offset="0.2874" stop-color="#ddddff"/><stop offset="0.2931" stop-color="#dcdcff"/><stop offset="0.2989" stop-color="#d9d9ff"/><stop offset="0.3046" stop-color="#dfdfff"/><stop offset="0.3103" stop-color="#ececff"/><stop offset="0.3161" stop-color="#f6f6ff"/><stop offset="0.3218" stop-color="#fbfbff"/><stop offset="0.3276" stop-color="#ffffff"/><stop offset="0.3448" stop-color="#fff5f5"/><stop offset="0.3621" stop-color="#fff1f1"/><stop offset="0.3678" stop-color="#fff2f2"/><stop offset="0.3908" stop-color="#fffafa"/><stop offset="0.3966" stop-color="#fffefe"/><stop offset="0.4023" stop-color="#fafaff"/><stop offset="0.4080" stop-color="#f2f2ff"/><stop offset="0.4138" stop-color="#e6e6ff"/><stop offset="0.4195" stop-color="#d9d9ff"/><stop offset="0.4253" stop-color="#ceceff"/><stop offset="0.4368" stop-color="#bdbdff"/><stop offset="0.4483" stop-color="#acacff"/><stop offset="0.4540" stop-color="#a6a6ff"/><stop offset="0.4598" stop-color="#a3a3ff"/><stop offset="0.4655" stop-color="#a5a5ff"/><stop offset="0.4713" stop-color="#ababff"/><stop offset="0.4770" stop-color="#b5b5ff"/><stop offset="0.4828" stop-color="#c1c1ff"/><stop offset="0.4943" stop-color="#e2e2ff"/><stop offset="0.5000" stop-color="#f5f5ff"/><stop offset="0.5057" stop-color="#fff5f5"/><stop offset="0.5172" stop-color="#ffd0d0"/><stop offset="0.5230" stop-color="#ffc2c2"/><stop offset="0.5287" stop-color="#ffbaba"/><stop offset="0.5345" stop-color="#ffb9b9"/><stop offset="0.5402" stop-color="#ffc3c3"/><stop offset="0.5460" stop-color="#ffd9d9"/><stop offset="0.5517" stop-color="#fffafa"/><stop offset="0.5575" stop-color="#dadaff"/><stop offset="0.5632" stop-color="#adadff"/><stop offset="0.5690" stop-color="#8383ff"/><stop offset="0.5747" stop-color="#6262ff"/><stop offset="0.5805" stop-color="#4d4dff"/><stop offset="0.5862" stop-color="#4646ff"/><stop offset="0.5920" stop-color="#4b4bff"/><stop offset="0.5977" stop-color="#5e5eff"/><stop offset="0.6034" stop-color="#7d7dff"/><stop offset="0.6092" stop-color="#a1a1ff"/><stop offset="0.6149" stop-color="#bebeff"/><stop offset="0.6207" stop-color="#d1d1ff"/><stop offset="0.6264" stop-color="#dcdcff"/><stop offset="0.6322" stop-color="#e2e2ff"/><stop offset="0.6379" stop-color="#e4e4ff"/><stop offset="0.6437" stop-color="#e4e4ff"/><stop offset="0.6667" stop-color="#e2e2ff"/><stop offset="0.6897" stop-color="#e0e0ff"/><stop offset="0.7126" stop-color="#dedeff"/><stop offset="0.7299" stop-color="#d3d3ff"/><stop offset="0.7356" stop-color="#d2d2ff"/><stop offset="0.7414" stop-color="#d5d5ff"/><stop offset="0.7529" stop-color="#dfdfff"/><stop offset="0.7586" stop-color="#e2e2ff"/><stop offset="0.7816" stop-color="#e5e5ff"/><stop offset="0.8046" stop-color="#e6e6ff"/><stop offset="0.8276" stop-color="#e7e7ff"/><stop offset="0.8506" stop-color="#e8e8ff"/><stop offset="0.8736" stop-color="#e9e9ff"/><stop offset="0.8966" stop-color="#ebebff"/><stop offset="0.9138" stop-color="#ececff"/><stop offset="0.9195" stop-color="#ebebff"/><stop offset="0.9425" stop-color="#eaeaff"/><stop offset="0.9655" stop-color="#ebebff"/><stop offset="0.9713" stop-color="#ececff"/><stop offset="0.9770" stop-color="#eaeaff"/><stop offset="0.9828" stop-color="#dedeff"/><stop offset="0.9885" stop-color="#c2c2ff"/><stop offset="0.9943" stop-color="#a0a0ff"/><stop offset="1.0000" stop-color="#9898ff"/></linearGradient><linearGradient id="h20"><stop offset="0.0000" stop-color="#ffffff"/><stop offset="0.0057" stop-color="#fbfbff"/><stop offset="0.0115" stop-color="#ebebff"/><stop offset="0.0172" stop-color="#dfdfff"/><stop offset="0.0230" stop-color="#ddddff"/><stop offset="0.0460" stop-color="#dbdbff"/><stop offset="0.0690" stop-color="#dbdbff"/><stop offset="0.0920" stop-color="#dadaff"/><stop offset="0.1149" stop-color="#d6d6ff"/><stop offset="0.1379" stop-color="#d3d3ff"/><stop offset="0.1494" stop-color="#d2d2ff"/><stop offset="0.1609" stop-color="#d3d3ff"/><stop offset="0.1839" stop-color="#d7d7ff"/><stop offset="0.2069" stop-color="#ddddff"/><stop offset="0.2299" stop-color="#e2e2ff"/><stop offset="0.2414" stop-color="#e2e2ff"/><stop offset="0.2529" stop-color="#dedeff"/><stop offset="0.2701" stop-color="#d6d6ff"/><stop offset="0.2759" stop-color="#d8d8ff"/><stop offset="0.2874" stop-color="#dedeff"/><stop offset="0.2931" stop-color="#ddddff"/><stop offset="0.2989" stop-color="#dadaff"/><stop offset="0.3046" stop-color="#dfdfff"/><stop offset="0.3103" stop-color="#eaeaff"/><stop offset="0.3161" stop-color="#f3f3ff"/><stop offset="0.3218" stop-color="#f8f8ff"/><stop offset="0.3333" stop-color="#fefeff"/><stop offset="0.3391" stop-color="#fffdfd"/><stop offset="0.3448" stop-color="#fffafa"/><stop offset="0.3621" stop-color="#fff6f6"/><stop offset="0.3678" stop-color="#fff7f7"/><stop offset="0.3736" stop-color="#fff7f7"/><stop offset="0.3908" stop-color="#fffdfd"/><stop offset="0.3966" stop-color="#fefeff"/><stop offset="0.4023" stop-color="#f9f9ff"/><stop offset="0.4080" stop-color="#f1f1ff"/><stop offset="0.4138" stop-color="#e7e7ff"/><stop offset="0.4253" stop-color="#d1d1ff"/><stop offset="0.4368" stop-color="#c2c2ff"/><stop offset="0.4540" stop-color="#ababff"/><stop offset="0.4598" stop-color="#a8a8ff"/><stop offset="0.4655" stop-color="#a8a8ff"/><stop offset="0.4713" stop-color="#adadff"/><stop offset="0.4770" stop-color="#b6b6ff"/><stop offset="0.4828" stop-color="#c1c1ff"/><stop offset="0.4943" stop-color="#e0e0ff"/><stop offset="0.5000" stop-color="#f2f2ff"/><stop offset="0.5057" stop-color="#fffafa"/><stop offset="0.5115" stop-color="#ffe9e9"/><stop offset="0.5172" stop-color="#ffdada"/><stop offset="0.5230" stop-color="#ffcdcd"/><stop offset="0.5287" stop-color="#ffc6c6"/><stop offset="0.5345" stop-color="#ffc7c7"/><stop offset="0.5402" stop-color="#ffd1d1"/><stop offset="0.5460" stop-color="#ffe6e6"/><stop offset="0.5517" stop-color="#f8f8ff"/><stop offset="0.5575" stop-color="#d0d0ff"/><stop offset="0.5632" stop-color="#a5a5ff"/><stop offset="0.5690" stop-color="#7d7dff"/><stop offset="0.5747" stop-color="#5e5eff"/><stop offset="0.5805" stop-color="#4d4dff"/><stop offset="0.5862" stop-color="#4949ff"/><stop offset="0.5920" stop-color="#5252ff"/><stop offset="0.5977" stop-color="#6868ff"/><stop offset="0.6034" stop-color="#8686ff"/><stop offset="0.6092" stop-color="#a6a6ff"/><stop offset="0.6149" stop-color="#c0c0ff"/><stop offset="0.6207" stop-color="#d1d1ff"/><stop offset="0.6264" stop-color="#dbdbff"/><stop offset="0.6322" stop-color="#e0e0ff"/><stop offset="0.6379" stop-color="#e2e2ff"/><stop offset="0.6437" stop-color="#e2e2ff"/><stop offset="0.6667" stop-color="#dfdfff"/><stop offset="0.6897" stop-color="#ddddff"/><stop offset="0.7126" stop-color="#dcdcff"/><stop offset="0.7299" stop-color="#d3d3ff"/><stop offset="0.7356" stop-color="#d2d2ff"/><stop offset="0.7414" stop-color="#d5d5ff"/><stop offset="0.7529" stop-color="#dedeff"/><stop offset="0.7586" stop-color="#e0e0ff"/><stop offset="0.7816" stop-color="#e3e3ff"/><stop offset="0.8046" stop-color="#e4e4ff"/><stop offset="0.8276" stop-color="#e5e5ff"/><stop offset="0.8506" stop-color="#e6e6ff"/><stop offset="0.8736" stop-color="#e8e8ff"/><stop offset="0.8966" stop-color="#eaeaff"/><stop offset="0.9195" stop-color="#ebebff"/><stop offset="0.9425" stop-color="#eaeaff"/><stop offset="0.9655" stop-color="#ececff"/><stop offset="0.9713" stop-color="#ececff"/><stop offset="0.9770" stop-color="#eaeaff"/><stop offset="0.9828" stop-color="#dedeff"/><stop offset="0.9885" stop-color="#c1c1ff"/><stop offset="0.9943" stop-color="#9e9eff"/><stop offset="1.0000" stop-color="#9696ff"/></linearGradient><linearGradient id="cb" x1="0" y1="0" x2="0" y2="1"><stop offset="0" stop-color="#f00"/><stop offset="0.5" stop-color="#fff"/><stop offset="1" stop-color="#00f"/></linearGradient></defs>
<g><rect x="188.4" y="528.5" width="1393.6" height="5.56" fill="url(#h0)"/><rect x="188.4" y="533.46" width="1393.6" height="5.56" fill="url(#h1)"/><rect x="188.4" y="538.42" width="1393.6" height="5.56" fill="url(#h2)"/><rect x="188.4" y="543.39" width="1393.6" height="5.56" fill="url(#h3)"/><rect x="188.4" y="548.35" width="1393.6" height="5.56" fill="url(#h4)"/><rect x="188.4" y="553.31" width="1393.6" height="5.56" fill="url(#h5)"/><rect x="188.4" y="558.27" width="1393.6" height="5.56" fill="url(#h6)"/><rect x="188.4" y="563.23" width="1393.6" height="5.56" fill="url(#h7)"/><rect x="188.4" y="568.2" width="1393.6" height="5.56" fill="url(#h8)"/><rect x="188.4" y="573.16" width="1393.6" height="5.56" fill="url(#h9)"/><rect x="188.4" y="578.12" width="1393.6" height="5.56" fill="url(#h10)"/><rect x="188.4" y="583.08" width="1393.6" height="5.56" fill="url(#h11)"/><rect x="188.4" y="588.04" width="1393.6" height="5.56" fill="url(#h12)"/><rect x="188.4" y="593" width="1393.6" height="5.56" fill="url(#h13)"/><rect x="188.4" y="597.97" width="1393.6" height="5.56" fill="url(#h14)"/><rect x="188.4" y="602.93" width="1393.6" height="5.56" fill="url(#h15)"/><rect x="188.4" y="607.89" width="1393.6" height="5.56" fill="url(#h16)"/><rect x="188.4" y="612.85" width="1393.6" height="5.56" fill="url(#h17)"/><rect x="188.4" y="617.81" width="1393.6" height="5.56" fill="url(#h18)"/><rect x="188.4" y="622.78" width="1393.6" height="5.56" fill="url(#h19)"/><rect x="188.4" y="627.74" width="1393.6" height="5.56" fill="url(#h20)"/></g>
<rect x="187" y="527.9" width="1396" height="106.4" fill="none" stroke="#000" stroke-width="2.8"/>
<line x1="186.9" y1="526.6" x2="186.9" y2="635.7" stroke="#000" stroke-width="3.4"/>
<line x1="188" y1="581.6" x2="202.9" y2="581.6" stroke="#000" stroke-width="2"/>
<line x1="188" y1="632.3" x2="202.9" y2="632.3" stroke="#000" stroke-width="2"/>
<line x1="188" y1="529.5" x2="203" y2="529.5" stroke="#000" stroke-width="2"/>
<line x1="336" y1="618.2" x2="336" y2="633.5" stroke="#000" stroke-width="2"/>
<line x1="484.2" y1="625.4" x2="484.2" y2="633.5" stroke="#000" stroke-width="2"/>
<line x1="632.4" y1="618.2" x2="632.4" y2="633.5" stroke="#000" stroke-width="2"/>
<line x1="780.6" y1="625.4" x2="780.6" y2="633.5" stroke="#000" stroke-width="2"/>
<line x1="928.8" y1="618.2" x2="928.8" y2="633.5" stroke="#000" stroke-width="2"/>
<line x1="1077" y1="625.4" x2="1077" y2="633.5" stroke="#000" stroke-width="2"/>
<line x1="1225.2" y1="618.2" x2="1225.2" y2="633.5" stroke="#000" stroke-width="2"/>
<line x1="1373.4" y1="625.4" x2="1373.4" y2="633.5" stroke="#000" stroke-width="2"/>
<line x1="1521.6" y1="618.2" x2="1521.6" y2="633.5" stroke="#000" stroke-width="2"/>
<text transform="translate(139.72 539.9) scale(1.0485 1.0300)" font-size="30.4" fill="#231815">0</text>
<text transform="translate(111.53 591.6) scale(1.0049 1.0300)" font-size="30.4" fill="#231815">-10</text>
<text transform="translate(111.53 643.4) scale(1.0049 1.0300)" font-size="30.4" fill="#231815">-20</text>
<text transform="translate(81.4 662.92) rotate(-90) scale(0.9951 1.0300)" font-size="30.4" fill="#231815">Depth (km)</text>
<rect x="1606.9" y="474.4" width="29.7" height="192" fill="url(#cb)" stroke="#000" stroke-width="2"/>
<line x1="1636" y1="474.6" x2="1646" y2="474.6" stroke="#000" stroke-width="2"/>
<line x1="1636" y1="522.4" x2="1646" y2="522.4" stroke="#000" stroke-width="2"/>
<line x1="1636" y1="570.4" x2="1646" y2="570.4" stroke="#000" stroke-width="2"/>
<line x1="1636" y1="618.4" x2="1646" y2="618.4" stroke="#000" stroke-width="2"/>
<line x1="1636" y1="666.4" x2="1646" y2="666.4" stroke="#000" stroke-width="2"/>
<text transform="translate(1667 485.2) scale(1.0988 1.0300)" font-size="30.4" fill="#231815">8</text>
<text transform="translate(1667.88 533) scale(1.0227 1.0300)" font-size="30.4" fill="#231815">4</text>
<text transform="translate(1667.19 581) scale(1.0759 1.0300)" font-size="30.4" fill="#231815">0</text>
<text transform="translate(1656.76 629) scale(1.0494 1.0300)" font-size="30.4" fill="#231815">-4</text>
<text transform="translate(1656.75 677) scale(1.0624 1.0300)" font-size="30.4" fill="#231815">-8</text>
<text transform="translate(1735.3 665.17) rotate(-90) scale(0.9983 1.0300)" font-size="30.4" fill="#231815">Stress (Mpa)</text>
<rect x="188.7" y="715.3" width="1393" height="244" fill="none" stroke="#000" stroke-width="3"/>
<line x1="188.7" y1="749.6" x2="204.7" y2="749.6" stroke="#000" stroke-width="2.1"/>
<line x1="188.7" y1="837" x2="204.7" y2="837" stroke="#000" stroke-width="2.1"/>
<line x1="188.7" y1="924.2" x2="204.7" y2="924.2" stroke="#000" stroke-width="2.1"/>
<line x1="188.7" y1="793.1" x2="198.5" y2="793.1" stroke="#000" stroke-width="2.1"/>
<line x1="188.7" y1="880.5" x2="198.5" y2="880.5" stroke="#000" stroke-width="2.1"/>
<line x1="336.5" y1="942.8" x2="336.5" y2="959" stroke="#000" stroke-width="2.1"/>
<line x1="484.7" y1="950.3" x2="484.7" y2="959" stroke="#000" stroke-width="2.1"/>
<line x1="632.9" y1="942.8" x2="632.9" y2="959" stroke="#000" stroke-width="2.1"/>
<line x1="781.1" y1="950.3" x2="781.1" y2="959" stroke="#000" stroke-width="2.1"/>
<line x1="929.3" y1="942.8" x2="929.3" y2="959" stroke="#000" stroke-width="2.1"/>
<line x1="1077.5" y1="950.3" x2="1077.5" y2="959" stroke="#000" stroke-width="2.1"/>
<line x1="1225.7" y1="942.8" x2="1225.7" y2="959" stroke="#000" stroke-width="2.1"/>
<line x1="1373.9" y1="950.3" x2="1373.9" y2="959" stroke="#000" stroke-width="2.1"/>
<line x1="1522.1" y1="942.8" x2="1522.1" y2="959" stroke="#000" stroke-width="2.1"/>
<text transform="translate(114.66 763.3) scale(1.0000 1.0300)" font-size="30.4" fill="#231815">1.5</text>
<text transform="translate(114.51 850.2) scale(1.0000 1.0300)" font-size="30.4" fill="#231815">1.0</text>
<text transform="translate(114.66 937.8) scale(1.0000 1.0300)" font-size="30.4" fill="#231815">0.5</text>
<text transform="translate(81.1 899.68) rotate(-90) scale(1.0043 1.0300)" font-size="30.4" fill="#231815">b value</text>
<text transform="translate(306.95 1005.8) scale(1.0222 1.0300)" font-size="30.4" fill="#231815">29.0</text>
<text transform="translate(603.34 1005.8) scale(1.0250 1.0300)" font-size="30.4" fill="#231815">28.5</text>
<text transform="translate(899.75 1005.8) scale(1.0222 1.0300)" font-size="30.4" fill="#231815">28.0</text>
<text transform="translate(1196.14 1005.8) scale(1.0250 1.0300)" font-size="30.4" fill="#231815">27.5</text>
<text transform="translate(1492.55 1005.8) scale(1.0222 1.0300)" font-size="30.4" fill="#231815">27.0</text>
<text transform="translate(855.05 1054.2) scale(1.0080 1.0300)" font-size="30.4" fill="#231815">Latitude(</text>
<text transform="translate(978.79 1045.3) scale(1.1600 1.0000)" font-size="19.6" fill="#111" stroke="#fff" stroke-width="0.5">o</text>
<text transform="translate(992.86 1054.2) scale(0.8937 1.0300)" font-size="30.4" fill="#231815">)</text>
<line x1="190.2" y1="837" x2="1585" y2="837" stroke="#8a8a8a" stroke-width="2" stroke-dasharray="20.6 13.4" stroke-dashoffset="10.1"/>
<g stroke="#a0a0a0" stroke-width="3.4" fill="none"><path d="M246.53 846.43 V859.7 M241.53 847.03 h10 M241.53 859.1 h10"/><path d="M272.81 848.18 V860.95 M267.81 848.78 h10 M267.81 860.35 h10"/><path d="M299.59 848.43 V861.45 M294.59 849.03 h10 M294.59 860.85 h10"/><path d="M326.13 848.43 V861.45 M321.13 849.03 h10 M321.13 860.85 h10"/><path d="M352.91 847.68 V861.7 M347.91 848.28 h10 M347.91 861.1 h10"/><path d="M379.44 849.43 V868.2 M374.44 850.03 h10 M374.44 867.6 h10"/><path d="M405.72 855.19 V876.46 M400.72 855.79 h10 M400.72 875.86 h10"/><path d="M432.29 859.43 V884.46 M427.29 860.03 h10 M427.29 883.86 h10"/><path d="M458.32 851.92 V887.72 M453.32 852.52 h10 M453.32 887.12 h10"/><path d="M485.35 826.9 V878.2 M480.35 827.5 h10 M480.35 877.6 h10"/><path d="M590.47 723.78 V800.12 M585.47 724.38 h10 M585.47 799.52 h10"/><path d="M618 723.78 V798.11 M613 724.38 h10 M613 797.51 h10"/><path d="M644.53 740.05 V811.88 M639.53 740.65 h10 M639.53 811.28 h10"/><path d="M671.06 763.82 V830.65 M666.06 764.42 h10 M666.06 830.05 h10"/><path d="M697.84 776.34 V839.66 M692.84 776.94 h10 M692.84 839.06 h10"/><path d="M724.62 773.08 V838.16 M719.62 773.68 h10 M719.62 837.56 h10"/><path d="M750.9 807.12 V858.18 M745.9 807.72 h10 M745.9 857.58 h10"/><path d="M777.93 823.14 V866.44 M772.93 823.74 h10 M772.93 865.84 h10"/><path d="M804.72 824.39 V867.19 M799.72 824.99 h10 M799.72 866.59 h10"/><path d="M831.26 835.91 V869.44 M826.26 836.51 h10 M826.26 868.84 h10"/><path d="M858.29 835.16 V865.19 M853.29 835.76 h10 M853.29 864.59 h10"/><path d="M885.33 846.42 V871.45 M880.33 847.02 h10 M880.33 870.85 h10"/><path d="M911.86 856.43 V876.45 M906.86 857.03 h10 M906.86 875.85 h10"/><path d="M938.39 855.18 V874.45 M933.39 855.78 h10 M933.39 873.85 h10"/><path d="M965.17 856.43 V874.45 M960.17 857.03 h10 M960.17 873.85 h10"/><path d="M990.45 857.68 V875.95 M985.45 858.28 h10 M985.45 875.35 h10"/><path d="M1012.22 858.93 V878.46 M1007.22 859.53 h10 M1007.22 877.86 h10"/><path d="M1035.75 861.44 V881.96 M1030.75 862.04 h10 M1030.75 881.36 h10"/><path d="M1059.02 860.68 V882.71 M1054.02 861.28 h10 M1054.02 882.11 h10"/><path d="M1081.8 860.68 V886.46 M1076.8 861.28 h10 M1076.8 885.86 h10"/><path d="M1105.33 860.18 V886.97 M1100.33 860.78 h10 M1100.33 886.37 h10"/><path d="M1128.35 856.43 V883.96 M1123.35 857.03 h10 M1123.35 883.36 h10"/><path d="M1225.78 842.66 V884.71 M1220.78 843.26 h10 M1220.78 884.11 h10"/><path d="M1250.31 838.16 V877.2 M1245.31 838.76 h10 M1245.31 876.6 h10"/><path d="M1274.59 830.65 V863.44 M1269.59 831.25 h10 M1269.59 862.84 h10"/><path d="M1298.61 828.4 V856.93 M1293.61 829 h10 M1293.61 856.33 h10"/><path d="M1321.89 828.15 V855.18 M1316.89 828.75 h10 M1316.89 854.58 h10"/><path d="M1345.67 827.15 V854.68 M1340.67 827.75 h10 M1340.67 854.08 h10"/><path d="M1369.44 831.4 V855.18 M1364.44 832 h10 M1364.44 854.58 h10"/><path d="M1392.72 831.4 V851.42 M1387.72 832 h10 M1387.72 850.82 h10"/><path d="M1415.75 828.9 V845.92 M1410.75 829.5 h10 M1410.75 845.32 h10"/><path d="M1437.77 824.39 V839.41 M1432.77 824.99 h10 M1432.77 838.81 h10"/><path d="M1459.55 820.89 V835.16 M1454.55 821.49 h10 M1454.55 834.56 h10"/><path d="M1481.57 821.89 V835.16 M1476.57 822.49 h10 M1476.57 834.56 h10"/><path d="M1503.6 822.64 V833.9 M1498.6 823.24 h10 M1498.6 833.3 h10"/><path d="M1525.37 823.14 V832.15 M1520.37 823.74 h10 M1520.37 831.55 h10"/><path d="M1549.4 822.14 V835.16 M1544.4 822.74 h10 M1544.4 834.56 h10"/></g>
<g fill="#000" stroke="#999" stroke-width="1.9"><circle cx="219.75" cy="855.69" r="5.95"/><circle cx="246.53" cy="852.94" r="5.95"/><circle cx="272.81" cy="854.44" r="5.95"/><circle cx="299.59" cy="854.94" r="5.95"/><circle cx="326.13" cy="854.94" r="5.95"/><circle cx="352.91" cy="854.69" r="5.95"/><circle cx="379.44" cy="859.44" r="5.95"/><circle cx="405.72" cy="866.7" r="5.95"/><circle cx="432.29" cy="871.95" r="5.95"/><circle cx="458.32" cy="870.45" r="5.95"/><circle cx="485.35" cy="852.43" r="5.95"/><circle cx="590.47" cy="761.82" r="5.95"/><circle cx="618" cy="761.07" r="5.95"/><circle cx="644.53" cy="775.59" r="5.95"/><circle cx="671.06" cy="796.86" r="5.95"/><circle cx="697.84" cy="808.37" r="5.95"/><circle cx="724.62" cy="806.12" r="5.95"/><circle cx="750.9" cy="832.65" r="5.95"/><circle cx="777.93" cy="844.92" r="5.95"/><circle cx="804.72" cy="845.92" r="5.95"/><circle cx="831.26" cy="852.93" r="5.95"/><circle cx="858.29" cy="850.17" r="5.95"/><circle cx="885.33" cy="858.68" r="5.95"/><circle cx="911.86" cy="866.19" r="5.95"/><circle cx="938.39" cy="864.69" r="5.95"/><circle cx="965.17" cy="865.19" r="5.95"/><circle cx="990.45" cy="866.94" r="5.95"/><circle cx="1012.22" cy="868.69" r="5.95"/><circle cx="1035.75" cy="871.7" r="5.95"/><circle cx="1059.02" cy="871.95" r="5.95"/><circle cx="1081.8" cy="873.45" r="5.95"/><circle cx="1105.33" cy="873.45" r="5.95"/><circle cx="1128.35" cy="870.45" r="5.95"/><circle cx="1225.78" cy="863.94" r="5.95"/><circle cx="1250.31" cy="858.18" r="5.95"/><circle cx="1274.59" cy="846.67" r="5.95"/><circle cx="1298.61" cy="842.91" r="5.95"/><circle cx="1321.89" cy="841.91" r="5.95"/><circle cx="1345.67" cy="841.16" r="5.95"/><circle cx="1369.44" cy="843.41" r="5.95"/><circle cx="1392.72" cy="841.91" r="5.95"/><circle cx="1415.75" cy="837.41" r="5.95"/><circle cx="1437.77" cy="831.65" r="5.95"/><circle cx="1459.55" cy="828.15" r="5.95"/><circle cx="1481.57" cy="828.15" r="5.95"/><circle cx="1503.6" cy="828.15" r="5.95"/><circle cx="1525.37" cy="827.4" r="5.95"/><circle cx="1549.4" cy="828.9" r="5.95"/></g>
<text transform="translate(279.99 765.4) scale(0.9988 1.0300)" font-size="27" fill="#000">stress=2.45 Mpa</text>
<text transform="translate(581.89 878) scale(1.0034 1.0300)" font-size="27" fill="#000">stress=1.18 Mpa</text>
<text transform="translate(830.99 761.6) scale(1.0009 1.0300)" font-size="27" fill="#000">stress=3.12 Mpa</text>
<text transform="translate(1263.79 761.6) scale(0.9998 1.0300)" font-size="27" fill="#000">stress=1.03 Mpa</text>
<text transform="translate(295.39 799.2) scale(1.0051 1)" font-size="27" fill="#000" style="white-space:pre"><tspan font-weight="bold" font-style="italic">b</tspan> value=0.88</text>
<text transform="translate(605.29 909.3) scale(1.0038 1)" font-size="27" fill="#000" style="white-space:pre"><tspan font-weight="bold" font-style="italic">b</tspan> value=1.23</text>
<text transform="translate(846.59 794.9) scale(1.0051 1)" font-size="27" fill="#000" style="white-space:pre"><tspan font-weight="bold" font-style="italic">b</tspan> value=0.86</text>
<text transform="translate(1279.7 794.9) scale(0.9987 1)" font-size="27" fill="#000" style="white-space:pre"><tspan font-weight="bold" font-style="italic">b</tspan> value=0.98</text>
<clipPath id="cpB"><rect x="188" y="530.6" width="1394" height="102.6"/></clipPath>
<g fill="none" stroke="#cb7300" opacity="0.74" stroke-width="3.8" stroke-linecap="butt"><path d="M215.7 526.7 L215.7 926.1" stroke-dasharray="20.42 10.01" stroke-dashoffset="8.31"/><path d="M539.7 526.7 L539.7 926.1" stroke-dasharray="20.42 10.01" stroke-dashoffset="8.31"/><path d="M213.8 528.6 L541.6 528.6" stroke-dasharray="19.8 9.65" stroke-dashoffset="8"/><path d="M213.8 924.2 L541.6 924.2" stroke-dasharray="19.8 9.65" stroke-dashoffset="8"/><path d="M598.3 526.7 L598.3 926.1" stroke-dasharray="20.42 10.01" stroke-dashoffset="8.31"/><path d="M769.8 526.7 L769.8 926.1" stroke-dasharray="20.42 10.01" stroke-dashoffset="8.31"/><path d="M596.4 528.6 L771.7 528.6" stroke-dasharray="19.22 9.37" stroke-dashoffset="7.71"/><path d="M596.4 924.2 L771.7 924.2" stroke-dasharray="19.22 9.37" stroke-dashoffset="7.71"/><path d="M803.4 526.7 L803.4 926.1" stroke-dasharray="20.42 10.01" stroke-dashoffset="8.31"/><path d="M1044.9 526.7 L1044.9 926.1" stroke-dasharray="20.42 10.01" stroke-dashoffset="8.31"/><path d="M801.5 528.6 L1046.8 528.6" stroke-dasharray="20.3 9.89" stroke-dashoffset="8.25"/><path d="M801.5 924.2 L1046.8 924.2" stroke-dasharray="20.3 9.89" stroke-dashoffset="8.25"/><path d="M1240.9 526.7 L1240.9 926.1" stroke-dasharray="20.42 10.01" stroke-dashoffset="8.31"/><path d="M1482 526.7 L1482 926.1" stroke-dasharray="20.42 10.01" stroke-dashoffset="8.31"/><path d="M1239 528.6 L1483.9 528.6" stroke-dasharray="20.26 9.88" stroke-dashoffset="8.23"/><path d="M1239 924.2 L1483.9 924.2" stroke-dasharray="20.26 9.88" stroke-dashoffset="8.23"/></g>
<g fill="none" stroke="#d09040" stroke-width="4.9" clip-path="url(#cpB)"><path d="M215.7 528.6 V924.2" stroke-dasharray="20.42 10.01" stroke-dashoffset="10.21"/><path d="M539.7 528.6 V924.2" stroke-dasharray="20.42 10.01" stroke-dashoffset="10.21"/><path d="M598.3 528.6 V924.2" stroke-dasharray="20.42 10.01" stroke-dashoffset="10.21"/><path d="M769.8 528.6 V924.2" stroke-dasharray="20.42 10.01" stroke-dashoffset="10.21"/><path d="M803.4 528.6 V924.2" stroke-dasharray="20.42 10.01" stroke-dashoffset="10.21"/><path d="M1044.9 528.6 V924.2" stroke-dasharray="20.42 10.01" stroke-dashoffset="10.21"/><path d="M1240.9 528.6 V924.2" stroke-dasharray="20.42 10.01" stroke-dashoffset="10.21"/><path d="M1482 528.6 V924.2" stroke-dasharray="20.42 10.01" stroke-dashoffset="10.21"/></g>
<rect x="326.1" y="1412.3" width="18.2" height="14.8" fill="#d93a1c" stroke="#21499a" stroke-width="3.4"/>
<rect x="488.8" y="1410" width="18.2" height="14.1" fill="#d93a1c" stroke="#21499a" stroke-width="3.4"/>
<rect x="583" y="1336.9" width="17.9" height="35.1" fill="#d93a1c" stroke="#21499a" stroke-width="3.4"/>
<rect x="624.8" y="1406.7" width="17.4" height="14.1" fill="#d93a1c" stroke="#21499a" stroke-width="3.4"/>
<rect x="834" y="1404.2" width="17.9" height="18.6" fill="#d93a1c" stroke="#21499a" stroke-width="3.4"/>
<rect x="1038.8" y="1272.8" width="17.9" height="66.9" fill="#d93a1c" stroke="#21499a" stroke-width="3.4"/>
<polyline fill="none" stroke="#000" stroke-width="2.6" stroke-linejoin="miter" points="221.8,1419.6 248.4,1409.3 275.2,1416.2 301.8,1420.3 329.4,1412.2 355.8,1379.7 382.3,1240.5 435.3,1272.4 461.1,1379.5 488.4,1403.3 514.7,1394 541.2,1335.7 567.5,1196.3 593.8,1382.5 621.3,1424 648.1,1435.8 675.2,1438.3 701.9,1435.8 729,1424.5 755.7,1385.7 782.8,1105.5 836.6,1388.8 862.9,1420.3 890.4,1430.8 917.9,1435.3 943,1435.8 970,1434.1 995.6,1424.5 1018.8,1397.8 1041.4,1315.7 1065.1,1355.7 1088.2,1409.5 1111.4,1425.3 1134.7,1428.3 1158.5,1417 1183.3,1375 1208.1,1105.5 1232.7,1200.3 1257.1,1382 1281.6,1416.3 1305.7,1425 1329.5,1426 1353,1423.8 1376.4,1417.5 1400.6,1404.5 1423.1,1381.2 1445.4,1352 1467.6,1295.1 1489.1,1129.6 1534,1249.3 1557,1397.8 1581.3,1417.5"/>
<rect x="185.5" y="1087.8" width="1396.3" height="370.5" fill="none" stroke="#1a1a1a" stroke-width="2.8"/>
<line x1="186" y1="1115.1" x2="203.2" y2="1115.1" stroke="#1a1a1a" stroke-width="2.5"/>
<line x1="186" y1="1183.9" x2="203.2" y2="1183.9" stroke="#1a1a1a" stroke-width="2.5"/>
<line x1="186" y1="1252.2" x2="203.2" y2="1252.2" stroke="#1a1a1a" stroke-width="2.5"/>
<line x1="186" y1="1320.8" x2="203.2" y2="1320.8" stroke="#1a1a1a" stroke-width="2.5"/>
<line x1="186" y1="1389.6" x2="203.2" y2="1389.6" stroke="#1a1a1a" stroke-width="2.5"/>
<line x1="334.5" y1="1440" x2="334.5" y2="1458" stroke="#1a1a1a" stroke-width="2.3"/>
<line x1="482.6" y1="1447.6" x2="482.6" y2="1458" stroke="#1a1a1a" stroke-width="2.3"/>
<line x1="630.9" y1="1440" x2="630.9" y2="1458" stroke="#1a1a1a" stroke-width="2.3"/>
<line x1="779" y1="1447.6" x2="779" y2="1458" stroke="#1a1a1a" stroke-width="2.3"/>
<line x1="927.3" y1="1440" x2="927.3" y2="1458" stroke="#1a1a1a" stroke-width="2.3"/>
<line x1="1075.4" y1="1447.6" x2="1075.4" y2="1458" stroke="#1a1a1a" stroke-width="2.3"/>
<line x1="1223.7" y1="1440" x2="1223.7" y2="1458" stroke="#1a1a1a" stroke-width="2.3"/>
<line x1="1371.8" y1="1447.6" x2="1371.8" y2="1458" stroke="#1a1a1a" stroke-width="2.3"/>
<line x1="1520.1" y1="1440" x2="1520.1" y2="1458" stroke="#1a1a1a" stroke-width="2.3"/>
<text transform="translate(136.24 1125.8) scale(1.0000 1.0300)" font-size="30.4" fill="#231815">5</text>
<text transform="translate(135.94 1194.6) scale(1.0000 1.0300)" font-size="30.4" fill="#231815">4</text>
<text transform="translate(136.24 1262.9) scale(1.0000 1.0300)" font-size="30.4" fill="#231815">3</text>
<text transform="translate(136.55 1331.5) scale(1.0000 1.0300)" font-size="30.4" fill="#231815">2</text>
<text transform="translate(136.4 1400.3) scale(1.0000 1.0300)" font-size="30.4" fill="#231815">1</text>
<text transform="translate(136.09 1468.9) scale(1.0000 1.0300)" font-size="30.4" fill="#231815">0</text>
<text transform="translate(82.6 1422.81) rotate(-90) scale(0.9927 1.0300)" font-size="30.4" fill="#231815">Recurrence time (kyr)</text>
<text transform="translate(306.25 1505.9) scale(1.0222 1.0300)" font-size="30.4" fill="#231815">29.0</text>
<text transform="translate(602.64 1505.9) scale(1.0250 1.0300)" font-size="30.4" fill="#231815">28.5</text>
<text transform="translate(899.05 1505.9) scale(1.0222 1.0300)" font-size="30.4" fill="#231815">28.0</text>
<text transform="translate(1195.44 1505.9) scale(1.0250 1.0300)" font-size="30.4" fill="#231815">27.5</text>
<text transform="translate(1491.85 1505.9) scale(1.0222 1.0300)" font-size="30.4" fill="#231815">27.0</text>
<text transform="translate(862.97 1550.2) scale(0.9976 1.0300)" font-size="30.4" fill="#231815">Latitude(</text>
<text transform="translate(984.07 1541.7) scale(1.1815 1.0000)" font-size="19.6" fill="#111" stroke="#fff" stroke-width="0.5">o</text>
<text transform="translate(999.97 1550.2) scale(0.8565 1.0300)" font-size="30.4" fill="#231815">)</text>
<text transform="translate(221.29 1381.8) scale(1.0234 1.0400)" font-size="27" fill="#ff9300">0.5-0.7 kyr</text>
<text transform="translate(438.7 1382.6) scale(1.0178 1.0400)" font-size="27" fill="#ff9300">0.5-0.7 kyr</text>
<text transform="translate(351.73 1423.9) scale(0.9452 1.0400)" font-size="27" fill="#231815">Zimakua</text>
<text transform="translate(508.57 1443.9) scale(0.9324 1.0400)" font-size="27" fill="#231815">Yejidong</text>
<text transform="translate(585.8 1293.7) scale(0.9603 1.0400)" font-size="27" fill="#231815">Ganhaizi</text>
<text transform="translate(589.3 1320) scale(0.9853 1.0400)" font-size="27" fill="#ff9300">1.3-1.9 Kyr</text>
<text transform="translate(612.21 1370.1) scale(0.9689 1.0400)" font-size="27" fill="#231815">Maoheshan</text>
<text transform="translate(613.21 1400.1) scale(1.0065 1.0400)" font-size="27" fill="#ff9300">0.7-0.8 Kyr</text>
<text transform="translate(838.46 1353.8) scale(0.9499 1.0400)" font-size="27" fill="#231815">Yuehua</text>
<text transform="translate(844.82 1390.1) scale(1.0043 1.0400)" font-size="27" fill="#ff9300">0.6-0.8 Kyr</text>
<text transform="translate(1029.35 1234.4) scale(0.9512 1.0400)" font-size="27" fill="#231815">Dajingliangzi</text>
<text transform="translate(1029.37 1263.2) scale(1.0090 1.0400)" font-size="27" fill="#ff9300">~2.3 kyr</text>
</svg>
</body></html>
